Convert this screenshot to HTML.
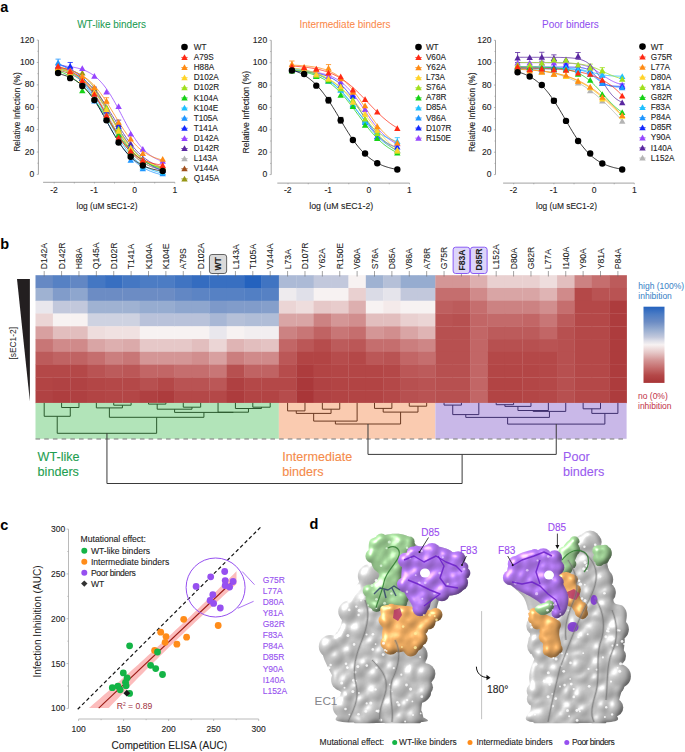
<!DOCTYPE html><html><head><meta charset="utf-8"><style>html,body{margin:0;padding:0;background:#fff;}body{width:685px;height:752px;overflow:hidden;}svg{display:block;}text{font-family:"Liberation Sans",sans-serif;}</style></head><body><svg width="685" height="752" viewBox="0 0 685 752"><text x="0.30" y="12.00" font-size="14.5" fill="#000" text-anchor="start" font-weight="bold" >a</text>
<text x="111.60" y="27.70" font-size="10" fill="#1a9b52" stroke="#1a9b52" stroke-width="0.05" text-anchor="middle" font-weight="normal" >WT-like binders</text>
<line x1="38.4" y1="40.10" x2="38.4" y2="174.40" stroke="#8a8a8a" stroke-width="0.8"/>
<line x1="36.80" y1="174.40" x2="38.4" y2="174.40" stroke="#8a8a8a" stroke-width="0.6"/>
<text x="34.40" y="177.00" font-size="8.6" fill="#222" stroke="#222" stroke-width="0.1" text-anchor="end" font-weight="normal" >0</text>
<line x1="37.40" y1="163.21" x2="38.4" y2="163.21" stroke="#8a8a8a" stroke-width="0.6"/>
<line x1="36.80" y1="152.02" x2="38.4" y2="152.02" stroke="#8a8a8a" stroke-width="0.6"/>
<text x="34.40" y="154.62" font-size="8.6" fill="#222" stroke="#222" stroke-width="0.1" text-anchor="end" font-weight="normal" >20</text>
<line x1="37.40" y1="140.82" x2="38.4" y2="140.82" stroke="#8a8a8a" stroke-width="0.6"/>
<line x1="36.80" y1="129.63" x2="38.4" y2="129.63" stroke="#8a8a8a" stroke-width="0.6"/>
<text x="34.40" y="132.23" font-size="8.6" fill="#222" stroke="#222" stroke-width="0.1" text-anchor="end" font-weight="normal" >40</text>
<line x1="37.40" y1="118.44" x2="38.4" y2="118.44" stroke="#8a8a8a" stroke-width="0.6"/>
<line x1="36.80" y1="107.25" x2="38.4" y2="107.25" stroke="#8a8a8a" stroke-width="0.6"/>
<text x="34.40" y="109.85" font-size="8.6" fill="#222" stroke="#222" stroke-width="0.1" text-anchor="end" font-weight="normal" >60</text>
<line x1="37.40" y1="96.06" x2="38.4" y2="96.06" stroke="#8a8a8a" stroke-width="0.6"/>
<line x1="36.80" y1="84.87" x2="38.4" y2="84.87" stroke="#8a8a8a" stroke-width="0.6"/>
<text x="34.40" y="87.47" font-size="8.6" fill="#222" stroke="#222" stroke-width="0.1" text-anchor="end" font-weight="normal" >80</text>
<line x1="37.40" y1="73.67" x2="38.4" y2="73.67" stroke="#8a8a8a" stroke-width="0.6"/>
<line x1="36.80" y1="62.48" x2="38.4" y2="62.48" stroke="#8a8a8a" stroke-width="0.6"/>
<text x="34.40" y="65.08" font-size="8.6" fill="#222" stroke="#222" stroke-width="0.1" text-anchor="end" font-weight="normal" >100</text>
<line x1="37.40" y1="51.29" x2="38.4" y2="51.29" stroke="#8a8a8a" stroke-width="0.6"/>
<line x1="36.80" y1="40.10" x2="38.4" y2="40.10" stroke="#8a8a8a" stroke-width="0.6"/>
<text x="34.40" y="42.70" font-size="8.6" fill="#222" stroke="#222" stroke-width="0.1" text-anchor="end" font-weight="normal" >120</text>
<line x1="43.1" y1="182.3" x2="174.80" y2="182.3" stroke="#8a8a8a" stroke-width="0.8"/>
<line x1="54.20" y1="182.3" x2="54.20" y2="183.50" stroke="#8a8a8a" stroke-width="0.6"/>
<text x="54.00" y="193.20" font-size="8.6" fill="#222" stroke="#222" stroke-width="0.1" text-anchor="middle" font-weight="normal" >-2</text>
<line x1="74.30" y1="182.3" x2="74.30" y2="183.50" stroke="#8a8a8a" stroke-width="0.6"/>
<line x1="94.40" y1="182.3" x2="94.40" y2="183.50" stroke="#8a8a8a" stroke-width="0.6"/>
<text x="94.20" y="193.20" font-size="8.6" fill="#222" stroke="#222" stroke-width="0.1" text-anchor="middle" font-weight="normal" >-1</text>
<line x1="114.50" y1="182.3" x2="114.50" y2="183.50" stroke="#8a8a8a" stroke-width="0.6"/>
<line x1="134.60" y1="182.3" x2="134.60" y2="183.50" stroke="#8a8a8a" stroke-width="0.6"/>
<text x="134.60" y="193.20" font-size="8.6" fill="#222" stroke="#222" stroke-width="0.1" text-anchor="middle" font-weight="normal" >0</text>
<line x1="154.70" y1="182.3" x2="154.70" y2="183.50" stroke="#8a8a8a" stroke-width="0.6"/>
<line x1="174.80" y1="182.3" x2="174.80" y2="183.50" stroke="#8a8a8a" stroke-width="0.6"/>
<text x="174.80" y="193.20" font-size="8.6" fill="#222" stroke="#222" stroke-width="0.1" text-anchor="middle" font-weight="normal" >1</text>
<text x="107.00" y="208.50" font-size="8.4" fill="#222" stroke="#222" stroke-width="0.1" text-anchor="middle" font-weight="normal" >log (uM sEC1-2)</text>
<text x="0.00" y="0.00" font-size="8.4" fill="#222" stroke="#222" stroke-width="0.1" text-anchor="middle" font-weight="normal" transform="translate(20.00,112.05) rotate(-90)">Relative Infection (%)</text>
<polyline points="58.10,67.49 58.97,67.61 59.84,67.74 60.71,67.87 61.59,68.01 62.46,68.16 63.33,68.32 64.20,68.49 65.07,68.68 65.94,68.87 66.82,69.08 67.69,69.30 68.56,69.53 69.43,69.78 70.30,70.04 71.17,70.32 72.05,70.62 72.92,70.94 73.79,71.27 74.66,71.63 75.53,72.01 76.40,72.41 77.28,72.83 78.15,73.28 79.02,73.76 79.89,74.26 80.76,74.80 81.63,75.36 82.51,75.95 83.38,76.58 84.25,77.24 85.12,77.93 85.99,78.66 86.86,79.43 87.74,80.23 88.61,81.08 89.48,81.96 90.35,82.89 91.22,83.86 92.09,84.87 92.97,85.93 93.84,87.03 94.71,88.17 95.58,89.35 96.45,90.58 97.32,91.86 98.20,93.17 99.07,94.53 99.94,95.93 100.81,97.37 101.68,98.84 102.55,100.35 103.43,101.90 104.30,103.48 105.17,105.08 106.04,106.71 106.91,108.37 107.78,110.04 108.66,111.73 109.53,113.44 110.40,115.15 111.27,116.87 112.14,118.59 113.01,120.31 113.89,122.02 114.76,123.73 115.63,125.42 116.50,127.09 117.37,128.75 118.24,130.38 119.12,131.98 119.99,133.56 120.86,135.11 121.73,136.62 122.60,138.09 123.47,139.53 124.35,140.93 125.22,142.28 126.09,143.60 126.96,144.87 127.83,146.10 128.70,147.29 129.58,148.43 130.45,149.53 131.32,150.58 132.19,151.59 133.06,152.56 133.93,153.49 134.81,154.37 135.68,155.22 136.55,156.02 137.42,156.79 138.29,157.52 139.16,158.22 140.04,158.87 140.91,159.50 141.78,160.09 142.65,160.65 143.52,161.18 144.39,161.69 145.27,162.16 146.14,162.61 147.01,163.04 147.88,163.44 148.75,163.82 149.62,164.17 150.50,164.51 151.37,164.82 152.24,165.12 153.11,165.40 153.98,165.67 154.85,165.92 155.73,166.15 156.60,166.37 157.47,166.58 158.34,166.77 159.21,166.95 160.08,167.12 160.96,167.28 161.83,167.43 162.70,167.58" fill="none" stroke="#969614" stroke-width="0.8"/>
<polyline points="58.10,70.26 58.97,70.45 59.84,70.64 60.71,70.84 61.59,71.06 62.46,71.29 63.33,71.53 64.20,71.78 65.07,72.05 65.94,72.33 66.82,72.63 67.69,72.94 68.56,73.27 69.43,73.62 70.30,73.99 71.17,74.38 72.05,74.79 72.92,75.22 73.79,75.67 74.66,76.14 75.53,76.64 76.40,77.16 77.28,77.71 78.15,78.29 79.02,78.89 79.89,79.52 80.76,80.18 81.63,80.88 82.51,81.60 83.38,82.35 84.25,83.14 85.12,83.96 85.99,84.81 86.86,85.70 87.74,86.62 88.61,87.58 89.48,88.57 90.35,89.60 91.22,90.67 92.09,91.77 92.97,92.90 93.84,94.07 94.71,95.28 95.58,96.52 96.45,97.79 97.32,99.09 98.20,100.43 99.07,101.79 99.94,103.18 100.81,104.60 101.68,106.04 102.55,107.51 103.43,108.99 104.30,110.50 105.17,112.02 106.04,113.55 106.91,115.09 107.78,116.65 108.66,118.20 109.53,119.76 110.40,121.32 111.27,122.88 112.14,124.43 113.01,125.98 113.89,127.51 114.76,129.03 115.63,130.54 116.50,132.02 117.37,133.49 118.24,134.93 119.12,136.35 119.99,137.75 120.86,139.11 121.73,140.45 122.60,141.75 123.47,143.02 124.35,144.26 125.22,145.47 126.09,146.64 126.96,147.78 127.83,148.88 128.70,149.95 129.58,150.98 130.45,151.97 131.32,152.93 132.19,153.86 133.06,154.75 133.93,155.60 134.81,156.42 135.68,157.21 136.55,157.97 137.42,158.69 138.29,159.38 139.16,160.05 140.04,160.68 140.91,161.28 141.78,161.86 142.65,162.41 143.52,162.94 144.39,163.44 145.27,163.91 146.14,164.36 147.01,164.79 147.88,165.20 148.75,165.59 149.62,165.96 150.50,166.31 151.37,166.64 152.24,166.96 153.11,167.26 153.98,167.54 154.85,167.81 155.73,168.06 156.60,168.30 157.47,168.53 158.34,168.75 159.21,168.95 160.08,169.15 160.96,169.33 161.83,169.50 162.70,169.67" fill="none" stroke="#a0501e" stroke-width="0.8"/>
<polyline points="58.10,69.06 58.97,69.24 59.84,69.44 60.71,69.65 61.59,69.86 62.46,70.09 63.33,70.34 64.20,70.59 65.07,70.86 65.94,71.15 66.82,71.45 67.69,71.77 68.56,72.10 69.43,72.45 70.30,72.82 71.17,73.21 72.05,73.62 72.92,74.05 73.79,74.50 74.66,74.97 75.53,75.47 76.40,75.99 77.28,76.54 78.15,77.12 79.02,77.72 79.89,78.35 80.76,79.00 81.63,79.69 82.51,80.41 83.38,81.16 84.25,81.94 85.12,82.75 85.99,83.60 86.86,84.48 87.74,85.39 88.61,86.34 89.48,87.33 90.35,88.35 91.22,89.40 92.09,90.49 92.97,91.61 93.84,92.77 94.71,93.97 95.58,95.19 96.45,96.45 97.32,97.74 98.20,99.07 99.07,100.42 99.94,101.80 100.81,103.20 101.68,104.64 102.55,106.09 103.43,107.57 104.30,109.06 105.17,110.57 106.04,112.10 106.91,113.64 107.78,115.19 108.66,116.74 109.53,118.30 110.40,119.86 111.27,121.43 112.14,122.98 113.01,124.53 113.89,126.08 114.76,127.61 115.63,129.13 116.50,130.63 117.37,132.11 118.24,133.57 119.12,135.01 119.99,136.43 120.86,137.82 121.73,139.18 122.60,140.51 123.47,141.81 124.35,143.08 125.22,144.32 126.09,145.52 126.96,146.70 127.83,147.83 128.70,148.93 129.58,150.00 130.45,151.03 131.32,152.03 132.19,152.99 133.06,153.91 133.93,154.81 134.81,155.66 135.68,156.49 136.55,157.28 137.42,158.04 138.29,158.77 139.16,159.47 140.04,160.14 140.91,160.77 141.78,161.39 142.65,161.97 143.52,162.52 144.39,163.06 145.27,163.56 146.14,164.04 147.01,164.50 147.88,164.94 148.75,165.36 149.62,165.75 150.50,166.13 151.37,166.49 152.24,166.83 153.11,167.15 153.98,167.45 154.85,167.74 155.73,168.02 156.60,168.28 157.47,168.53 158.34,168.76 159.21,168.98 160.08,169.19 160.96,169.39 161.83,169.58 162.70,169.76" fill="none" stroke="#b4b4b4" stroke-width="0.8"/>
<polyline points="58.10,68.55 58.97,68.73 59.84,68.92 60.71,69.12 61.59,69.33 62.46,69.56 63.33,69.79 64.20,70.03 65.07,70.28 65.94,70.55 66.82,70.83 67.69,71.13 68.56,71.43 69.43,71.76 70.30,72.09 71.17,72.45 72.05,72.82 72.92,73.20 73.79,73.61 74.66,74.03 75.53,74.47 76.40,74.93 77.28,75.42 78.15,75.92 79.02,76.44 79.89,76.99 80.76,77.56 81.63,78.15 82.51,78.77 83.38,79.41 84.25,80.08 85.12,80.78 85.99,81.50 86.86,82.24 87.74,83.02 88.61,83.82 89.48,84.65 90.35,85.51 91.22,86.39 92.09,87.31 92.97,88.25 93.84,89.23 94.71,90.23 95.58,91.26 96.45,92.32 97.32,93.41 98.20,94.52 99.07,95.66 99.94,96.83 100.81,98.03 101.68,99.25 102.55,100.49 103.43,101.75 104.30,103.04 105.17,104.35 106.04,105.68 106.91,107.02 107.78,108.38 108.66,109.75 109.53,111.14 110.40,112.54 111.27,113.94 112.14,115.36 113.01,116.78 113.89,118.20 114.76,119.62 115.63,121.05 116.50,122.47 117.37,123.88 118.24,125.29 119.12,126.69 119.99,128.08 120.86,129.46 121.73,130.82 122.60,132.17 123.47,133.50 124.35,134.82 125.22,136.11 126.09,137.38 126.96,138.63 127.83,139.86 128.70,141.06 129.58,142.24 130.45,143.39 131.32,144.51 132.19,145.61 133.06,146.67 133.93,147.71 134.81,148.73 135.68,149.71 136.55,150.66 137.42,151.59 138.29,152.48 139.16,153.35 140.04,154.19 140.91,155.00 141.78,155.78 142.65,156.54 143.52,157.26 144.39,157.97 145.27,158.64 146.14,159.29 147.01,159.92 147.88,160.52 148.75,161.10 149.62,161.65 150.50,162.18 151.37,162.69 152.24,163.18 153.11,163.65 153.98,164.09 154.85,164.52 155.73,164.93 156.60,165.33 157.47,165.70 158.34,166.06 159.21,166.40 160.08,166.73 160.96,167.04 161.83,167.34 162.70,167.62" fill="none" stroke="#5a28a0" stroke-width="0.8"/>
<polyline points="58.10,65.53 58.97,65.58 59.84,65.64 60.71,65.70 61.59,65.76 62.46,65.83 63.33,65.91 64.20,65.98 65.07,66.07 65.94,66.16 66.82,66.25 67.69,66.36 68.56,66.47 69.43,66.58 70.30,66.71 71.17,66.84 72.05,66.98 72.92,67.13 73.79,67.29 74.66,67.46 75.53,67.64 76.40,67.83 77.28,68.04 78.15,68.26 79.02,68.49 79.89,68.74 80.76,69.00 81.63,69.28 82.51,69.58 83.38,69.90 84.25,70.23 85.12,70.59 85.99,70.96 86.86,71.36 87.74,71.79 88.61,72.24 89.48,72.71 90.35,73.21 91.22,73.75 92.09,74.31 92.97,74.90 93.84,75.52 94.71,76.18 95.58,76.87 96.45,77.60 97.32,78.37 98.20,79.17 99.07,80.01 99.94,80.89 100.81,81.82 101.68,82.78 102.55,83.79 103.43,84.84 104.30,85.93 105.17,87.07 106.04,88.24 106.91,89.47 107.78,90.73 108.66,92.03 109.53,93.38 110.40,94.76 111.27,96.18 112.14,97.64 113.01,99.13 113.89,100.65 114.76,102.20 115.63,103.78 116.50,105.39 117.37,107.01 118.24,108.65 119.12,110.31 119.99,111.97 120.86,113.64 121.73,115.32 122.60,116.99 123.47,118.66 124.35,120.33 125.22,121.98 126.09,123.62 126.96,125.23 127.83,126.83 128.70,128.40 129.58,129.95 130.45,131.46 131.32,132.94 132.19,134.39 133.06,135.80 133.93,137.17 134.81,138.51 135.68,139.80 136.55,141.05 137.42,142.26 138.29,143.43 139.16,144.55 140.04,145.63 140.91,146.67 141.78,147.66 142.65,148.62 143.52,149.53 144.39,150.40 145.27,151.23 146.14,152.03 147.01,152.78 147.88,153.50 148.75,154.18 149.62,154.83 150.50,155.45 151.37,156.03 152.24,156.58 153.11,157.11 153.98,157.60 154.85,158.07 155.73,158.51 156.60,158.93 157.47,159.32 158.34,159.69 159.21,160.04 160.08,160.37 160.96,160.68 161.83,160.98 162.70,161.25" fill="none" stroke="#9646ff" stroke-width="0.8"/>
<polyline points="58.10,63.89 58.97,64.17 59.84,64.46 60.71,64.77 61.59,65.09 62.46,65.42 63.33,65.77 64.20,66.14 65.07,66.51 65.94,66.91 66.82,67.32 67.69,67.74 68.56,68.19 69.43,68.65 70.30,69.13 71.17,69.63 72.05,70.15 72.92,70.68 73.79,71.24 74.66,71.82 75.53,72.42 76.40,73.05 77.28,73.69 78.15,74.36 79.02,75.05 79.89,75.77 80.76,76.51 81.63,77.27 82.51,78.06 83.38,78.88 84.25,79.72 85.12,80.58 85.99,81.47 86.86,82.39 87.74,83.33 88.61,84.30 89.48,85.30 90.35,86.32 91.22,87.37 92.09,88.44 92.97,89.54 93.84,90.66 94.71,91.81 95.58,92.98 96.45,94.18 97.32,95.39 98.20,96.63 99.07,97.89 99.94,99.17 100.81,100.47 101.68,101.79 102.55,103.12 103.43,104.47 104.30,105.83 105.17,107.21 106.04,108.59 106.91,109.99 107.78,111.40 108.66,112.81 109.53,114.23 110.40,115.65 111.27,117.08 112.14,118.50 113.01,119.93 113.89,121.35 114.76,122.77 115.63,124.18 116.50,125.59 117.37,126.98 118.24,128.37 119.12,129.75 119.99,131.11 120.86,132.46 121.73,133.79 122.60,135.10 123.47,136.40 124.35,137.68 125.22,138.94 126.09,140.18 126.96,141.39 127.83,142.58 128.70,143.75 129.58,144.90 130.45,146.02 131.32,147.12 132.19,148.19 133.06,149.23 133.93,150.25 134.81,151.25 135.68,152.22 136.55,153.16 137.42,154.08 138.29,154.96 139.16,155.83 140.04,156.67 140.91,157.48 141.78,158.27 142.65,159.03 143.52,159.77 144.39,160.48 145.27,161.17 146.14,161.84 147.01,162.48 147.88,163.11 148.75,163.71 149.62,164.28 150.50,164.84 151.37,165.38 152.24,165.89 153.11,166.39 153.98,166.87 154.85,167.33 155.73,167.77 156.60,168.20 157.47,168.61 158.34,169.00 159.21,169.38 160.08,169.74 160.96,170.09 161.83,170.42 162.70,170.74" fill="none" stroke="#1428ff" stroke-width="0.8"/>
<polyline points="58.10,63.88 58.97,64.23 59.84,64.59 60.71,64.97 61.59,65.37 62.46,65.79 63.33,66.22 64.20,66.68 65.07,67.16 65.94,67.66 66.82,68.18 67.69,68.72 68.56,69.29 69.43,69.88 70.30,70.50 71.17,71.14 72.05,71.81 72.92,72.50 73.79,73.23 74.66,73.98 75.53,74.76 76.40,75.57 77.28,76.41 78.15,77.29 79.02,78.19 79.89,79.13 80.76,80.09 81.63,81.09 82.51,82.12 83.38,83.19 84.25,84.28 85.12,85.41 85.99,86.57 86.86,87.77 87.74,88.99 88.61,90.24 89.48,91.53 90.35,92.84 91.22,94.19 92.09,95.56 92.97,96.96 93.84,98.38 94.71,99.83 95.58,101.30 96.45,102.79 97.32,104.30 98.20,105.83 99.07,107.37 99.94,108.93 100.81,110.50 101.68,112.08 102.55,113.67 103.43,115.27 104.30,116.86 105.17,118.46 106.04,120.06 106.91,121.65 107.78,123.24 108.66,124.82 109.53,126.40 110.40,127.96 111.27,129.50 112.14,131.03 113.01,132.55 113.89,134.04 114.76,135.51 115.63,136.96 116.50,138.39 117.37,139.79 118.24,141.16 119.12,142.51 119.99,143.83 120.86,145.12 121.73,146.38 122.60,147.60 123.47,148.80 124.35,149.96 125.22,151.10 126.09,152.20 126.96,153.26 127.83,154.30 128.70,155.30 129.58,156.27 130.45,157.21 131.32,158.12 132.19,159.00 133.06,159.84 133.93,160.66 134.81,161.44 135.68,162.20 136.55,162.92 137.42,163.62 138.29,164.30 139.16,164.94 140.04,165.56 140.91,166.16 141.78,166.73 142.65,167.27 143.52,167.79 144.39,168.30 145.27,168.78 146.14,169.23 147.01,169.67 147.88,170.09 148.75,170.49 149.62,170.88 150.50,171.24 151.37,171.59 152.24,171.92 153.11,172.24 153.98,172.54 154.85,172.83 155.73,173.11 156.60,173.37 157.47,173.62 158.34,173.86 159.21,174.09 160.08,174.30 160.96,174.51 161.83,174.71 162.70,174.89" fill="none" stroke="#1e96ff" stroke-width="0.8"/>
<polyline points="58.10,67.48 58.97,67.73 59.84,67.99 60.71,68.26 61.59,68.55 62.46,68.85 63.33,69.16 64.20,69.49 65.07,69.84 65.94,70.21 66.82,70.59 67.69,71.00 68.56,71.42 69.43,71.86 70.30,72.33 71.17,72.82 72.05,73.33 72.92,73.86 73.79,74.42 74.66,75.01 75.53,75.62 76.40,76.25 77.28,76.92 78.15,77.61 79.02,78.34 79.89,79.09 80.76,79.88 81.63,80.69 82.51,81.54 83.38,82.42 84.25,83.33 85.12,84.28 85.99,85.26 86.86,86.27 87.74,87.32 88.61,88.40 89.48,89.52 90.35,90.67 91.22,91.85 92.09,93.06 92.97,94.31 93.84,95.59 94.71,96.90 95.58,98.24 96.45,99.61 97.32,101.00 98.20,102.42 99.07,103.87 99.94,105.34 100.81,106.83 101.68,108.33 102.55,109.86 103.43,111.40 104.30,112.95 105.17,114.52 106.04,116.09 106.91,117.66 107.78,119.24 108.66,120.83 109.53,122.40 110.40,123.98 111.27,125.55 112.14,127.11 113.01,128.66 113.89,130.19 114.76,131.71 115.63,133.21 116.50,134.69 117.37,136.15 118.24,137.59 119.12,139.00 119.99,140.39 120.86,141.75 121.73,143.07 122.60,144.37 123.47,145.64 124.35,146.87 125.22,148.08 126.09,149.25 126.96,150.38 127.83,151.49 128.70,152.56 129.58,153.59 130.45,154.59 131.32,155.56 132.19,156.49 133.06,157.39 133.93,158.26 134.81,159.10 135.68,159.90 136.55,160.67 137.42,161.42 138.29,162.13 139.16,162.81 140.04,163.47 140.91,164.10 141.78,164.70 142.65,165.27 143.52,165.82 144.39,166.35 145.27,166.85 146.14,167.33 147.01,167.79 147.88,168.22 148.75,168.64 149.62,169.04 150.50,169.41 151.37,169.77 152.24,170.12 153.11,170.44 153.98,170.75 154.85,171.05 155.73,171.33 156.60,171.59 157.47,171.85 158.34,172.09 159.21,172.32 160.08,172.53 160.96,172.74 161.83,172.93 162.70,173.12" fill="none" stroke="#1ec0ff" stroke-width="0.8"/>
<polyline points="58.10,70.89 58.97,71.20 59.84,71.52 60.71,71.85 61.59,72.20 62.46,72.57 63.33,72.94 64.20,73.34 65.07,73.75 65.94,74.18 66.82,74.62 67.69,75.08 68.56,75.56 69.43,76.06 70.30,76.58 71.17,77.12 72.05,77.68 72.92,78.26 73.79,78.86 74.66,79.48 75.53,80.12 76.40,80.79 77.28,81.48 78.15,82.19 79.02,82.93 79.89,83.69 80.76,84.47 81.63,85.28 82.51,86.11 83.38,86.97 84.25,87.85 85.12,88.76 85.99,89.69 86.86,90.64 87.74,91.62 88.61,92.63 89.48,93.65 90.35,94.70 91.22,95.78 92.09,96.87 92.97,97.99 93.84,99.12 94.71,100.28 95.58,101.46 96.45,102.66 97.32,103.87 98.20,105.10 99.07,106.34 99.94,107.60 100.81,108.87 101.68,110.15 102.55,111.45 103.43,112.75 104.30,114.06 105.17,115.37 106.04,116.69 106.91,118.01 107.78,119.33 108.66,120.65 109.53,121.97 110.40,123.29 111.27,124.60 112.14,125.91 113.01,127.21 113.89,128.49 114.76,129.77 115.63,131.04 116.50,132.29 117.37,133.53 118.24,134.75 119.12,135.95 119.99,137.14 120.86,138.31 121.73,139.46 122.60,140.59 123.47,141.69 124.35,142.78 125.22,143.84 126.09,144.88 126.96,145.90 127.83,146.89 128.70,147.86 129.58,148.80 130.45,149.72 131.32,150.62 132.19,151.49 133.06,152.34 133.93,153.16 134.81,153.95 135.68,154.73 136.55,155.48 137.42,156.20 138.29,156.90 139.16,157.58 140.04,158.24 140.91,158.87 141.78,159.49 142.65,160.08 143.52,160.65 144.39,161.20 145.27,161.73 146.14,162.24 147.01,162.73 147.88,163.20 148.75,163.65 149.62,164.09 150.50,164.51 151.37,164.91 152.24,165.30 153.11,165.67 153.98,166.03 154.85,166.37 155.73,166.70 156.60,167.01 157.47,167.31 158.34,167.60 159.21,167.88 160.08,168.15 160.96,168.40 161.83,168.64 162.70,168.88" fill="none" stroke="#16d216" stroke-width="0.8"/>
<polyline points="58.10,68.79 58.97,68.97 59.84,69.16 60.71,69.36 61.59,69.57 62.46,69.79 63.33,70.02 64.20,70.26 65.07,70.52 65.94,70.79 66.82,71.07 67.69,71.37 68.56,71.68 69.43,72.01 70.30,72.35 71.17,72.71 72.05,73.09 72.92,73.49 73.79,73.91 74.66,74.34 75.53,74.80 76.40,75.28 77.28,75.78 78.15,76.31 79.02,76.85 79.89,77.43 80.76,78.02 81.63,78.65 82.51,79.30 83.38,79.97 84.25,80.68 85.12,81.41 85.99,82.17 86.86,82.97 87.74,83.79 88.61,84.64 89.48,85.53 90.35,86.44 91.22,87.39 92.09,88.37 92.97,89.38 93.84,90.42 94.71,91.49 95.58,92.59 96.45,93.73 97.32,94.89 98.20,96.09 99.07,97.31 99.94,98.56 100.81,99.84 101.68,101.14 102.55,102.47 103.43,103.82 104.30,105.19 105.17,106.58 106.04,107.99 106.91,109.42 107.78,110.86 108.66,112.31 109.53,113.78 110.40,115.25 111.27,116.73 112.14,118.21 113.01,119.69 113.89,121.17 114.76,122.65 115.63,124.13 116.50,125.59 117.37,127.05 118.24,128.50 119.12,129.93 119.99,131.34 120.86,132.74 121.73,134.12 122.60,135.47 123.47,136.81 124.35,138.12 125.22,139.40 126.09,140.66 126.96,141.89 127.83,143.10 128.70,144.27 129.58,145.41 130.45,146.52 131.32,147.61 132.19,148.66 133.06,149.68 133.93,150.66 134.81,151.62 135.68,152.54 136.55,153.44 137.42,154.30 138.29,155.13 139.16,155.93 140.04,156.70 140.91,157.44 141.78,158.16 142.65,158.84 143.52,159.50 144.39,160.13 145.27,160.74 146.14,161.31 147.01,161.87 147.88,162.40 148.75,162.91 149.62,163.39 150.50,163.86 151.37,164.30 152.24,164.72 153.11,165.13 153.98,165.51 154.85,165.88 155.73,166.23 156.60,166.56 157.47,166.88 158.34,167.18 159.21,167.46 160.08,167.74 160.96,168.00 161.83,168.24 162.70,168.48" fill="none" stroke="#a0e01e" stroke-width="0.8"/>
<polyline points="58.10,68.65 58.97,68.82 59.84,69.00 60.71,69.19 61.59,69.40 62.46,69.61 63.33,69.84 64.20,70.07 65.07,70.32 65.94,70.59 66.82,70.87 67.69,71.16 68.56,71.47 69.43,71.80 70.30,72.14 71.17,72.50 72.05,72.88 72.92,73.28 73.79,73.69 74.66,74.13 75.53,74.60 76.40,75.08 77.28,75.59 78.15,76.12 79.02,76.68 79.89,77.26 80.76,77.88 81.63,78.51 82.51,79.18 83.38,79.88 84.25,80.61 85.12,81.36 85.99,82.15 86.86,82.98 87.74,83.83 88.61,84.72 89.48,85.64 90.35,86.59 91.22,87.58 92.09,88.60 92.97,89.65 93.84,90.74 94.71,91.86 95.58,93.02 96.45,94.21 97.32,95.43 98.20,96.68 99.07,97.96 99.94,99.27 100.81,100.60 101.68,101.97 102.55,103.35 103.43,104.76 104.30,106.19 105.17,107.64 106.04,109.11 106.91,110.59 107.78,112.09 108.66,113.59 109.53,115.10 110.40,116.61 111.27,118.13 112.14,119.65 113.01,121.16 113.89,122.67 114.76,124.18 115.63,125.67 116.50,127.15 117.37,128.61 118.24,130.06 119.12,131.48 119.99,132.89 120.86,134.28 121.73,135.63 122.60,136.97 123.47,138.27 124.35,139.55 125.22,140.79 126.09,142.01 126.96,143.19 127.83,144.34 128.70,145.46 129.58,146.54 130.45,147.59 131.32,148.61 132.19,149.59 133.06,150.54 133.93,151.46 134.81,152.34 135.68,153.19 136.55,154.01 137.42,154.79 138.29,155.54 139.16,156.27 140.04,156.96 140.91,157.62 141.78,158.26 142.65,158.86 143.52,159.44 144.39,160.00 145.27,160.53 146.14,161.03 147.01,161.51 147.88,161.97 148.75,162.41 149.62,162.83 150.50,163.22 151.37,163.60 152.24,163.96 153.11,164.30 153.98,164.62 154.85,164.93 155.73,165.22 156.60,165.49 157.47,165.76 158.34,166.00 159.21,166.24 160.08,166.46 160.96,166.68 161.83,166.88 162.70,167.07" fill="none" stroke="#ffd42a" stroke-width="0.8"/>
<polyline points="58.10,67.66 58.97,67.79 59.84,67.92 60.71,68.06 61.59,68.21 62.46,68.37 63.33,68.54 64.20,68.71 65.07,68.90 65.94,69.10 66.82,69.31 67.69,69.53 68.56,69.76 69.43,70.00 70.30,70.26 71.17,70.54 72.05,70.82 72.92,71.13 73.79,71.45 74.66,71.78 75.53,72.14 76.40,72.51 77.28,72.91 78.15,73.32 79.02,73.75 79.89,74.21 80.76,74.69 81.63,75.19 82.51,75.72 83.38,76.27 84.25,76.85 85.12,77.45 85.99,78.08 86.86,78.75 87.74,79.44 88.61,80.16 89.48,80.91 90.35,81.69 91.22,82.50 92.09,83.35 92.97,84.22 93.84,85.13 94.71,86.08 95.58,87.05 96.45,88.06 97.32,89.11 98.20,90.18 99.07,91.29 99.94,92.42 100.81,93.59 101.68,94.79 102.55,96.02 103.43,97.27 104.30,98.55 105.17,99.86 106.04,101.19 106.91,102.54 107.78,103.91 108.66,105.30 109.53,106.70 110.40,108.12 111.27,109.55 112.14,110.99 113.01,112.43 113.89,113.88 114.76,115.33 115.63,116.77 116.50,118.22 117.37,119.65 118.24,121.08 119.12,122.50 119.99,123.90 120.86,125.29 121.73,126.66 122.60,128.01 123.47,129.34 124.35,130.64 125.22,131.92 126.09,133.18 126.96,134.40 127.83,135.60 128.70,136.76 129.58,137.90 130.45,139.00 131.32,140.08 132.19,141.12 133.06,142.12 133.93,143.10 134.81,144.04 135.68,144.95 136.55,145.82 137.42,146.66 138.29,147.48 139.16,148.26 140.04,149.00 140.91,149.72 141.78,150.41 142.65,151.07 143.52,151.70 144.39,152.30 145.27,152.88 146.14,153.43 147.01,153.96 147.88,154.46 148.75,154.93 149.62,155.39 150.50,155.82 151.37,156.23 152.24,156.62 153.11,157.00 153.98,157.35 154.85,157.69 155.73,158.01 156.60,158.31 157.47,158.59 158.34,158.87 159.21,159.13 160.08,159.37 160.96,159.60 161.83,159.82 162.70,160.03" fill="none" stroke="#ff8c14" stroke-width="0.8"/>
<polyline points="58.10,66.68 58.97,66.88 59.84,67.09 60.71,67.32 61.59,67.56 62.46,67.82 63.33,68.09 64.20,68.38 65.07,68.68 65.94,69.00 66.82,69.34 67.69,69.70 68.56,70.07 69.43,70.47 70.30,70.89 71.17,71.33 72.05,71.80 72.92,72.29 73.79,72.81 74.66,73.35 75.53,73.92 76.40,74.52 77.28,75.15 78.15,75.81 79.02,76.50 79.89,77.23 80.76,77.99 81.63,78.78 82.51,79.61 83.38,80.47 84.25,81.37 85.12,82.31 85.99,83.28 86.86,84.29 87.74,85.34 88.61,86.43 89.48,87.55 90.35,88.72 91.22,89.92 92.09,91.16 92.97,92.43 93.84,93.74 94.71,95.08 95.58,96.46 96.45,97.86 97.32,99.30 98.20,100.76 99.07,102.25 99.94,103.76 100.81,105.29 101.68,106.84 102.55,108.40 103.43,109.98 104.30,111.57 105.17,113.17 106.04,114.76 106.91,116.36 107.78,117.96 108.66,119.55 109.53,121.14 110.40,122.71 111.27,124.27 112.14,125.81 113.01,127.34 113.89,128.84 114.76,130.31 115.63,131.76 116.50,133.19 117.37,134.58 118.24,135.94 119.12,137.27 119.99,138.56 120.86,139.82 121.73,141.04 122.60,142.22 123.47,143.37 124.35,144.48 125.22,145.55 126.09,146.58 126.96,147.58 127.83,148.53 128.70,149.46 129.58,150.34 130.45,151.19 131.32,152.00 132.19,152.78 133.06,153.52 133.93,154.23 134.81,154.91 135.68,155.55 136.55,156.17 137.42,156.76 138.29,157.31 139.16,157.85 140.04,158.35 140.91,158.83 141.78,159.29 142.65,159.72 143.52,160.13 144.39,160.52 145.27,160.89 146.14,161.23 147.01,161.56 147.88,161.88 148.75,162.17 149.62,162.45 150.50,162.72 151.37,162.96 152.24,163.20 153.11,163.42 153.98,163.63 154.85,163.83 155.73,164.02 156.60,164.20 157.47,164.36 158.34,164.52 159.21,164.67 160.08,164.81 160.96,164.94 161.83,165.06 162.70,165.18" fill="none" stroke="#ff2a14" stroke-width="0.8"/>
<polyline points="58.10,73.62 58.97,73.81 59.84,74.01 60.71,74.22 61.59,74.45 62.46,74.69 63.33,74.95 64.20,75.22 65.07,75.50 65.94,75.80 66.82,76.12 67.69,76.46 68.56,76.81 69.43,77.19 70.30,77.58 71.17,78.00 72.05,78.44 72.92,78.91 73.79,79.40 74.66,79.91 75.53,80.45 76.40,81.02 77.28,81.62 78.15,82.25 79.02,82.90 79.89,83.59 80.76,84.31 81.63,85.07 82.51,85.86 83.38,86.68 84.25,87.55 85.12,88.44 85.99,89.38 86.86,90.35 87.74,91.35 88.61,92.40 89.48,93.48 90.35,94.61 91.22,95.76 92.09,96.96 92.97,98.19 93.84,99.46 94.71,100.76 95.58,102.10 96.45,103.47 97.32,104.86 98.20,106.29 99.07,107.75 99.94,109.22 100.81,110.73 101.68,112.25 102.55,113.79 103.43,115.34 104.30,116.91 105.17,118.48 106.04,120.06 106.91,121.65 107.78,123.23 108.66,124.81 109.53,126.39 110.40,127.96 111.27,129.51 112.14,131.05 113.01,132.58 113.89,134.08 114.76,135.56 115.63,137.02 116.50,138.45 117.37,139.85 118.24,141.23 119.12,142.57 119.99,143.87 120.86,145.14 121.73,146.38 122.60,147.58 123.47,148.74 124.35,149.87 125.22,150.96 126.09,152.01 126.96,153.02 127.83,154.00 128.70,154.93 129.58,155.84 130.45,156.70 131.32,157.53 132.19,158.32 133.06,159.08 133.93,159.81 134.81,160.50 135.68,161.16 136.55,161.79 137.42,162.40 138.29,162.97 139.16,163.51 140.04,164.03 140.91,164.52 141.78,164.99 142.65,165.43 143.52,165.85 144.39,166.25 145.27,166.63 146.14,166.99 147.01,167.33 147.88,167.65 148.75,167.95 149.62,168.24 150.50,168.51 151.37,168.76 152.24,169.01 153.11,169.23 153.98,169.45 154.85,169.65 155.73,169.85 156.60,170.03 157.47,170.20 158.34,170.36 159.21,170.51 160.08,170.66 160.96,170.79 161.83,170.92 162.70,171.04" fill="none" stroke="#000" stroke-width="0.8"/>
<path d="M55.50,59.13 H60.70 M58.10,59.13 V65.84 M55.50,65.84 H60.70" stroke="#1e96ff" stroke-width="0.8" fill="none"/>
<path d="M67.60,62.48 H72.80 M70.20,62.48 V69.20 M67.60,69.20 H72.80" stroke="#1428ff" stroke-width="0.8" fill="none"/>
<path d="M67.60,67.52 H72.80 M70.20,67.52 V75.35 M67.60,75.35 H72.80" stroke="#969614" stroke-width="0.8" fill="none"/>
<path d="M91.80,87.10 H97.00 M94.40,87.10 V93.82 M91.80,93.82 H97.00" stroke="#5a28a0" stroke-width="0.8" fill="none"/>
<path d="M116.00,120.12 H121.20 M118.60,120.12 V127.95 M116.00,127.95 H121.20" stroke="#5a28a0" stroke-width="0.8" fill="none"/>
<path d="M103.90,97.74 H109.10 M106.50,97.74 V103.33 M103.90,103.33 H109.10" stroke="#ff8c14" stroke-width="0.8" fill="none"/>
<path d="M54.90,70.96 L58.10,65.20 L61.30,70.96 Z" fill="#969614"/>
<path d="M67.00,74.32 L70.20,68.56 L73.40,74.32 Z" fill="#969614"/>
<path d="M79.10,75.44 L82.30,69.68 L85.50,75.44 Z" fill="#969614"/>
<path d="M91.20,91.10 L94.40,85.34 L97.60,91.10 Z" fill="#969614"/>
<path d="M103.30,112.37 L106.50,106.61 L109.70,112.37 Z" fill="#969614"/>
<path d="M115.40,132.51 L118.60,126.75 L121.80,132.51 Z" fill="#969614"/>
<path d="M127.50,152.66 L130.70,146.90 L133.90,152.66 Z" fill="#969614"/>
<path d="M139.60,163.85 L142.80,158.09 L146.00,163.85 Z" fill="#969614"/>
<path d="M159.50,170.56 L162.70,164.81 L165.90,170.56 Z" fill="#969614"/>
<path d="M54.90,72.08 L58.10,66.32 L61.30,72.08 Z" fill="#a0501e"/>
<path d="M67.00,77.67 L70.20,71.91 L73.40,77.67 Z" fill="#a0501e"/>
<path d="M79.10,84.39 L82.30,78.63 L85.50,84.39 Z" fill="#a0501e"/>
<path d="M91.20,98.94 L94.40,93.18 L97.60,98.94 Z" fill="#a0501e"/>
<path d="M103.30,115.73 L106.50,109.97 L109.70,115.73 Z" fill="#a0501e"/>
<path d="M115.40,138.11 L118.60,132.35 L121.80,138.11 Z" fill="#a0501e"/>
<path d="M127.50,156.02 L130.70,150.26 L133.90,156.02 Z" fill="#a0501e"/>
<path d="M139.60,166.09 L142.80,160.33 L146.00,166.09 Z" fill="#a0501e"/>
<path d="M159.50,171.68 L162.70,165.92 L165.90,171.68 Z" fill="#a0501e"/>
<path d="M54.90,70.96 L58.10,65.20 L61.30,70.96 Z" fill="#b4b4b4"/>
<path d="M67.00,76.55 L70.20,70.79 L73.40,76.55 Z" fill="#b4b4b4"/>
<path d="M79.10,83.27 L82.30,77.51 L85.50,83.27 Z" fill="#b4b4b4"/>
<path d="M91.20,96.70 L94.40,90.94 L97.60,96.70 Z" fill="#b4b4b4"/>
<path d="M103.30,115.73 L106.50,109.97 L109.70,115.73 Z" fill="#b4b4b4"/>
<path d="M115.40,135.87 L118.60,130.11 L121.80,135.87 Z" fill="#b4b4b4"/>
<path d="M127.50,154.90 L130.70,149.14 L133.90,154.90 Z" fill="#b4b4b4"/>
<path d="M139.60,166.09 L142.80,160.33 L146.00,166.09 Z" fill="#b4b4b4"/>
<path d="M159.50,171.68 L162.70,165.92 L165.90,171.68 Z" fill="#b4b4b4"/>
<path d="M54.90,70.96 L58.10,65.20 L61.30,70.96 Z" fill="#5a28a0"/>
<path d="M67.00,75.44 L70.20,69.68 L73.40,75.44 Z" fill="#5a28a0"/>
<path d="M79.10,81.03 L82.30,75.27 L85.50,81.03 Z" fill="#5a28a0"/>
<path d="M91.20,93.34 L94.40,87.58 L97.60,93.34 Z" fill="#5a28a0"/>
<path d="M103.30,110.13 L106.50,104.37 L109.70,110.13 Z" fill="#5a28a0"/>
<path d="M115.40,126.92 L118.60,121.16 L121.80,126.92 Z" fill="#5a28a0"/>
<path d="M127.50,146.39 L130.70,140.63 L133.90,146.39 Z" fill="#5a28a0"/>
<path d="M139.60,161.61 L142.80,155.85 L146.00,161.61 Z" fill="#5a28a0"/>
<path d="M159.50,169.45 L162.70,163.69 L165.90,169.45 Z" fill="#5a28a0"/>
<path d="M54.90,68.72 L58.10,62.96 L61.30,68.72 Z" fill="#9646ff"/>
<path d="M67.00,69.84 L70.20,64.08 L73.40,69.84 Z" fill="#9646ff"/>
<path d="M79.10,70.96 L82.30,65.20 L85.50,70.96 Z" fill="#9646ff"/>
<path d="M91.20,78.79 L94.40,73.03 L97.60,78.79 Z" fill="#9646ff"/>
<path d="M103.30,94.46 L106.50,88.70 L109.70,94.46 Z" fill="#9646ff"/>
<path d="M115.40,109.01 L118.60,103.25 L121.80,109.01 Z" fill="#9646ff"/>
<path d="M127.50,136.43 L130.70,130.67 L133.90,136.43 Z" fill="#9646ff"/>
<path d="M139.60,151.65 L142.80,145.89 L146.00,151.65 Z" fill="#9646ff"/>
<path d="M159.50,163.85 L162.70,158.09 L165.90,163.85 Z" fill="#9646ff"/>
<path d="M54.90,68.72 L58.10,62.96 L61.30,68.72 Z" fill="#1428ff"/>
<path d="M67.00,68.72 L70.20,62.96 L73.40,68.72 Z" fill="#1428ff"/>
<path d="M79.10,81.03 L82.30,75.27 L85.50,81.03 Z" fill="#1428ff"/>
<path d="M91.20,95.58 L94.40,89.82 L97.60,95.58 Z" fill="#1428ff"/>
<path d="M103.30,113.49 L106.50,107.73 L109.70,113.49 Z" fill="#1428ff"/>
<path d="M115.40,129.16 L118.60,123.40 L121.80,129.16 Z" fill="#1428ff"/>
<path d="M127.50,149.30 L130.70,143.54 L133.90,149.30 Z" fill="#1428ff"/>
<path d="M139.60,163.85 L142.80,158.09 L146.00,163.85 Z" fill="#1428ff"/>
<path d="M159.50,172.80 L162.70,167.04 L165.90,172.80 Z" fill="#1428ff"/>
<path d="M54.90,65.36 L58.10,59.60 L61.30,65.36 Z" fill="#1e96ff"/>
<path d="M67.00,74.32 L70.20,68.56 L73.40,74.32 Z" fill="#1e96ff"/>
<path d="M79.10,85.51 L82.30,79.75 L85.50,85.51 Z" fill="#1e96ff"/>
<path d="M91.20,103.41 L94.40,97.66 L97.60,103.41 Z" fill="#1e96ff"/>
<path d="M103.30,121.32 L106.50,115.56 L109.70,121.32 Z" fill="#1e96ff"/>
<path d="M115.40,143.70 L118.60,137.94 L121.80,143.70 Z" fill="#1e96ff"/>
<path d="M127.50,162.73 L130.70,156.97 L133.90,162.73 Z" fill="#1e96ff"/>
<path d="M139.60,171.24 L142.80,165.48 L146.00,171.24 Z" fill="#1e96ff"/>
<path d="M159.50,176.16 L162.70,170.40 L165.90,176.16 Z" fill="#1e96ff"/>
<path d="M54.90,69.84 L58.10,64.08 L61.30,69.84 Z" fill="#1ec0ff"/>
<path d="M67.00,75.44 L70.20,69.68 L73.40,75.44 Z" fill="#1ec0ff"/>
<path d="M79.10,84.39 L82.30,78.63 L85.50,84.39 Z" fill="#1ec0ff"/>
<path d="M91.20,100.06 L94.40,94.30 L97.60,100.06 Z" fill="#1ec0ff"/>
<path d="M103.30,119.08 L106.50,113.32 L109.70,119.08 Z" fill="#1ec0ff"/>
<path d="M115.40,140.35 L118.60,134.59 L121.80,140.35 Z" fill="#1ec0ff"/>
<path d="M127.50,158.25 L130.70,152.49 L133.90,158.25 Z" fill="#1ec0ff"/>
<path d="M139.60,169.45 L142.80,163.69 L146.00,169.45 Z" fill="#1ec0ff"/>
<path d="M159.50,175.04 L162.70,169.28 L165.90,175.04 Z" fill="#1ec0ff"/>
<path d="M54.90,73.20 L58.10,67.44 L61.30,73.20 Z" fill="#16d216"/>
<path d="M67.00,77.67 L70.20,71.91 L73.40,77.67 Z" fill="#16d216"/>
<path d="M79.10,93.34 L82.30,87.58 L85.50,93.34 Z" fill="#16d216"/>
<path d="M91.20,101.18 L94.40,95.42 L97.60,101.18 Z" fill="#16d216"/>
<path d="M103.30,119.08 L106.50,113.32 L109.70,119.08 Z" fill="#16d216"/>
<path d="M115.40,136.99 L118.60,131.23 L121.80,136.99 Z" fill="#16d216"/>
<path d="M127.50,154.90 L130.70,149.14 L133.90,154.90 Z" fill="#16d216"/>
<path d="M139.60,163.85 L142.80,158.09 L146.00,163.85 Z" fill="#16d216"/>
<path d="M159.50,170.56 L162.70,164.81 L165.90,170.56 Z" fill="#16d216"/>
<path d="M54.90,70.96 L58.10,65.20 L61.30,70.96 Z" fill="#a0e01e"/>
<path d="M67.00,75.44 L70.20,69.68 L73.40,75.44 Z" fill="#a0e01e"/>
<path d="M79.10,82.15 L82.30,76.39 L85.50,82.15 Z" fill="#a0e01e"/>
<path d="M91.20,95.58 L94.40,89.82 L97.60,95.58 Z" fill="#a0e01e"/>
<path d="M103.30,110.13 L106.50,104.37 L109.70,110.13 Z" fill="#a0e01e"/>
<path d="M115.40,131.39 L118.60,125.63 L121.80,131.39 Z" fill="#a0e01e"/>
<path d="M127.50,150.42 L130.70,144.66 L133.90,150.42 Z" fill="#a0e01e"/>
<path d="M139.60,162.73 L142.80,156.97 L146.00,162.73 Z" fill="#a0e01e"/>
<path d="M159.50,170.56 L162.70,164.81 L165.90,170.56 Z" fill="#a0e01e"/>
<path d="M54.90,70.96 L58.10,65.20 L61.30,70.96 Z" fill="#ffd42a"/>
<path d="M67.00,75.44 L70.20,69.68 L73.40,75.44 Z" fill="#ffd42a"/>
<path d="M79.10,82.15 L82.30,76.39 L85.50,82.15 Z" fill="#ffd42a"/>
<path d="M91.20,94.46 L94.40,88.70 L97.60,94.46 Z" fill="#ffd42a"/>
<path d="M103.30,112.37 L106.50,106.61 L109.70,112.37 Z" fill="#ffd42a"/>
<path d="M115.40,133.63 L118.60,127.87 L121.80,133.63 Z" fill="#ffd42a"/>
<path d="M127.50,150.42 L130.70,144.66 L133.90,150.42 Z" fill="#ffd42a"/>
<path d="M139.60,162.73 L142.80,156.97 L146.00,162.73 Z" fill="#ffd42a"/>
<path d="M159.50,169.45 L162.70,163.69 L165.90,169.45 Z" fill="#ffd42a"/>
<path d="M54.90,69.84 L58.10,64.08 L61.30,69.84 Z" fill="#ff8c14"/>
<path d="M67.00,73.20 L70.20,67.44 L73.40,73.20 Z" fill="#ff8c14"/>
<path d="M79.10,78.79 L82.30,73.03 L85.50,78.79 Z" fill="#ff8c14"/>
<path d="M91.20,89.98 L94.40,84.22 L97.60,89.98 Z" fill="#ff8c14"/>
<path d="M103.30,103.41 L106.50,97.66 L109.70,103.41 Z" fill="#ff8c14"/>
<path d="M115.40,124.68 L118.60,118.92 L121.80,124.68 Z" fill="#ff8c14"/>
<path d="M127.50,141.47 L130.70,135.71 L133.90,141.47 Z" fill="#ff8c14"/>
<path d="M139.60,156.02 L142.80,150.26 L146.00,156.02 Z" fill="#ff8c14"/>
<path d="M159.50,161.84 L162.70,156.08 L165.90,161.84 Z" fill="#ff8c14"/>
<path d="M54.90,68.72 L58.10,62.96 L61.30,68.72 Z" fill="#ff2a14"/>
<path d="M67.00,74.32 L70.20,68.56 L73.40,74.32 Z" fill="#ff2a14"/>
<path d="M79.10,83.27 L82.30,77.51 L85.50,83.27 Z" fill="#ff2a14"/>
<path d="M91.20,96.70 L94.40,90.94 L97.60,96.70 Z" fill="#ff2a14"/>
<path d="M103.30,117.96 L106.50,112.20 L109.70,117.96 Z" fill="#ff2a14"/>
<path d="M115.40,140.35 L118.60,134.59 L121.80,140.35 Z" fill="#ff2a14"/>
<path d="M127.50,153.78 L130.70,148.02 L133.90,153.78 Z" fill="#ff2a14"/>
<path d="M139.60,162.95 L142.80,157.19 L146.00,162.95 Z" fill="#ff2a14"/>
<path d="M159.50,167.88 L162.70,162.12 L165.90,167.88 Z" fill="#ff2a14"/>
<circle cx="58.10" cy="73.00" r="3.2" fill="#000"/>
<circle cx="70.20" cy="78.15" r="3.2" fill="#000"/>
<circle cx="82.30" cy="85.99" r="3.2" fill="#000"/>
<circle cx="94.40" cy="100.09" r="3.2" fill="#000"/>
<circle cx="106.50" cy="120.34" r="3.2" fill="#000"/>
<circle cx="118.60" cy="142.50" r="3.2" fill="#000"/>
<circle cx="130.70" cy="156.72" r="3.2" fill="#000"/>
<circle cx="142.80" cy="165.45" r="3.2" fill="#000"/>
<circle cx="162.70" cy="171.04" r="3.2" fill="#000"/>
<circle cx="184.5" cy="47.00" r="3.3" fill="#000"/>
<text x="193.70" y="49.90" font-size="8.2" fill="#222" stroke="#222" stroke-width="0.1" text-anchor="start" font-weight="normal" >WT</text>
<path d="M181.30,60.00 L184.50,54.24 L187.70,60.00 Z" fill="#ff2a14"/>
<line x1="181.30" y1="57.42" x2="187.70" y2="57.42" stroke="#ff2a14" stroke-width="0.8"/>
<text x="193.70" y="60.02" font-size="8.2" fill="#222" stroke="#222" stroke-width="0.1" text-anchor="start" font-weight="normal" >A79S</text>
<path d="M181.30,70.12 L184.50,64.36 L187.70,70.12 Z" fill="#ff8c14"/>
<line x1="181.30" y1="67.54" x2="187.70" y2="67.54" stroke="#ff8c14" stroke-width="0.8"/>
<text x="193.70" y="70.14" font-size="8.2" fill="#222" stroke="#222" stroke-width="0.1" text-anchor="start" font-weight="normal" >H88A</text>
<path d="M181.30,80.24 L184.50,74.48 L187.70,80.24 Z" fill="#ffd42a"/>
<line x1="181.30" y1="77.66" x2="187.70" y2="77.66" stroke="#ffd42a" stroke-width="0.8"/>
<text x="193.70" y="80.26" font-size="8.2" fill="#222" stroke="#222" stroke-width="0.1" text-anchor="start" font-weight="normal" >D102A</text>
<path d="M181.30,90.36 L184.50,84.60 L187.70,90.36 Z" fill="#a0e01e"/>
<line x1="181.30" y1="87.78" x2="187.70" y2="87.78" stroke="#a0e01e" stroke-width="0.8"/>
<text x="193.70" y="90.38" font-size="8.2" fill="#222" stroke="#222" stroke-width="0.1" text-anchor="start" font-weight="normal" >D102R</text>
<path d="M181.30,100.48 L184.50,94.72 L187.70,100.48 Z" fill="#16d216"/>
<line x1="181.30" y1="97.90" x2="187.70" y2="97.90" stroke="#16d216" stroke-width="0.8"/>
<text x="193.70" y="100.50" font-size="8.2" fill="#222" stroke="#222" stroke-width="0.1" text-anchor="start" font-weight="normal" >K104A</text>
<path d="M181.30,110.60 L184.50,104.84 L187.70,110.60 Z" fill="#1ec0ff"/>
<line x1="181.30" y1="108.02" x2="187.70" y2="108.02" stroke="#1ec0ff" stroke-width="0.8"/>
<text x="193.70" y="110.62" font-size="8.2" fill="#222" stroke="#222" stroke-width="0.1" text-anchor="start" font-weight="normal" >K104E</text>
<path d="M181.30,120.72 L184.50,114.96 L187.70,120.72 Z" fill="#1e96ff"/>
<line x1="181.30" y1="118.14" x2="187.70" y2="118.14" stroke="#1e96ff" stroke-width="0.8"/>
<text x="193.70" y="120.74" font-size="8.2" fill="#222" stroke="#222" stroke-width="0.1" text-anchor="start" font-weight="normal" >T105A</text>
<path d="M181.30,130.84 L184.50,125.08 L187.70,130.84 Z" fill="#1428ff"/>
<line x1="181.30" y1="128.26" x2="187.70" y2="128.26" stroke="#1428ff" stroke-width="0.8"/>
<text x="193.70" y="130.86" font-size="8.2" fill="#222" stroke="#222" stroke-width="0.1" text-anchor="start" font-weight="normal" >T141A</text>
<path d="M181.30,140.96 L184.50,135.20 L187.70,140.96 Z" fill="#9646ff"/>
<line x1="181.30" y1="138.38" x2="187.70" y2="138.38" stroke="#9646ff" stroke-width="0.8"/>
<text x="193.70" y="140.98" font-size="8.2" fill="#222" stroke="#222" stroke-width="0.1" text-anchor="start" font-weight="normal" >D142A</text>
<path d="M181.30,151.08 L184.50,145.32 L187.70,151.08 Z" fill="#5a28a0"/>
<line x1="181.30" y1="148.50" x2="187.70" y2="148.50" stroke="#5a28a0" stroke-width="0.8"/>
<text x="193.70" y="151.10" font-size="8.2" fill="#222" stroke="#222" stroke-width="0.1" text-anchor="start" font-weight="normal" >D142R</text>
<path d="M181.30,161.20 L184.50,155.44 L187.70,161.20 Z" fill="#b4b4b4"/>
<line x1="181.30" y1="158.62" x2="187.70" y2="158.62" stroke="#b4b4b4" stroke-width="0.8"/>
<text x="193.70" y="161.22" font-size="8.2" fill="#222" stroke="#222" stroke-width="0.1" text-anchor="start" font-weight="normal" >L143A</text>
<path d="M181.30,171.32 L184.50,165.56 L187.70,171.32 Z" fill="#a0501e"/>
<line x1="181.30" y1="168.74" x2="187.70" y2="168.74" stroke="#a0501e" stroke-width="0.8"/>
<text x="193.70" y="171.34" font-size="8.2" fill="#222" stroke="#222" stroke-width="0.1" text-anchor="start" font-weight="normal" >V144A</text>
<path d="M181.30,181.44 L184.50,175.68 L187.70,181.44 Z" fill="#969614"/>
<line x1="181.30" y1="178.86" x2="187.70" y2="178.86" stroke="#969614" stroke-width="0.8"/>
<text x="193.70" y="181.46" font-size="8.2" fill="#222" stroke="#222" stroke-width="0.1" text-anchor="start" font-weight="normal" >Q145A</text>
<text x="345.00" y="27.70" font-size="10" fill="#fb8a4c" stroke="#fb8a4c" stroke-width="0.05" text-anchor="middle" font-weight="normal" >Intermediate binders</text>
<line x1="271.2" y1="40.30" x2="271.2" y2="174.60" stroke="#8a8a8a" stroke-width="0.8"/>
<line x1="269.60" y1="174.60" x2="271.2" y2="174.60" stroke="#8a8a8a" stroke-width="0.6"/>
<text x="267.20" y="177.20" font-size="8.6" fill="#222" stroke="#222" stroke-width="0.1" text-anchor="end" font-weight="normal" >0</text>
<line x1="270.20" y1="163.41" x2="271.2" y2="163.41" stroke="#8a8a8a" stroke-width="0.6"/>
<line x1="269.60" y1="152.22" x2="271.2" y2="152.22" stroke="#8a8a8a" stroke-width="0.6"/>
<text x="267.20" y="154.82" font-size="8.6" fill="#222" stroke="#222" stroke-width="0.1" text-anchor="end" font-weight="normal" >20</text>
<line x1="270.20" y1="141.02" x2="271.2" y2="141.02" stroke="#8a8a8a" stroke-width="0.6"/>
<line x1="269.60" y1="129.83" x2="271.2" y2="129.83" stroke="#8a8a8a" stroke-width="0.6"/>
<text x="267.20" y="132.43" font-size="8.6" fill="#222" stroke="#222" stroke-width="0.1" text-anchor="end" font-weight="normal" >40</text>
<line x1="270.20" y1="118.64" x2="271.2" y2="118.64" stroke="#8a8a8a" stroke-width="0.6"/>
<line x1="269.60" y1="107.45" x2="271.2" y2="107.45" stroke="#8a8a8a" stroke-width="0.6"/>
<text x="267.20" y="110.05" font-size="8.6" fill="#222" stroke="#222" stroke-width="0.1" text-anchor="end" font-weight="normal" >60</text>
<line x1="270.20" y1="96.26" x2="271.2" y2="96.26" stroke="#8a8a8a" stroke-width="0.6"/>
<line x1="269.60" y1="85.07" x2="271.2" y2="85.07" stroke="#8a8a8a" stroke-width="0.6"/>
<text x="267.20" y="87.67" font-size="8.6" fill="#222" stroke="#222" stroke-width="0.1" text-anchor="end" font-weight="normal" >80</text>
<line x1="270.20" y1="73.87" x2="271.2" y2="73.87" stroke="#8a8a8a" stroke-width="0.6"/>
<line x1="269.60" y1="62.68" x2="271.2" y2="62.68" stroke="#8a8a8a" stroke-width="0.6"/>
<text x="267.20" y="65.28" font-size="8.6" fill="#222" stroke="#222" stroke-width="0.1" text-anchor="end" font-weight="normal" >100</text>
<line x1="270.20" y1="51.49" x2="271.2" y2="51.49" stroke="#8a8a8a" stroke-width="0.6"/>
<line x1="269.60" y1="40.30" x2="271.2" y2="40.30" stroke="#8a8a8a" stroke-width="0.6"/>
<text x="267.20" y="42.90" font-size="8.6" fill="#222" stroke="#222" stroke-width="0.1" text-anchor="end" font-weight="normal" >120</text>
<line x1="277.3" y1="183.1" x2="409.50" y2="183.1" stroke="#8a8a8a" stroke-width="0.8"/>
<line x1="288.00" y1="183.1" x2="288.00" y2="184.30" stroke="#8a8a8a" stroke-width="0.6"/>
<text x="287.80" y="193.20" font-size="8.6" fill="#222" stroke="#222" stroke-width="0.1" text-anchor="middle" font-weight="normal" >-2</text>
<line x1="308.25" y1="183.1" x2="308.25" y2="184.30" stroke="#8a8a8a" stroke-width="0.6"/>
<line x1="328.50" y1="183.1" x2="328.50" y2="184.30" stroke="#8a8a8a" stroke-width="0.6"/>
<text x="328.30" y="193.20" font-size="8.6" fill="#222" stroke="#222" stroke-width="0.1" text-anchor="middle" font-weight="normal" >-1</text>
<line x1="348.75" y1="183.1" x2="348.75" y2="184.30" stroke="#8a8a8a" stroke-width="0.6"/>
<line x1="369.00" y1="183.1" x2="369.00" y2="184.30" stroke="#8a8a8a" stroke-width="0.6"/>
<text x="369.00" y="193.20" font-size="8.6" fill="#222" stroke="#222" stroke-width="0.1" text-anchor="middle" font-weight="normal" >0</text>
<line x1="389.25" y1="183.1" x2="389.25" y2="184.30" stroke="#8a8a8a" stroke-width="0.6"/>
<line x1="409.50" y1="183.1" x2="409.50" y2="184.30" stroke="#8a8a8a" stroke-width="0.6"/>
<text x="409.50" y="193.20" font-size="8.6" fill="#222" stroke="#222" stroke-width="0.1" text-anchor="middle" font-weight="normal" >1</text>
<text x="341.25" y="208.50" font-size="8.8" fill="#222" stroke="#222" stroke-width="0.1" text-anchor="middle" font-weight="normal" >log (uM sEC1-2)</text>
<text x="0.00" y="0.00" font-size="8.7" fill="#222" stroke="#222" stroke-width="0.1" text-anchor="middle" font-weight="normal" transform="translate(248.80,112.25) rotate(-90)">Relative Infection (%)</text>
<polyline points="291.93,70.62 292.81,70.65 293.68,70.67 294.56,70.70 295.44,70.73 296.32,70.76 297.20,70.79 298.08,70.83 298.95,70.87 299.83,70.91 300.71,70.95 301.59,71.00 302.47,71.04 303.34,71.10 304.22,71.15 305.10,71.21 305.98,71.27 306.86,71.34 307.74,71.41 308.61,71.49 309.49,71.57 310.37,71.66 311.25,71.75 312.13,71.85 313.00,71.95 313.88,72.06 314.76,72.18 315.64,72.31 316.52,72.44 317.40,72.58 318.27,72.73 319.15,72.89 320.03,73.06 320.91,73.25 321.79,73.44 322.66,73.64 323.54,73.86 324.42,74.09 325.30,74.34 326.18,74.60 327.06,74.87 327.93,75.16 328.81,75.47 329.69,75.80 330.57,76.15 331.45,76.51 332.32,76.90 333.20,77.30 334.08,77.73 334.96,78.19 335.84,78.67 336.72,79.17 337.59,79.70 338.47,80.26 339.35,80.84 340.23,81.45 341.11,82.10 341.98,82.77 342.86,83.47 343.74,84.21 344.62,84.98 345.50,85.78 346.38,86.61 347.25,87.47 348.13,88.37 349.01,89.30 349.89,90.26 350.77,91.26 351.64,92.29 352.52,93.34 353.40,94.43 354.28,95.54 355.16,96.69 356.04,97.85 356.91,99.05 357.79,100.26 358.67,101.49 359.55,102.75 360.43,104.01 361.30,105.29 362.18,106.58 363.06,107.88 363.94,109.19 364.82,110.49 365.70,111.80 366.57,113.10 367.45,114.40 368.33,115.69 369.21,116.97 370.09,118.23 370.96,119.48 371.84,120.71 372.72,121.92 373.60,123.11 374.48,124.27 375.36,125.40 376.23,126.51 377.11,127.59 377.99,128.64 378.87,129.66 379.75,130.65 380.62,131.60 381.50,132.53 382.38,133.42 383.26,134.27 384.14,135.10 385.02,135.89 385.89,136.65 386.77,137.38 387.65,138.07 388.53,138.74 389.41,139.38 390.28,139.98 391.16,140.56 392.04,141.11 392.92,141.63 393.80,142.13 394.67,142.60 395.55,143.05 396.43,143.48 397.31,143.88" fill="none" stroke="#9646ff" stroke-width="0.8"/>
<polyline points="291.93,71.46 292.81,71.48 293.68,71.50 294.56,71.53 295.44,71.55 296.32,71.58 297.20,71.61 298.08,71.65 298.95,71.68 299.83,71.72 300.71,71.76 301.59,71.81 302.47,71.86 303.34,71.91 304.22,71.96 305.10,72.02 305.98,72.08 306.86,72.15 307.74,72.22 308.61,72.30 309.49,72.38 310.37,72.47 311.25,72.57 312.13,72.67 313.00,72.78 313.88,72.90 314.76,73.03 315.64,73.16 316.52,73.30 317.40,73.46 318.27,73.62 319.15,73.80 320.03,73.99 320.91,74.19 321.79,74.41 322.66,74.64 323.54,74.89 324.42,75.15 325.30,75.43 326.18,75.73 327.06,76.04 327.93,76.38 328.81,76.74 329.69,77.13 330.57,77.54 331.45,77.97 332.32,78.43 333.20,78.92 334.08,79.43 334.96,79.98 335.84,80.56 336.72,81.17 337.59,81.81 338.47,82.49 339.35,83.20 340.23,83.95 341.11,84.74 341.98,85.57 342.86,86.44 343.74,87.34 344.62,88.29 345.50,89.27 346.38,90.29 347.25,91.36 348.13,92.46 349.01,93.59 349.89,94.77 350.77,95.98 351.64,97.22 352.52,98.50 353.40,99.80 354.28,101.13 355.16,102.49 356.04,103.87 356.91,105.26 357.79,106.67 358.67,108.09 359.55,109.52 360.43,110.96 361.30,112.39 362.18,113.83 363.06,115.25 363.94,116.67 364.82,118.07 365.70,119.45 366.57,120.82 367.45,122.16 368.33,123.48 369.21,124.76 370.09,126.02 370.96,127.25 371.84,128.44 372.72,129.59 373.60,130.71 374.48,131.78 375.36,132.82 376.23,133.82 377.11,134.79 377.99,135.71 378.87,136.59 379.75,137.43 380.62,138.24 381.50,139.00 382.38,139.73 383.26,140.43 384.14,141.08 385.02,141.71 385.89,142.30 386.77,142.86 387.65,143.39 388.53,143.89 389.41,144.36 390.28,144.80 391.16,145.22 392.04,145.61 392.92,145.98 393.80,146.33 394.67,146.66 395.55,146.96 396.43,147.25 397.31,147.52" fill="none" stroke="#1428ff" stroke-width="0.8"/>
<polyline points="291.93,69.36 292.81,69.44 293.68,69.53 294.56,69.62 295.44,69.71 296.32,69.81 297.20,69.92 298.08,70.03 298.95,70.14 299.83,70.27 300.71,70.39 301.59,70.53 302.47,70.67 303.34,70.82 304.22,70.98 305.10,71.14 305.98,71.32 306.86,71.50 307.74,71.69 308.61,71.89 309.49,72.10 310.37,72.33 311.25,72.56 312.13,72.80 313.00,73.06 313.88,73.33 314.76,73.61 315.64,73.91 316.52,74.22 317.40,74.54 318.27,74.88 319.15,75.23 320.03,75.60 320.91,75.99 321.79,76.40 322.66,76.82 323.54,77.26 324.42,77.72 325.30,78.20 326.18,78.70 327.06,79.22 327.93,79.77 328.81,80.33 329.69,80.92 330.57,81.53 331.45,82.16 332.32,82.82 333.20,83.50 334.08,84.20 334.96,84.93 335.84,85.68 336.72,86.46 337.59,87.26 338.47,88.09 339.35,88.95 340.23,89.82 341.11,90.73 341.98,91.65 342.86,92.60 343.74,93.58 344.62,94.57 345.50,95.59 346.38,96.63 347.25,97.69 348.13,98.77 349.01,99.87 349.89,100.98 350.77,102.12 351.64,103.26 352.52,104.42 353.40,105.59 354.28,106.77 355.16,107.96 356.04,109.16 356.91,110.37 357.79,111.57 358.67,112.78 359.55,113.99 360.43,115.20 361.30,116.41 362.18,117.61 363.06,118.80 363.94,119.99 364.82,121.16 365.70,122.33 366.57,123.48 367.45,124.62 368.33,125.74 369.21,126.85 370.09,127.94 370.96,129.00 371.84,130.05 372.72,131.08 373.60,132.09 374.48,133.07 375.36,134.03 376.23,134.97 377.11,135.88 377.99,136.77 378.87,137.64 379.75,138.48 380.62,139.29 381.50,140.08 382.38,140.85 383.26,141.59 384.14,142.30 385.02,142.99 385.89,143.66 386.77,144.31 387.65,144.93 388.53,145.52 389.41,146.10 390.28,146.65 391.16,147.18 392.04,147.69 392.92,148.18 393.80,148.65 394.67,149.10 395.55,149.53 396.43,149.94 397.31,150.34" fill="none" stroke="#1e96ff" stroke-width="0.8"/>
<polyline points="291.93,68.29 292.81,68.38 293.68,68.47 294.56,68.57 295.44,68.67 296.32,68.78 297.20,68.90 298.08,69.02 298.95,69.15 299.83,69.28 300.71,69.42 301.59,69.57 302.47,69.73 303.34,69.89 304.22,70.07 305.10,70.25 305.98,70.44 306.86,70.64 307.74,70.85 308.61,71.08 309.49,71.31 310.37,71.56 311.25,71.82 312.13,72.09 313.00,72.37 313.88,72.67 314.76,72.99 315.64,73.31 316.52,73.66 317.40,74.02 318.27,74.39 319.15,74.79 320.03,75.20 320.91,75.63 321.79,76.08 322.66,76.55 323.54,77.03 324.42,77.54 325.30,78.07 326.18,78.62 327.06,79.20 327.93,79.79 328.81,80.41 329.69,81.05 330.57,81.71 331.45,82.40 332.32,83.11 333.20,83.85 334.08,84.60 334.96,85.39 335.84,86.19 336.72,87.02 337.59,87.87 338.47,88.74 339.35,89.64 340.23,90.55 341.11,91.49 341.98,92.45 342.86,93.42 343.74,94.41 344.62,95.42 345.50,96.45 346.38,97.49 347.25,98.54 348.13,99.61 349.01,100.68 349.89,101.77 350.77,102.86 351.64,103.96 352.52,105.06 353.40,106.16 354.28,107.26 355.16,108.37 356.04,109.46 356.91,110.56 357.79,111.65 358.67,112.73 359.55,113.80 360.43,114.86 361.30,115.91 362.18,116.94 363.06,117.96 363.94,118.96 364.82,119.95 365.70,120.91 366.57,121.86 367.45,122.79 368.33,123.70 369.21,124.58 370.09,125.44 370.96,126.29 371.84,127.10 372.72,127.90 373.60,128.67 374.48,129.42 375.36,130.14 376.23,130.84 377.11,131.52 377.99,132.17 378.87,132.80 379.75,133.41 380.62,133.99 381.50,134.56 382.38,135.10 383.26,135.62 384.14,136.12 385.02,136.60 385.89,137.06 386.77,137.50 387.65,137.92 388.53,138.32 389.41,138.71 390.28,139.08 391.16,139.43 392.04,139.77 392.92,140.09 393.80,140.40 394.67,140.69 395.55,140.97 396.43,141.23 397.31,141.49" fill="none" stroke="#1ec0ff" stroke-width="0.8"/>
<polyline points="291.93,70.16 292.81,70.26 293.68,70.36 294.56,70.46 295.44,70.58 296.32,70.69 297.20,70.82 298.08,70.95 298.95,71.08 299.83,71.22 300.71,71.37 301.59,71.53 302.47,71.69 303.34,71.87 304.22,72.05 305.10,72.24 305.98,72.44 306.86,72.65 307.74,72.87 308.61,73.10 309.49,73.34 310.37,73.59 311.25,73.85 312.13,74.13 313.00,74.41 313.88,74.72 314.76,75.03 315.64,75.36 316.52,75.71 317.40,76.07 318.27,76.44 319.15,76.83 320.03,77.24 320.91,77.67 321.79,78.11 322.66,78.58 323.54,79.06 324.42,79.56 325.30,80.08 326.18,80.62 327.06,81.18 327.93,81.77 328.81,82.37 329.69,83.00 330.57,83.65 331.45,84.33 332.32,85.02 333.20,85.74 334.08,86.49 334.96,87.25 335.84,88.05 336.72,88.86 337.59,89.70 338.47,90.56 339.35,91.45 340.23,92.36 341.11,93.29 341.98,94.25 342.86,95.22 343.74,96.22 344.62,97.24 345.50,98.28 346.38,99.34 347.25,100.41 348.13,101.50 349.01,102.61 349.89,103.74 350.77,104.88 351.64,106.03 352.52,107.19 353.40,108.36 354.28,109.54 355.16,110.73 356.04,111.92 356.91,113.11 357.79,114.31 358.67,115.51 359.55,116.70 360.43,117.90 361.30,119.09 362.18,120.27 363.06,121.45 363.94,122.61 364.82,123.77 365.70,124.92 366.57,126.05 367.45,127.17 368.33,128.27 369.21,129.35 370.09,130.42 370.96,131.47 371.84,132.50 372.72,133.51 373.60,134.50 374.48,135.46 375.36,136.41 376.23,137.33 377.11,138.23 377.99,139.10 378.87,139.95 379.75,140.78 380.62,141.58 381.50,142.36 382.38,143.12 383.26,143.85 384.14,144.56 385.02,145.25 385.89,145.91 386.77,146.55 387.65,147.17 388.53,147.76 389.41,148.34 390.28,148.89 391.16,149.42 392.04,149.93 392.92,150.43 393.80,150.90 394.67,151.35 395.55,151.79 396.43,152.21 397.31,152.61" fill="none" stroke="#16d216" stroke-width="0.8"/>
<polyline points="291.93,69.70 292.81,69.78 293.68,69.86 294.56,69.94 295.44,70.03 296.32,70.12 297.20,70.22 298.08,70.32 298.95,70.43 299.83,70.54 300.71,70.65 301.59,70.78 302.47,70.91 303.34,71.04 304.22,71.18 305.10,71.33 305.98,71.49 306.86,71.65 307.74,71.82 308.61,72.00 309.49,72.19 310.37,72.39 311.25,72.59 312.13,72.81 313.00,73.03 313.88,73.27 314.76,73.52 315.64,73.78 316.52,74.05 317.40,74.33 318.27,74.63 319.15,74.94 320.03,75.26 320.91,75.60 321.79,75.95 322.66,76.32 323.54,76.70 324.42,77.10 325.30,77.52 326.18,77.95 327.06,78.40 327.93,78.87 328.81,79.36 329.69,79.87 330.57,80.40 331.45,80.95 332.32,81.51 333.20,82.11 334.08,82.72 334.96,83.35 335.84,84.01 336.72,84.69 337.59,85.39 338.47,86.11 339.35,86.86 340.23,87.63 341.11,88.43 341.98,89.24 342.86,90.09 343.74,90.95 344.62,91.84 345.50,92.75 346.38,93.69 347.25,94.64 348.13,95.62 349.01,96.62 349.89,97.64 350.77,98.68 351.64,99.74 352.52,100.81 353.40,101.91 354.28,103.02 355.16,104.14 356.04,105.28 356.91,106.44 357.79,107.60 358.67,108.77 359.55,109.95 360.43,111.14 361.30,112.34 362.18,113.54 363.06,114.74 363.94,115.95 364.82,117.15 365.70,118.35 366.57,119.55 367.45,120.74 368.33,121.93 369.21,123.11 370.09,124.28 370.96,125.43 371.84,126.58 372.72,127.71 373.60,128.83 374.48,129.94 375.36,131.02 376.23,132.09 377.11,133.14 377.99,134.17 378.87,135.18 379.75,136.17 380.62,137.14 381.50,138.09 382.38,139.01 383.26,139.91 384.14,140.79 385.02,141.64 385.89,142.48 386.77,143.28 387.65,144.07 388.53,144.83 389.41,145.57 390.28,146.28 391.16,146.97 392.04,147.64 392.92,148.29 393.80,148.91 394.67,149.51 395.55,150.09 396.43,150.65 397.31,151.19" fill="none" stroke="#a0e01e" stroke-width="0.8"/>
<polyline points="291.93,67.95 292.81,68.05 293.68,68.16 294.56,68.28 295.44,68.39 296.32,68.52 297.20,68.65 298.08,68.78 298.95,68.92 299.83,69.06 300.71,69.22 301.59,69.37 302.47,69.54 303.34,69.71 304.22,69.89 305.10,70.07 305.98,70.27 306.86,70.47 307.74,70.68 308.61,70.89 309.49,71.12 310.37,71.36 311.25,71.60 312.13,71.85 313.00,72.12 313.88,72.39 314.76,72.68 315.64,72.97 316.52,73.28 317.40,73.60 318.27,73.93 319.15,74.27 320.03,74.63 320.91,75.00 321.79,75.38 322.66,75.78 323.54,76.19 324.42,76.61 325.30,77.05 326.18,77.51 327.06,77.98 327.93,78.47 328.81,78.97 329.69,79.49 330.57,80.02 331.45,80.58 332.32,81.15 333.20,81.74 334.08,82.34 334.96,82.97 335.84,83.61 336.72,84.27 337.59,84.95 338.47,85.65 339.35,86.37 340.23,87.10 341.11,87.86 341.98,88.63 342.86,89.43 343.74,90.24 344.62,91.07 345.50,91.92 346.38,92.79 347.25,93.67 348.13,94.58 349.01,95.50 349.89,96.43 350.77,97.39 351.64,98.36 352.52,99.35 353.40,100.35 354.28,101.36 355.16,102.39 356.04,103.43 356.91,104.48 357.79,105.55 358.67,106.62 359.55,107.71 360.43,108.80 361.30,109.90 362.18,111.01 363.06,112.12 363.94,113.24 364.82,114.36 365.70,115.48 366.57,116.61 367.45,117.73 368.33,118.86 369.21,119.98 370.09,121.10 370.96,122.21 371.84,123.32 372.72,124.43 373.60,125.52 374.48,126.61 375.36,127.69 376.23,128.76 377.11,129.82 377.99,130.87 378.87,131.90 379.75,132.92 380.62,133.93 381.50,134.93 382.38,135.90 383.26,136.87 384.14,137.81 385.02,138.74 385.89,139.65 386.77,140.55 387.65,141.43 388.53,142.29 389.41,143.13 390.28,143.95 391.16,144.75 392.04,145.53 392.92,146.30 393.80,147.05 394.67,147.77 395.55,148.48 396.43,149.17 397.31,149.84" fill="none" stroke="#ffd42a" stroke-width="0.8"/>
<polyline points="291.93,65.11 292.81,65.14 293.68,65.17 294.56,65.21 295.44,65.25 296.32,65.29 297.20,65.33 298.08,65.38 298.95,65.43 299.83,65.48 300.71,65.54 301.59,65.60 302.47,65.66 303.34,65.73 304.22,65.80 305.10,65.87 305.98,65.95 306.86,66.04 307.74,66.13 308.61,66.22 309.49,66.32 310.37,66.43 311.25,66.54 312.13,66.66 313.00,66.79 313.88,66.93 314.76,67.07 315.64,67.22 316.52,67.38 317.40,67.55 318.27,67.73 319.15,67.92 320.03,68.13 320.91,68.34 321.79,68.56 322.66,68.80 323.54,69.05 324.42,69.32 325.30,69.60 326.18,69.90 327.06,70.21 327.93,70.54 328.81,70.89 329.69,71.26 330.57,71.64 331.45,72.05 332.32,72.48 333.20,72.93 334.08,73.40 334.96,73.89 335.84,74.41 336.72,74.96 337.59,75.53 338.47,76.13 339.35,76.75 340.23,77.41 341.11,78.09 341.98,78.80 342.86,79.54 343.74,80.31 344.62,81.11 345.50,81.95 346.38,82.81 347.25,83.71 348.13,84.63 349.01,85.59 349.89,86.58 350.77,87.60 351.64,88.65 352.52,89.72 353.40,90.83 354.28,91.96 355.16,93.12 356.04,94.30 356.91,95.51 357.79,96.74 358.67,97.99 359.55,99.25 360.43,100.53 361.30,101.83 362.18,103.13 363.06,104.45 363.94,105.77 364.82,107.10 365.70,108.42 366.57,109.75 367.45,111.07 368.33,112.39 369.21,113.70 370.09,115.00 370.96,116.29 371.84,117.56 372.72,118.82 373.60,120.06 374.48,121.27 375.36,122.47 376.23,123.64 377.11,124.78 377.99,125.90 378.87,126.99 379.75,128.05 380.62,129.08 381.50,130.09 382.38,131.06 383.26,132.00 384.14,132.91 385.02,133.79 385.89,134.64 386.77,135.45 387.65,136.24 388.53,136.99 389.41,137.72 390.28,138.41 391.16,139.08 392.04,139.72 392.92,140.33 393.80,140.91 394.67,141.47 395.55,142.00 396.43,142.51 397.31,142.99" fill="none" stroke="#ff8c14" stroke-width="0.8"/>
<polyline points="291.93,66.10 292.81,66.15 293.68,66.20 294.56,66.26 295.44,66.32 296.32,66.38 297.20,66.44 298.08,66.51 298.95,66.58 299.83,66.66 300.71,66.73 301.59,66.82 302.47,66.90 303.34,66.99 304.22,67.09 305.10,67.18 305.98,67.29 306.86,67.40 307.74,67.51 308.61,67.63 309.49,67.75 310.37,67.88 311.25,68.02 312.13,68.16 313.00,68.31 313.88,68.47 314.76,68.63 315.64,68.80 316.52,68.98 317.40,69.17 318.27,69.37 319.15,69.57 320.03,69.78 320.91,70.01 321.79,70.24 322.66,70.48 323.54,70.73 324.42,71.00 325.30,71.27 326.18,71.56 327.06,71.86 327.93,72.17 328.81,72.50 329.69,72.83 330.57,73.18 331.45,73.55 332.32,73.93 333.20,74.32 334.08,74.73 334.96,75.15 335.84,75.59 336.72,76.05 337.59,76.52 338.47,77.01 339.35,77.51 340.23,78.04 341.11,78.57 341.98,79.13 342.86,79.71 343.74,80.30 344.62,80.91 345.50,81.53 346.38,82.18 347.25,82.84 348.13,83.52 349.01,84.22 349.89,84.93 350.77,85.66 351.64,86.41 352.52,87.17 353.40,87.95 354.28,88.75 355.16,89.55 356.04,90.38 356.91,91.21 357.79,92.06 358.67,92.92 359.55,93.79 360.43,94.68 361.30,95.57 362.18,96.47 363.06,97.37 363.94,98.28 364.82,99.20 365.70,100.12 366.57,101.05 367.45,101.97 368.33,102.90 369.21,103.83 370.09,104.75 370.96,105.68 371.84,106.59 372.72,107.51 373.60,108.41 374.48,109.31 375.36,110.21 376.23,111.09 377.11,111.96 377.99,112.83 378.87,113.68 379.75,114.51 380.62,115.34 381.50,116.15 382.38,116.95 383.26,117.73 384.14,118.49 385.02,119.24 385.89,119.98 386.77,120.69 387.65,121.39 388.53,122.08 389.41,122.74 390.28,123.39 391.16,124.02 392.04,124.63 392.92,125.22 393.80,125.80 394.67,126.36 395.55,126.90 396.43,127.43 397.31,127.93" fill="none" stroke="#ff2a14" stroke-width="0.8"/>
<polyline points="291.93,69.88 292.81,70.15 293.68,70.44 294.56,70.75 295.44,71.06 296.32,71.40 297.20,71.75 298.08,72.12 298.95,72.51 299.83,72.91 300.71,73.34 301.59,73.78 302.47,74.25 303.34,74.73 304.22,75.24 305.10,75.78 305.98,76.33 306.86,76.91 307.74,77.52 308.61,78.15 309.49,78.81 310.37,79.50 311.25,80.21 312.13,80.96 313.00,81.73 313.88,82.53 314.76,83.37 315.64,84.23 316.52,85.12 317.40,86.05 318.27,87.01 319.15,87.99 320.03,89.01 320.91,90.06 321.79,91.15 322.66,92.26 323.54,93.40 324.42,94.58 325.30,95.78 326.18,97.01 327.06,98.27 327.93,99.55 328.81,100.86 329.69,102.20 330.57,103.55 331.45,104.93 332.32,106.33 333.20,107.74 334.08,109.17 334.96,110.61 335.84,112.07 336.72,113.53 337.59,115.01 338.47,116.49 339.35,117.97 340.23,119.45 341.11,120.93 341.98,122.41 342.86,123.88 343.74,125.34 344.62,126.79 345.50,128.23 346.38,129.66 347.25,131.07 348.13,132.46 349.01,133.84 349.89,135.19 350.77,136.52 351.64,137.82 352.52,139.10 353.40,140.35 354.28,141.57 355.16,142.77 356.04,143.94 356.91,145.07 357.79,146.18 358.67,147.25 359.55,148.30 360.43,149.31 361.30,150.29 362.18,151.24 363.06,152.16 363.94,153.04 364.82,153.90 365.70,154.72 366.57,155.52 367.45,156.29 368.33,157.02 369.21,157.73 370.09,158.41 370.96,159.06 371.84,159.69 372.72,160.29 373.60,160.87 374.48,161.42 375.36,161.95 376.23,162.45 377.11,162.93 377.99,163.39 378.87,163.83 379.75,164.25 380.62,164.65 381.50,165.04 382.38,165.40 383.26,165.75 384.14,166.08 385.02,166.39 385.89,166.69 386.77,166.98 387.65,167.25 388.53,167.51 389.41,167.75 390.28,167.99 391.16,168.21 392.04,168.42 392.92,168.62 393.80,168.81 394.67,168.99 395.55,169.17 396.43,169.33 397.31,169.48" fill="none" stroke="#000" stroke-width="0.8"/>
<path d="M325.90,97.38 H331.10 M328.50,97.38 V102.97 M325.90,102.97 H331.10" stroke="#000" stroke-width="0.8" fill="none"/>
<path d="M338.09,117.41 H343.29 M340.69,117.41 V123.01 M338.09,123.01 H343.29" stroke="#000" stroke-width="0.8" fill="none"/>
<path d="M325.90,64.59 H331.10 M328.50,64.59 V71.30 M325.90,71.30 H331.10" stroke="#ff8c14" stroke-width="0.8" fill="none"/>
<path d="M289.33,61.00 H294.53 M291.93,61.00 V66.60 M289.33,66.60 H294.53" stroke="#ff8c14" stroke-width="0.8" fill="none"/>
<path d="M394.71,137.67 H399.91 M397.31,137.67 V144.38 M394.71,144.38 H399.91" stroke="#1ec0ff" stroke-width="0.8" fill="none"/>
<path d="M374.66,133.75 H379.86 M377.26,133.75 V139.35 M374.66,139.35 H379.86" stroke="#1e96ff" stroke-width="0.8" fill="none"/>
<path d="M288.73,72.28 L291.93,66.52 L295.13,72.28 Z" fill="#9646ff"/>
<path d="M300.92,73.40 L304.12,67.64 L307.32,73.40 Z" fill="#9646ff"/>
<path d="M313.11,76.75 L316.31,70.99 L319.51,76.75 Z" fill="#9646ff"/>
<path d="M325.30,78.99 L328.50,73.23 L331.70,78.99 Z" fill="#9646ff"/>
<path d="M337.49,84.59 L340.69,78.83 L343.89,84.59 Z" fill="#9646ff"/>
<path d="M349.68,96.90 L352.88,91.14 L356.08,96.90 Z" fill="#9646ff"/>
<path d="M361.87,112.01 L365.07,106.25 L368.27,112.01 Z" fill="#9646ff"/>
<path d="M374.06,132.49 L377.26,126.73 L380.46,132.49 Z" fill="#9646ff"/>
<path d="M394.11,146.14 L397.31,140.38 L400.51,146.14 Z" fill="#9646ff"/>
<path d="M288.73,71.16 L291.93,65.40 L295.13,71.16 Z" fill="#1428ff"/>
<path d="M300.92,74.52 L304.12,68.76 L307.32,74.52 Z" fill="#1428ff"/>
<path d="M313.11,77.87 L316.31,72.11 L319.51,77.87 Z" fill="#1428ff"/>
<path d="M325.30,82.35 L328.50,76.59 L331.70,82.35 Z" fill="#1428ff"/>
<path d="M337.49,87.95 L340.69,82.19 L343.89,87.95 Z" fill="#1428ff"/>
<path d="M349.68,98.69 L352.88,92.93 L356.08,98.69 Z" fill="#1428ff"/>
<path d="M361.87,122.42 L365.07,116.66 L368.27,122.42 Z" fill="#1428ff"/>
<path d="M374.06,139.09 L377.26,133.33 L380.46,139.09 Z" fill="#1428ff"/>
<path d="M394.11,149.50 L397.31,143.74 L400.51,149.50 Z" fill="#1428ff"/>
<path d="M288.73,71.16 L291.93,65.40 L295.13,71.16 Z" fill="#1e96ff"/>
<path d="M300.92,73.40 L304.12,67.64 L307.32,73.40 Z" fill="#1e96ff"/>
<path d="M313.11,78.99 L316.31,73.23 L319.51,78.99 Z" fill="#1e96ff"/>
<path d="M325.30,83.47 L328.50,77.71 L331.70,83.47 Z" fill="#1e96ff"/>
<path d="M337.49,92.42 L340.69,86.66 L343.89,92.42 Z" fill="#1e96ff"/>
<path d="M349.68,106.97 L352.88,101.21 L356.08,106.97 Z" fill="#1e96ff"/>
<path d="M361.87,124.88 L365.07,119.12 L368.27,124.88 Z" fill="#1e96ff"/>
<path d="M374.06,139.43 L377.26,133.67 L380.46,139.43 Z" fill="#1e96ff"/>
<path d="M394.11,152.86 L397.31,147.10 L400.51,152.86 Z" fill="#1e96ff"/>
<path d="M288.73,70.04 L291.93,64.28 L295.13,70.04 Z" fill="#1ec0ff"/>
<path d="M300.92,72.28 L304.12,66.52 L307.32,72.28 Z" fill="#1ec0ff"/>
<path d="M313.11,78.99 L316.31,73.23 L319.51,78.99 Z" fill="#1ec0ff"/>
<path d="M325.30,83.47 L328.50,77.71 L331.70,83.47 Z" fill="#1ec0ff"/>
<path d="M337.49,92.42 L340.69,86.66 L343.89,92.42 Z" fill="#1ec0ff"/>
<path d="M349.68,108.09 L352.88,102.33 L356.08,108.09 Z" fill="#1ec0ff"/>
<path d="M361.87,123.76 L365.07,118.00 L368.27,123.76 Z" fill="#1ec0ff"/>
<path d="M374.06,134.95 L377.26,129.19 L380.46,134.95 Z" fill="#1ec0ff"/>
<path d="M394.11,143.90 L397.31,138.14 L400.51,143.90 Z" fill="#1ec0ff"/>
<path d="M288.73,73.40 L291.93,67.64 L295.13,73.40 Z" fill="#16d216"/>
<path d="M300.92,74.52 L304.12,68.76 L307.32,74.52 Z" fill="#16d216"/>
<path d="M313.11,78.99 L316.31,73.23 L319.51,78.99 Z" fill="#16d216"/>
<path d="M325.30,83.47 L328.50,77.71 L331.70,83.47 Z" fill="#16d216"/>
<path d="M337.49,97.80 L340.69,92.04 L343.89,97.80 Z" fill="#16d216"/>
<path d="M349.68,109.10 L352.88,103.34 L356.08,109.10 Z" fill="#16d216"/>
<path d="M361.87,127.68 L365.07,121.92 L368.27,127.68 Z" fill="#16d216"/>
<path d="M374.06,141.00 L377.26,135.24 L380.46,141.00 Z" fill="#16d216"/>
<path d="M394.11,155.54 L397.31,149.78 L400.51,155.54 Z" fill="#16d216"/>
<path d="M288.73,72.28 L291.93,66.52 L295.13,72.28 Z" fill="#a0e01e"/>
<path d="M300.92,73.40 L304.12,67.64 L307.32,73.40 Z" fill="#a0e01e"/>
<path d="M313.11,77.87 L316.31,72.11 L319.51,77.87 Z" fill="#a0e01e"/>
<path d="M325.30,82.35 L328.50,76.59 L331.70,82.35 Z" fill="#a0e01e"/>
<path d="M337.49,91.30 L340.69,85.54 L343.89,91.30 Z" fill="#a0e01e"/>
<path d="M349.68,102.50 L352.88,96.74 L356.08,102.50 Z" fill="#a0e01e"/>
<path d="M361.87,121.52 L365.07,115.76 L368.27,121.52 Z" fill="#a0e01e"/>
<path d="M374.06,136.07 L377.26,130.31 L380.46,136.07 Z" fill="#a0e01e"/>
<path d="M394.11,153.98 L397.31,148.22 L400.51,153.98 Z" fill="#a0e01e"/>
<path d="M288.73,71.16 L291.93,65.40 L295.13,71.16 Z" fill="#ffd42a"/>
<path d="M300.92,72.28 L304.12,66.52 L307.32,72.28 Z" fill="#ffd42a"/>
<path d="M313.11,76.75 L316.31,70.99 L319.51,76.75 Z" fill="#ffd42a"/>
<path d="M325.30,81.23 L328.50,75.47 L331.70,81.23 Z" fill="#ffd42a"/>
<path d="M337.49,89.07 L340.69,83.31 L343.89,89.07 Z" fill="#ffd42a"/>
<path d="M349.68,104.73 L352.88,98.97 L356.08,104.73 Z" fill="#ffd42a"/>
<path d="M361.87,116.71 L365.07,110.95 L368.27,116.71 Z" fill="#ffd42a"/>
<path d="M374.06,132.71 L377.26,126.95 L380.46,132.71 Z" fill="#ffd42a"/>
<path d="M394.11,152.86 L397.31,147.10 L400.51,152.86 Z" fill="#ffd42a"/>
<path d="M288.73,66.68 L291.93,60.92 L295.13,66.68 Z" fill="#ff8c14"/>
<path d="M300.92,69.70 L304.12,63.94 L307.32,69.70 Z" fill="#ff8c14"/>
<path d="M313.11,72.28 L316.31,66.52 L319.51,72.28 Z" fill="#ff8c14"/>
<path d="M325.30,70.82 L328.50,65.06 L331.70,70.82 Z" fill="#ff8c14"/>
<path d="M337.49,81.23 L340.69,75.47 L343.89,81.23 Z" fill="#ff8c14"/>
<path d="M349.68,94.66 L352.88,88.90 L356.08,94.66 Z" fill="#ff8c14"/>
<path d="M361.87,108.20 L365.07,102.44 L368.27,108.20 Z" fill="#ff8c14"/>
<path d="M374.06,129.13 L377.26,123.37 L380.46,129.13 Z" fill="#ff8c14"/>
<path d="M394.11,145.58 L397.31,139.82 L400.51,145.58 Z" fill="#ff8c14"/>
<path d="M288.73,69.26 L291.93,63.50 L295.13,69.26 Z" fill="#ff2a14"/>
<path d="M300.92,70.15 L304.12,64.39 L307.32,70.15 Z" fill="#ff2a14"/>
<path d="M313.11,71.61 L316.31,65.85 L319.51,71.61 Z" fill="#ff2a14"/>
<path d="M325.30,75.41 L328.50,69.65 L331.70,75.41 Z" fill="#ff2a14"/>
<path d="M337.49,79.33 L340.69,73.57 L343.89,79.33 Z" fill="#ff2a14"/>
<path d="M349.68,92.54 L352.88,86.78 L356.08,92.54 Z" fill="#ff2a14"/>
<path d="M361.87,101.94 L365.07,96.18 L368.27,101.94 Z" fill="#ff2a14"/>
<path d="M374.06,114.47 L377.26,108.71 L380.46,114.47 Z" fill="#ff2a14"/>
<path d="M394.11,131.03 L397.31,125.27 L400.51,131.03 Z" fill="#ff2a14"/>
<circle cx="291.93" cy="70.52" r="3.2" fill="#000"/>
<circle cx="304.12" cy="73.99" r="3.2" fill="#000"/>
<circle cx="316.31" cy="85.63" r="3.2" fill="#000"/>
<circle cx="328.50" cy="100.18" r="3.2" fill="#000"/>
<circle cx="340.69" cy="120.21" r="3.2" fill="#000"/>
<circle cx="352.88" cy="140.02" r="3.2" fill="#000"/>
<circle cx="365.07" cy="153.56" r="3.2" fill="#000"/>
<circle cx="377.26" cy="163.18" r="3.2" fill="#000"/>
<circle cx="397.31" cy="169.56" r="3.2" fill="#000"/>
<circle cx="418.5" cy="47.10" r="3.3" fill="#000"/>
<text x="425.90" y="50.00" font-size="8.2" fill="#222" stroke="#222" stroke-width="0.1" text-anchor="start" font-weight="normal" >WT</text>
<path d="M415.30,60.06 L418.50,54.30 L421.70,60.06 Z" fill="#ff2a14"/>
<line x1="415.30" y1="57.48" x2="421.70" y2="57.48" stroke="#ff2a14" stroke-width="0.8"/>
<text x="425.90" y="60.08" font-size="8.2" fill="#222" stroke="#222" stroke-width="0.1" text-anchor="start" font-weight="normal" >V60A</text>
<path d="M415.30,70.14 L418.50,64.38 L421.70,70.14 Z" fill="#ff8c14"/>
<line x1="415.30" y1="67.56" x2="421.70" y2="67.56" stroke="#ff8c14" stroke-width="0.8"/>
<text x="425.90" y="70.16" font-size="8.2" fill="#222" stroke="#222" stroke-width="0.1" text-anchor="start" font-weight="normal" >Y62A</text>
<path d="M415.30,80.22 L418.50,74.46 L421.70,80.22 Z" fill="#ffd42a"/>
<line x1="415.30" y1="77.64" x2="421.70" y2="77.64" stroke="#ffd42a" stroke-width="0.8"/>
<text x="425.90" y="80.24" font-size="8.2" fill="#222" stroke="#222" stroke-width="0.1" text-anchor="start" font-weight="normal" >L73A</text>
<path d="M415.30,90.30 L418.50,84.54 L421.70,90.30 Z" fill="#a0e01e"/>
<line x1="415.30" y1="87.72" x2="421.70" y2="87.72" stroke="#a0e01e" stroke-width="0.8"/>
<text x="425.90" y="90.32" font-size="8.2" fill="#222" stroke="#222" stroke-width="0.1" text-anchor="start" font-weight="normal" >S76A</text>
<path d="M415.30,100.38 L418.50,94.62 L421.70,100.38 Z" fill="#16d216"/>
<line x1="415.30" y1="97.80" x2="421.70" y2="97.80" stroke="#16d216" stroke-width="0.8"/>
<text x="425.90" y="100.40" font-size="8.2" fill="#222" stroke="#222" stroke-width="0.1" text-anchor="start" font-weight="normal" >A78R</text>
<path d="M415.30,110.46 L418.50,104.70 L421.70,110.46 Z" fill="#1ec0ff"/>
<line x1="415.30" y1="107.88" x2="421.70" y2="107.88" stroke="#1ec0ff" stroke-width="0.8"/>
<text x="425.90" y="110.48" font-size="8.2" fill="#222" stroke="#222" stroke-width="0.1" text-anchor="start" font-weight="normal" >D85A</text>
<path d="M415.30,120.54 L418.50,114.78 L421.70,120.54 Z" fill="#1e96ff"/>
<line x1="415.30" y1="117.96" x2="421.70" y2="117.96" stroke="#1e96ff" stroke-width="0.8"/>
<text x="425.90" y="120.56" font-size="8.2" fill="#222" stroke="#222" stroke-width="0.1" text-anchor="start" font-weight="normal" >V86A</text>
<path d="M415.30,130.62 L418.50,124.86 L421.70,130.62 Z" fill="#1428ff"/>
<line x1="415.30" y1="128.04" x2="421.70" y2="128.04" stroke="#1428ff" stroke-width="0.8"/>
<text x="425.90" y="130.64" font-size="8.2" fill="#222" stroke="#222" stroke-width="0.1" text-anchor="start" font-weight="normal" >D107R</text>
<path d="M415.30,140.70 L418.50,134.94 L421.70,140.70 Z" fill="#9646ff"/>
<line x1="415.30" y1="138.12" x2="421.70" y2="138.12" stroke="#9646ff" stroke-width="0.8"/>
<text x="425.90" y="140.72" font-size="8.2" fill="#222" stroke="#222" stroke-width="0.1" text-anchor="start" font-weight="normal" >R150E</text>
<text x="570.40" y="27.70" font-size="10" fill="#9050f0" stroke="#9050f0" stroke-width="0.05" text-anchor="middle" font-weight="normal" >Poor binders</text>
<line x1="495.5" y1="40.30" x2="495.5" y2="174.60" stroke="#8a8a8a" stroke-width="0.8"/>
<line x1="493.90" y1="174.60" x2="495.5" y2="174.60" stroke="#8a8a8a" stroke-width="0.6"/>
<text x="491.50" y="177.20" font-size="8.6" fill="#222" stroke="#222" stroke-width="0.1" text-anchor="end" font-weight="normal" >0</text>
<line x1="494.50" y1="163.41" x2="495.5" y2="163.41" stroke="#8a8a8a" stroke-width="0.6"/>
<line x1="493.90" y1="152.22" x2="495.5" y2="152.22" stroke="#8a8a8a" stroke-width="0.6"/>
<text x="491.50" y="154.82" font-size="8.6" fill="#222" stroke="#222" stroke-width="0.1" text-anchor="end" font-weight="normal" >20</text>
<line x1="494.50" y1="141.02" x2="495.5" y2="141.02" stroke="#8a8a8a" stroke-width="0.6"/>
<line x1="493.90" y1="129.83" x2="495.5" y2="129.83" stroke="#8a8a8a" stroke-width="0.6"/>
<text x="491.50" y="132.43" font-size="8.6" fill="#222" stroke="#222" stroke-width="0.1" text-anchor="end" font-weight="normal" >40</text>
<line x1="494.50" y1="118.64" x2="495.5" y2="118.64" stroke="#8a8a8a" stroke-width="0.6"/>
<line x1="493.90" y1="107.45" x2="495.5" y2="107.45" stroke="#8a8a8a" stroke-width="0.6"/>
<text x="491.50" y="110.05" font-size="8.6" fill="#222" stroke="#222" stroke-width="0.1" text-anchor="end" font-weight="normal" >60</text>
<line x1="494.50" y1="96.26" x2="495.5" y2="96.26" stroke="#8a8a8a" stroke-width="0.6"/>
<line x1="493.90" y1="85.07" x2="495.5" y2="85.07" stroke="#8a8a8a" stroke-width="0.6"/>
<text x="491.50" y="87.67" font-size="8.6" fill="#222" stroke="#222" stroke-width="0.1" text-anchor="end" font-weight="normal" >80</text>
<line x1="494.50" y1="73.87" x2="495.5" y2="73.87" stroke="#8a8a8a" stroke-width="0.6"/>
<line x1="493.90" y1="62.68" x2="495.5" y2="62.68" stroke="#8a8a8a" stroke-width="0.6"/>
<text x="491.50" y="65.28" font-size="8.6" fill="#222" stroke="#222" stroke-width="0.1" text-anchor="end" font-weight="normal" >100</text>
<line x1="494.50" y1="51.49" x2="495.5" y2="51.49" stroke="#8a8a8a" stroke-width="0.6"/>
<line x1="493.90" y1="40.30" x2="495.5" y2="40.30" stroke="#8a8a8a" stroke-width="0.6"/>
<text x="491.50" y="42.90" font-size="8.6" fill="#222" stroke="#222" stroke-width="0.1" text-anchor="end" font-weight="normal" >120</text>
<line x1="503.1" y1="183.1" x2="634.30" y2="183.1" stroke="#8a8a8a" stroke-width="0.8"/>
<line x1="513.70" y1="183.1" x2="513.70" y2="184.30" stroke="#8a8a8a" stroke-width="0.6"/>
<text x="513.50" y="193.20" font-size="8.6" fill="#222" stroke="#222" stroke-width="0.1" text-anchor="middle" font-weight="normal" >-2</text>
<line x1="533.80" y1="183.1" x2="533.80" y2="184.30" stroke="#8a8a8a" stroke-width="0.6"/>
<line x1="553.90" y1="183.1" x2="553.90" y2="184.30" stroke="#8a8a8a" stroke-width="0.6"/>
<text x="553.70" y="193.20" font-size="8.6" fill="#222" stroke="#222" stroke-width="0.1" text-anchor="middle" font-weight="normal" >-1</text>
<line x1="574.00" y1="183.1" x2="574.00" y2="184.30" stroke="#8a8a8a" stroke-width="0.6"/>
<line x1="594.10" y1="183.1" x2="594.10" y2="184.30" stroke="#8a8a8a" stroke-width="0.6"/>
<text x="594.10" y="193.20" font-size="8.6" fill="#222" stroke="#222" stroke-width="0.1" text-anchor="middle" font-weight="normal" >0</text>
<line x1="614.20" y1="183.1" x2="614.20" y2="184.30" stroke="#8a8a8a" stroke-width="0.6"/>
<line x1="634.30" y1="183.1" x2="634.30" y2="184.30" stroke="#8a8a8a" stroke-width="0.6"/>
<text x="634.30" y="193.20" font-size="8.6" fill="#222" stroke="#222" stroke-width="0.1" text-anchor="middle" font-weight="normal" >1</text>
<text x="566.50" y="208.50" font-size="8.4" fill="#222" stroke="#222" stroke-width="0.1" text-anchor="middle" font-weight="normal" >log (uM sEC1-2)</text>
<text x="0.00" y="0.00" font-size="8.4" fill="#222" stroke="#222" stroke-width="0.1" text-anchor="middle" font-weight="normal" transform="translate(475.30,112.25) rotate(-90)">Relative Infection (%)</text>
<polyline points="517.60,68.02 518.47,68.08 519.34,68.15 520.21,68.21 521.09,68.28 521.96,68.35 522.83,68.42 523.70,68.50 524.57,68.58 525.44,68.66 526.32,68.74 527.19,68.83 528.06,68.92 528.93,69.01 529.80,69.10 530.67,69.20 531.55,69.30 532.42,69.40 533.29,69.51 534.16,69.62 535.03,69.74 535.90,69.85 536.78,69.98 537.65,70.10 538.52,70.23 539.39,70.36 540.26,70.50 541.13,70.64 542.01,70.79 542.88,70.94 543.75,71.10 544.62,71.26 545.49,71.43 546.36,71.60 547.24,71.77 548.11,71.95 548.98,72.14 549.85,72.33 550.72,72.53 551.59,72.74 552.47,72.95 553.34,73.17 554.21,73.39 555.08,73.62 555.95,73.86 556.82,74.10 557.70,74.35 558.57,74.61 559.44,74.88 560.31,75.15 561.18,75.43 562.05,75.72 562.93,76.02 563.80,76.33 564.67,76.64 565.54,76.97 566.41,77.30 567.28,77.64 568.16,77.99 569.03,78.35 569.90,78.72 570.77,79.10 571.64,79.49 572.51,79.89 573.39,80.30 574.26,80.72 575.13,81.15 576.00,81.60 576.87,82.05 577.74,82.51 578.62,82.99 579.49,83.47 580.36,83.97 581.23,84.48 582.10,85.00 582.97,85.54 583.85,86.08 584.72,86.64 585.59,87.21 586.46,87.79 587.33,88.38 588.20,88.99 589.08,89.61 589.95,90.24 590.82,90.88 591.69,91.53 592.56,92.20 593.43,92.88 594.31,93.57 595.18,94.27 596.05,94.99 596.92,95.71 597.79,96.45 598.66,97.20 599.54,97.96 600.41,98.74 601.28,99.52 602.15,100.32 603.02,101.12 603.89,101.94 604.77,102.76 605.64,103.60 606.51,104.44 607.38,105.30 608.25,106.16 609.12,107.03 610.00,107.91 610.87,108.80 611.74,109.69 612.61,110.60 613.48,111.50 614.35,112.42 615.23,113.34 616.10,114.26 616.97,115.19 617.84,116.13 618.71,117.06 619.58,118.00 620.46,118.95 621.33,119.89 622.20,120.84" fill="none" stroke="#b4b4b4" stroke-width="0.8"/>
<polyline points="517.60,57.29 518.47,57.29 519.34,57.29 520.21,57.29 521.09,57.29 521.96,57.29 522.83,57.29 523.70,57.29 524.57,57.29 525.44,57.29 526.32,57.29 527.19,57.29 528.06,57.29 528.93,57.29 529.80,57.29 530.67,57.30 531.55,57.30 532.42,57.30 533.29,57.30 534.16,57.30 535.03,57.30 535.90,57.30 536.78,57.30 537.65,57.30 538.52,57.30 539.39,57.30 540.26,57.30 541.13,57.30 542.01,57.30 542.88,57.31 543.75,57.31 544.62,57.31 545.49,57.31 546.36,57.31 547.24,57.32 548.11,57.32 548.98,57.32 549.85,57.33 550.72,57.33 551.59,57.34 552.47,57.34 553.34,57.35 554.21,57.36 555.08,57.36 555.95,57.37 556.82,57.38 557.70,57.39 558.57,57.41 559.44,57.42 560.31,57.44 561.18,57.46 562.05,57.48 562.93,57.50 563.80,57.53 564.67,57.56 565.54,57.59 566.41,57.63 567.28,57.67 568.16,57.72 569.03,57.77 569.90,57.83 570.77,57.90 571.64,57.97 572.51,58.06 573.39,58.16 574.26,58.26 575.13,58.38 576.00,58.52 576.87,58.67 577.74,58.84 578.62,59.03 579.49,59.24 580.36,59.48 581.23,59.74 582.10,60.03 582.97,60.36 583.85,60.72 584.72,61.12 585.59,61.57 586.46,62.06 587.33,62.60 588.20,63.19 589.08,63.84 589.95,64.54 590.82,65.31 591.69,66.14 592.56,67.04 593.43,68.00 594.31,69.03 595.18,70.12 596.05,71.28 596.92,72.50 597.79,73.77 598.66,75.08 599.54,76.44 600.41,77.83 601.28,79.25 602.15,80.68 603.02,82.12 603.89,83.55 604.77,84.96 605.64,86.34 606.51,87.70 607.38,89.01 608.25,90.27 609.12,91.47 610.00,92.62 610.87,93.70 611.74,94.72 612.61,95.67 613.48,96.55 614.35,97.37 615.23,98.13 616.10,98.82 616.97,99.46 617.84,100.04 618.71,100.57 619.58,101.05 620.46,101.49 621.33,101.88 622.20,102.24" fill="none" stroke="#5a28a0" stroke-width="0.8"/>
<polyline points="517.60,62.67 518.47,62.67 519.34,62.67 520.21,62.67 521.09,62.67 521.96,62.67 522.83,62.67 523.70,62.67 524.57,62.67 525.44,62.67 526.32,62.67 527.19,62.67 528.06,62.67 528.93,62.67 529.80,62.67 530.67,62.67 531.55,62.68 532.42,62.68 533.29,62.68 534.16,62.68 535.03,62.68 535.90,62.68 536.78,62.68 537.65,62.68 538.52,62.68 539.39,62.69 540.26,62.69 541.13,62.69 542.01,62.69 542.88,62.70 543.75,62.70 544.62,62.70 545.49,62.71 546.36,62.71 547.24,62.71 548.11,62.72 548.98,62.73 549.85,62.73 550.72,62.74 551.59,62.75 552.47,62.75 553.34,62.76 554.21,62.77 555.08,62.78 555.95,62.79 556.82,62.81 557.70,62.82 558.57,62.84 559.44,62.86 560.31,62.88 561.18,62.90 562.05,62.92 562.93,62.95 563.80,62.97 564.67,63.01 565.54,63.04 566.41,63.08 567.28,63.12 568.16,63.17 569.03,63.22 569.90,63.27 570.77,63.34 571.64,63.40 572.51,63.48 573.39,63.56 574.26,63.65 575.13,63.74 576.00,63.85 576.87,63.97 577.74,64.09 578.62,64.23 579.49,64.38 580.36,64.55 581.23,64.72 582.10,64.92 582.97,65.13 583.85,65.35 584.72,65.60 585.59,65.86 586.46,66.15 587.33,66.45 588.20,66.78 589.08,67.13 589.95,67.50 590.82,67.89 591.69,68.31 592.56,68.75 593.43,69.21 594.31,69.69 595.18,70.19 596.05,70.71 596.92,71.25 597.79,71.81 598.66,72.38 599.54,72.96 600.41,73.55 601.28,74.14 602.15,74.74 603.02,75.34 603.89,75.94 604.77,76.53 605.64,77.11 606.51,77.68 607.38,78.24 608.25,78.78 609.12,79.31 610.00,79.82 610.87,80.30 611.74,80.77 612.61,81.21 613.48,81.63 614.35,82.03 615.23,82.40 616.10,82.76 616.97,83.09 617.84,83.40 618.71,83.68 619.58,83.95 620.46,84.20 621.33,84.43 622.20,84.65" fill="none" stroke="#9646ff" stroke-width="0.8"/>
<polyline points="517.60,67.06 518.47,67.06 519.34,67.06 520.21,67.06 521.09,67.06 521.96,67.06 522.83,67.06 523.70,67.06 524.57,67.06 525.44,67.06 526.32,67.06 527.19,67.06 528.06,67.06 528.93,67.06 529.80,67.06 530.67,67.06 531.55,67.06 532.42,67.06 533.29,67.06 534.16,67.06 535.03,67.06 535.90,67.06 536.78,67.06 537.65,67.06 538.52,67.06 539.39,67.06 540.26,67.06 541.13,67.06 542.01,67.06 542.88,67.06 543.75,67.06 544.62,67.06 545.49,67.06 546.36,67.06 547.24,67.06 548.11,67.06 548.98,67.06 549.85,67.06 550.72,67.06 551.59,67.07 552.47,67.07 553.34,67.07 554.21,67.07 555.08,67.07 555.95,67.07 556.82,67.07 557.70,67.07 558.57,67.07 559.44,67.07 560.31,67.07 561.18,67.07 562.05,67.07 562.93,67.07 563.80,67.08 564.67,67.08 565.54,67.08 566.41,67.08 567.28,67.09 568.16,67.09 569.03,67.10 569.90,67.11 570.77,67.12 571.64,67.13 572.51,67.15 573.39,67.17 574.26,67.19 575.13,67.21 576.00,67.25 576.87,67.29 577.74,67.34 578.62,67.40 579.49,67.47 580.36,67.55 581.23,67.66 582.10,67.79 582.97,67.94 583.85,68.12 584.72,68.34 585.59,68.60 586.46,68.90 587.33,69.26 588.20,69.69 589.08,70.17 589.95,70.73 590.82,71.36 591.69,72.06 592.56,72.84 593.43,73.68 594.31,74.57 595.18,75.51 596.05,76.47 596.92,77.43 597.79,78.39 598.66,79.31 599.54,80.18 600.41,80.99 601.28,81.74 602.15,82.41 603.02,83.01 603.89,83.53 604.77,83.99 605.64,84.38 606.51,84.72 607.38,85.01 608.25,85.25 609.12,85.45 610.00,85.62 610.87,85.76 611.74,85.87 612.61,85.97 613.48,86.05 614.35,86.12 615.23,86.17 616.10,86.22 616.97,86.25 617.84,86.28 618.71,86.31 619.58,86.33 620.46,86.35 621.33,86.36 622.20,86.37" fill="none" stroke="#1428ff" stroke-width="0.8"/>
<polyline points="517.60,68.82 518.47,68.82 519.34,68.82 520.21,68.82 521.09,68.82 521.96,68.82 522.83,68.82 523.70,68.82 524.57,68.82 525.44,68.82 526.32,68.82 527.19,68.82 528.06,68.82 528.93,68.82 529.80,68.82 530.67,68.82 531.55,68.82 532.42,68.82 533.29,68.82 534.16,68.82 535.03,68.82 535.90,68.82 536.78,68.82 537.65,68.82 538.52,68.82 539.39,68.82 540.26,68.82 541.13,68.82 542.01,68.82 542.88,68.82 543.75,68.82 544.62,68.82 545.49,68.83 546.36,68.83 547.24,68.83 548.11,68.83 548.98,68.83 549.85,68.83 550.72,68.83 551.59,68.83 552.47,68.83 553.34,68.84 554.21,68.84 555.08,68.84 555.95,68.85 556.82,68.85 557.70,68.85 558.57,68.86 559.44,68.86 560.31,68.87 561.18,68.88 562.05,68.89 562.93,68.90 563.80,68.91 564.67,68.93 565.54,68.94 566.41,68.96 567.28,68.98 568.16,69.01 569.03,69.04 569.90,69.07 570.77,69.11 571.64,69.15 572.51,69.20 573.39,69.26 574.26,69.32 575.13,69.40 576.00,69.49 576.87,69.59 577.74,69.70 578.62,69.83 579.49,69.98 580.36,70.14 581.23,70.33 582.10,70.55 582.97,70.79 583.85,71.06 584.72,71.36 585.59,71.69 586.46,72.06 587.33,72.47 588.20,72.91 589.08,73.39 589.95,73.91 590.82,74.46 591.69,75.05 592.56,75.67 593.43,76.30 594.31,76.96 595.18,77.63 596.05,78.31 596.92,78.99 597.79,79.65 598.66,80.31 599.54,80.94 600.41,81.55 601.28,82.12 602.15,82.66 603.02,83.17 603.89,83.64 604.77,84.07 605.64,84.46 606.51,84.82 607.38,85.14 608.25,85.43 609.12,85.69 610.00,85.92 610.87,86.13 611.74,86.31 612.61,86.47 613.48,86.61 614.35,86.73 615.23,86.84 616.10,86.94 616.97,87.02 617.84,87.09 618.71,87.15 619.58,87.21 620.46,87.26 621.33,87.30 622.20,87.33" fill="none" stroke="#1e96ff" stroke-width="0.8"/>
<polyline points="517.60,68.24 518.47,68.24 519.34,68.24 520.21,68.24 521.09,68.24 521.96,68.24 522.83,68.24 523.70,68.24 524.57,68.24 525.44,68.24 526.32,68.24 527.19,68.24 528.06,68.24 528.93,68.24 529.80,68.24 530.67,68.24 531.55,68.24 532.42,68.24 533.29,68.24 534.16,68.24 535.03,68.25 535.90,68.25 536.78,68.25 537.65,68.25 538.52,68.25 539.39,68.25 540.26,68.25 541.13,68.25 542.01,68.25 542.88,68.25 543.75,68.25 544.62,68.25 545.49,68.25 546.36,68.26 547.24,68.26 548.11,68.26 548.98,68.26 549.85,68.26 550.72,68.27 551.59,68.27 552.47,68.27 553.34,68.28 554.21,68.28 555.08,68.29 555.95,68.29 556.82,68.30 557.70,68.31 558.57,68.31 559.44,68.32 560.31,68.33 561.18,68.35 562.05,68.36 562.93,68.37 563.80,68.39 564.67,68.41 565.54,68.43 566.41,68.46 567.28,68.48 568.16,68.51 569.03,68.55 569.90,68.59 570.77,68.63 571.64,68.68 572.51,68.73 573.39,68.79 574.26,68.86 575.13,68.93 576.00,69.01 576.87,69.11 577.74,69.21 578.62,69.32 579.49,69.44 580.36,69.57 581.23,69.71 582.10,69.86 582.97,70.03 583.85,70.21 584.72,70.40 585.59,70.60 586.46,70.81 587.33,71.03 588.20,71.26 589.08,71.50 589.95,71.74 590.82,71.99 591.69,72.23 592.56,72.48 593.43,72.73 594.31,72.97 595.18,73.21 596.05,73.45 596.92,73.67 597.79,73.88 598.66,74.09 599.54,74.28 600.41,74.46 601.28,74.63 602.15,74.79 603.02,74.94 603.89,75.07 604.77,75.20 605.64,75.31 606.51,75.41 607.38,75.51 608.25,75.59 609.12,75.67 610.00,75.74 610.87,75.80 611.74,75.86 612.61,75.91 613.48,75.95 614.35,75.99 615.23,76.03 616.10,76.06 616.97,76.09 617.84,76.11 618.71,76.13 619.58,76.15 620.46,76.17 621.33,76.19 622.20,76.20" fill="none" stroke="#1ec0ff" stroke-width="0.8"/>
<polyline points="517.60,66.87 518.47,66.88 519.34,66.88 520.21,66.88 521.09,66.89 521.96,66.89 522.83,66.90 523.70,66.91 524.57,66.91 525.44,66.92 526.32,66.92 527.19,66.93 528.06,66.94 528.93,66.95 529.80,66.96 530.67,66.97 531.55,66.98 532.42,66.99 533.29,67.00 534.16,67.02 535.03,67.03 535.90,67.05 536.78,67.06 537.65,67.08 538.52,67.10 539.39,67.12 540.26,67.14 541.13,67.16 542.01,67.19 542.88,67.22 543.75,67.25 544.62,67.28 545.49,67.31 546.36,67.35 547.24,67.38 548.11,67.43 548.98,67.47 549.85,67.52 550.72,67.57 551.59,67.62 552.47,67.68 553.34,67.74 554.21,67.81 555.08,67.88 555.95,67.96 556.82,68.04 557.70,68.13 558.57,68.22 559.44,68.32 560.31,68.43 561.18,68.55 562.05,68.67 562.93,68.80 563.80,68.94 564.67,69.09 565.54,69.25 566.41,69.42 567.28,69.61 568.16,69.80 569.03,70.01 569.90,70.23 570.77,70.47 571.64,70.72 572.51,70.98 573.39,71.27 574.26,71.57 575.13,71.89 576.00,72.22 576.87,72.58 577.74,72.96 578.62,73.36 579.49,73.78 580.36,74.23 581.23,74.70 582.10,75.20 582.97,75.71 583.85,76.26 584.72,76.83 585.59,77.43 586.46,78.05 587.33,78.71 588.20,79.38 589.08,80.09 589.95,80.82 590.82,81.58 591.69,82.36 592.56,83.17 593.43,84.00 594.31,84.86 595.18,85.73 596.05,86.63 596.92,87.54 597.79,88.47 598.66,89.41 599.54,90.37 600.41,91.33 601.28,92.30 602.15,93.28 603.02,94.26 603.89,95.24 604.77,96.22 605.64,97.19 606.51,98.15 607.38,99.11 608.25,100.05 609.12,100.98 610.00,101.89 610.87,102.79 611.74,103.66 612.61,104.52 613.48,105.35 614.35,106.15 615.23,106.94 616.10,107.69 616.97,108.43 617.84,109.13 618.71,109.81 619.58,110.46 620.46,111.08 621.33,111.68 622.20,112.25" fill="none" stroke="#16d216" stroke-width="0.8"/>
<polyline points="517.60,62.47 518.47,62.47 519.34,62.47 520.21,62.47 521.09,62.47 521.96,62.47 522.83,62.47 523.70,62.47 524.57,62.48 525.44,62.48 526.32,62.48 527.19,62.48 528.06,62.48 528.93,62.48 529.80,62.48 530.67,62.48 531.55,62.48 532.42,62.48 533.29,62.49 534.16,62.49 535.03,62.49 535.90,62.49 536.78,62.49 537.65,62.50 538.52,62.50 539.39,62.50 540.26,62.50 541.13,62.51 542.01,62.51 542.88,62.51 543.75,62.52 544.62,62.52 545.49,62.53 546.36,62.53 547.24,62.54 548.11,62.55 548.98,62.55 549.85,62.56 550.72,62.57 551.59,62.58 552.47,62.59 553.34,62.60 554.21,62.61 555.08,62.62 555.95,62.63 556.82,62.65 557.70,62.67 558.57,62.68 559.44,62.70 560.31,62.72 561.18,62.74 562.05,62.77 562.93,62.80 563.80,62.82 564.67,62.86 565.54,62.89 566.41,62.93 567.28,62.97 568.16,63.01 569.03,63.06 569.90,63.11 570.77,63.16 571.64,63.22 572.51,63.28 573.39,63.35 574.26,63.43 575.13,63.51 576.00,63.60 576.87,63.69 577.74,63.79 578.62,63.90 579.49,64.02 580.36,64.15 581.23,64.28 582.10,64.43 582.97,64.58 583.85,64.75 584.72,64.92 585.59,65.11 586.46,65.31 587.33,65.53 588.20,65.75 589.08,65.99 589.95,66.24 590.82,66.51 591.69,66.79 592.56,67.08 593.43,67.39 594.31,67.70 595.18,68.03 596.05,68.38 596.92,68.73 597.79,69.10 598.66,69.47 599.54,69.85 600.41,70.24 601.28,70.64 602.15,71.04 603.02,71.45 603.89,71.86 604.77,72.26 605.64,72.67 606.51,73.08 607.38,73.48 608.25,73.87 609.12,74.26 610.00,74.65 610.87,75.02 611.74,75.38 612.61,75.74 613.48,76.08 614.35,76.41 615.23,76.72 616.10,77.03 616.97,77.32 617.84,77.59 618.71,77.86 619.58,78.11 620.46,78.35 621.33,78.57 622.20,78.78" fill="none" stroke="#a0e01e" stroke-width="0.8"/>
<polyline points="517.60,68.95 518.47,68.99 519.34,69.04 520.21,69.08 521.09,69.13 521.96,69.18 522.83,69.23 523.70,69.28 524.57,69.33 525.44,69.39 526.32,69.45 527.19,69.51 528.06,69.57 528.93,69.63 529.80,69.70 530.67,69.77 531.55,69.84 532.42,69.92 533.29,70.00 534.16,70.08 535.03,70.16 535.90,70.25 536.78,70.34 537.65,70.43 538.52,70.53 539.39,70.63 540.26,70.73 541.13,70.84 542.01,70.95 542.88,71.07 543.75,71.19 544.62,71.31 545.49,71.44 546.36,71.57 547.24,71.71 548.11,71.86 548.98,72.00 549.85,72.16 550.72,72.32 551.59,72.48 552.47,72.65 553.34,72.83 554.21,73.01 555.08,73.20 555.95,73.39 556.82,73.59 557.70,73.80 558.57,74.01 559.44,74.24 560.31,74.46 561.18,74.70 562.05,74.95 562.93,75.20 563.80,75.46 564.67,75.73 565.54,76.01 566.41,76.29 567.28,76.59 568.16,76.89 569.03,77.21 569.90,77.53 570.77,77.87 571.64,78.21 572.51,78.56 573.39,78.93 574.26,79.30 575.13,79.69 576.00,80.08 576.87,80.49 577.74,80.91 578.62,81.34 579.49,81.78 580.36,82.24 581.23,82.70 582.10,83.18 582.97,83.67 583.85,84.17 584.72,84.68 585.59,85.21 586.46,85.74 587.33,86.29 588.20,86.86 589.08,87.43 589.95,88.02 590.82,88.62 591.69,89.23 592.56,89.85 593.43,90.49 594.31,91.13 595.18,91.79 596.05,92.46 596.92,93.14 597.79,93.84 598.66,94.54 599.54,95.25 600.41,95.98 601.28,96.71 602.15,97.45 603.02,98.21 603.89,98.97 604.77,99.74 605.64,100.52 606.51,101.30 607.38,102.10 608.25,102.89 609.12,103.70 610.00,104.51 610.87,105.33 611.74,106.15 612.61,106.97 613.48,107.80 614.35,108.63 615.23,109.46 616.10,110.29 616.97,111.13 617.84,111.96 618.71,112.80 619.58,113.63 620.46,114.46 621.33,115.29 622.20,116.12" fill="none" stroke="#ffd42a" stroke-width="0.8"/>
<polyline points="517.60,69.32 518.47,69.36 519.34,69.40 520.21,69.44 521.09,69.48 521.96,69.53 522.83,69.57 523.70,69.62 524.57,69.67 525.44,69.72 526.32,69.77 527.19,69.83 528.06,69.89 528.93,69.95 529.80,70.01 530.67,70.07 531.55,70.14 532.42,70.21 533.29,70.28 534.16,70.35 535.03,70.43 535.90,70.51 536.78,70.59 537.65,70.68 538.52,70.76 539.39,70.86 540.26,70.95 541.13,71.05 542.01,71.15 542.88,71.26 543.75,71.37 544.62,71.48 545.49,71.60 546.36,71.72 547.24,71.85 548.11,71.98 548.98,72.11 549.85,72.25 550.72,72.40 551.59,72.55 552.47,72.71 553.34,72.87 554.21,73.03 555.08,73.21 555.95,73.39 556.82,73.57 557.70,73.76 558.57,73.96 559.44,74.16 560.31,74.38 561.18,74.59 562.05,74.82 562.93,75.05 563.80,75.29 564.67,75.54 565.54,75.80 566.41,76.06 567.28,76.34 568.16,76.62 569.03,76.91 569.90,77.21 570.77,77.52 571.64,77.84 572.51,78.17 573.39,78.51 574.26,78.86 575.13,79.22 576.00,79.59 576.87,79.97 577.74,80.36 578.62,80.76 579.49,81.18 580.36,81.60 581.23,82.04 582.10,82.49 582.97,82.95 583.85,83.42 584.72,83.91 585.59,84.40 586.46,84.91 587.33,85.43 588.20,85.97 589.08,86.52 589.95,87.08 590.82,87.65 591.69,88.23 592.56,88.83 593.43,89.44 594.31,90.07 595.18,90.70 596.05,91.35 596.92,92.01 597.79,92.68 598.66,93.37 599.54,94.06 600.41,94.77 601.28,95.49 602.15,96.22 603.02,96.96 603.89,97.71 604.77,98.48 605.64,99.25 606.51,100.03 607.38,100.82 608.25,101.62 609.12,102.42 610.00,103.24 610.87,104.06 611.74,104.89 612.61,105.73 613.48,106.57 614.35,107.41 615.23,108.26 616.10,109.12 616.97,109.97 617.84,110.84 618.71,111.70 619.58,112.56 620.46,113.43 621.33,114.29 622.20,115.16" fill="none" stroke="#ff8c14" stroke-width="0.8"/>
<polyline points="517.60,67.95 518.47,67.96 519.34,67.97 520.21,67.98 521.09,67.99 521.96,68.00 522.83,68.01 523.70,68.03 524.57,68.04 525.44,68.05 526.32,68.07 527.19,68.08 528.06,68.09 528.93,68.11 529.80,68.13 530.67,68.14 531.55,68.16 532.42,68.18 533.29,68.20 534.16,68.22 535.03,68.24 535.90,68.26 536.78,68.29 537.65,68.31 538.52,68.33 539.39,68.36 540.26,68.39 541.13,68.41 542.01,68.44 542.88,68.47 543.75,68.51 544.62,68.54 545.49,68.57 546.36,68.61 547.24,68.65 548.11,68.69 548.98,68.73 549.85,68.77 550.72,68.82 551.59,68.86 552.47,68.91 553.34,68.96 554.21,69.02 555.08,69.07 555.95,69.13 556.82,69.19 557.70,69.25 558.57,69.31 559.44,69.38 560.31,69.45 561.18,69.53 562.05,69.60 562.93,69.68 563.80,69.76 564.67,69.85 565.54,69.94 566.41,70.04 567.28,70.13 568.16,70.24 569.03,70.34 569.90,70.45 570.77,70.57 571.64,70.69 572.51,70.81 573.39,70.94 574.26,71.08 575.13,71.22 576.00,71.37 576.87,71.52 577.74,71.68 578.62,71.84 579.49,72.01 580.36,72.19 581.23,72.38 582.10,72.57 582.97,72.78 583.85,72.99 584.72,73.20 585.59,73.43 586.46,73.66 587.33,73.91 588.20,74.16 589.08,74.43 589.95,74.70 590.82,74.99 591.69,75.28 592.56,75.59 593.43,75.91 594.31,76.24 595.18,76.58 596.05,76.94 596.92,77.31 597.79,77.69 598.66,78.09 599.54,78.50 600.41,78.92 601.28,79.37 602.15,79.82 603.02,80.30 603.89,80.78 604.77,81.29 605.64,81.81 606.51,82.35 607.38,82.91 608.25,83.49 609.12,84.09 610.00,84.70 610.87,85.34 611.74,85.99 612.61,86.67 613.48,87.36 614.35,88.08 615.23,88.82 616.10,89.58 616.97,90.36 617.84,91.16 618.71,91.98 619.58,92.83 620.46,93.70 621.33,94.59 622.20,95.50" fill="none" stroke="#ff2a14" stroke-width="0.8"/>
<polyline points="517.60,71.86 518.47,72.09 519.34,72.34 520.21,72.61 521.09,72.89 521.96,73.18 522.83,73.49 523.70,73.81 524.57,74.16 525.44,74.52 526.32,74.89 527.19,75.29 528.06,75.71 528.93,76.15 529.80,76.61 530.67,77.09 531.55,77.60 532.42,78.13 533.29,78.69 534.16,79.27 535.03,79.88 535.90,80.52 536.78,81.18 537.65,81.88 538.52,82.60 539.39,83.35 540.26,84.14 541.13,84.96 542.01,85.81 542.88,86.69 543.75,87.60 544.62,88.55 545.49,89.53 546.36,90.55 547.24,91.60 548.11,92.68 548.98,93.79 549.85,94.94 550.72,96.12 551.59,97.33 552.47,98.57 553.34,99.84 554.21,101.14 555.08,102.47 555.95,103.82 556.82,105.19 557.70,106.59 558.57,108.01 559.44,109.44 560.31,110.90 561.18,112.36 562.05,113.84 562.93,115.33 563.80,116.83 564.67,118.33 565.54,119.83 566.41,121.33 567.28,122.83 568.16,124.33 569.03,125.81 569.90,127.29 570.77,128.75 571.64,130.20 572.51,131.63 573.39,133.05 574.26,134.44 575.13,135.81 576.00,137.15 576.87,138.47 577.74,139.76 578.62,141.03 579.49,142.26 580.36,143.46 581.23,144.63 582.10,145.77 582.97,146.88 583.85,147.95 584.72,148.99 585.59,149.99 586.46,150.97 587.33,151.90 588.20,152.81 589.08,153.68 589.95,154.52 590.82,155.33 591.69,156.11 592.56,156.86 593.43,157.57 594.31,158.26 595.18,158.92 596.05,159.54 596.92,160.15 597.79,160.72 598.66,161.27 599.54,161.80 600.41,162.30 601.28,162.77 602.15,163.23 603.02,163.66 603.89,164.07 604.77,164.47 605.64,164.84 606.51,165.19 607.38,165.53 608.25,165.85 609.12,166.16 610.00,166.45 610.87,166.72 611.74,166.98 612.61,167.23 613.48,167.46 614.35,167.69 615.23,167.90 616.10,168.10 616.97,168.28 617.84,168.46 618.71,168.63 619.58,168.79 620.46,168.95 621.33,169.09 622.20,169.23" fill="none" stroke="#000" stroke-width="0.8"/>
<path d="M515.00,52.50 H520.20 M517.60,52.50 V62.57 M515.00,62.57 H520.20" stroke="#5a28a0" stroke-width="0.8" fill="none"/>
<path d="M539.20,52.28 H544.40 M541.80,52.28 V61.23 M539.20,61.23 H544.40" stroke="#5a28a0" stroke-width="0.8" fill="none"/>
<path d="M551.30,54.85 H556.50 M553.90,54.85 V61.56 M551.30,61.56 H556.50" stroke="#5a28a0" stroke-width="0.8" fill="none"/>
<path d="M575.50,52.50 H580.70 M578.10,52.50 V59.21 M575.50,59.21 H580.70" stroke="#5a28a0" stroke-width="0.8" fill="none"/>
<path d="M551.30,98.50 H556.50 M553.90,98.50 V102.97 M551.30,102.97 H556.50" stroke="#000" stroke-width="0.8" fill="none"/>
<path d="M587.60,64.14 H592.80 M590.20,64.14 V70.85 M587.60,70.85 H592.80" stroke="#a0e01e" stroke-width="0.8" fill="none"/>
<path d="M599.70,67.61 H604.90 M602.30,67.61 V73.20 M599.70,73.20 H604.90" stroke="#a0e01e" stroke-width="0.8" fill="none"/>
<path d="M619.60,83.95 H624.80 M622.20,83.95 V88.42 M619.60,88.42 H624.80" stroke="#1428ff" stroke-width="0.8" fill="none"/>
<path d="M514.40,70.04 L517.60,64.28 L520.80,70.04 Z" fill="#b4b4b4"/>
<path d="M526.50,72.28 L529.70,66.52 L532.90,72.28 Z" fill="#b4b4b4"/>
<path d="M538.60,74.52 L541.80,68.76 L545.00,74.52 Z" fill="#b4b4b4"/>
<path d="M550.70,76.75 L553.90,70.99 L557.10,76.75 Z" fill="#b4b4b4"/>
<path d="M562.80,78.99 L566.00,73.23 L569.20,78.99 Z" fill="#b4b4b4"/>
<path d="M574.90,85.60 L578.10,79.84 L581.30,85.60 Z" fill="#b4b4b4"/>
<path d="M587.00,93.21 L590.20,87.45 L593.40,93.21 Z" fill="#b4b4b4"/>
<path d="M599.10,103.61 L602.30,97.85 L605.50,103.61 Z" fill="#b4b4b4"/>
<path d="M619.00,123.65 L622.20,117.89 L625.40,123.65 Z" fill="#b4b4b4"/>
<path d="M514.40,60.42 L517.60,54.66 L520.80,60.42 Z" fill="#5a28a0"/>
<path d="M526.50,59.97 L529.70,54.21 L532.90,59.97 Z" fill="#5a28a0"/>
<path d="M538.60,59.63 L541.80,53.87 L545.00,59.63 Z" fill="#5a28a0"/>
<path d="M550.70,61.09 L553.90,55.33 L557.10,61.09 Z" fill="#5a28a0"/>
<path d="M562.80,62.21 L566.00,56.45 L569.20,62.21 Z" fill="#5a28a0"/>
<path d="M574.90,58.74 L578.10,52.98 L581.30,58.74 Z" fill="#5a28a0"/>
<path d="M587.00,68.92 L590.20,63.16 L593.40,68.92 Z" fill="#5a28a0"/>
<path d="M599.10,83.47 L602.30,77.71 L605.50,83.47 Z" fill="#5a28a0"/>
<path d="M619.00,105.18 L622.20,99.42 L625.40,105.18 Z" fill="#5a28a0"/>
<path d="M514.40,65.56 L517.60,59.80 L520.80,65.56 Z" fill="#9646ff"/>
<path d="M526.50,65.56 L529.70,59.80 L532.90,65.56 Z" fill="#9646ff"/>
<path d="M538.60,65.56 L541.80,59.80 L545.00,65.56 Z" fill="#9646ff"/>
<path d="M550.70,65.56 L553.90,59.80 L557.10,65.56 Z" fill="#9646ff"/>
<path d="M562.80,65.56 L566.00,59.80 L569.20,65.56 Z" fill="#9646ff"/>
<path d="M574.90,67.80 L578.10,62.04 L581.30,67.80 Z" fill="#9646ff"/>
<path d="M587.00,70.04 L590.20,64.28 L593.40,70.04 Z" fill="#9646ff"/>
<path d="M599.10,77.87 L602.30,72.11 L605.50,77.87 Z" fill="#9646ff"/>
<path d="M619.00,87.50 L622.20,81.74 L625.40,87.50 Z" fill="#9646ff"/>
<path d="M514.40,70.04 L517.60,64.28 L520.80,70.04 Z" fill="#1428ff"/>
<path d="M526.50,70.04 L529.70,64.28 L532.90,70.04 Z" fill="#1428ff"/>
<path d="M538.60,71.16 L541.80,65.40 L545.00,71.16 Z" fill="#1428ff"/>
<path d="M550.70,70.04 L553.90,64.28 L557.10,70.04 Z" fill="#1428ff"/>
<path d="M562.80,67.80 L566.00,62.04 L569.20,67.80 Z" fill="#1428ff"/>
<path d="M574.90,71.16 L578.10,65.40 L581.30,71.16 Z" fill="#1428ff"/>
<path d="M587.00,73.40 L590.20,67.64 L593.40,73.40 Z" fill="#1428ff"/>
<path d="M599.10,85.71 L602.30,79.95 L605.50,85.71 Z" fill="#1428ff"/>
<path d="M619.00,89.07 L622.20,83.31 L625.40,89.07 Z" fill="#1428ff"/>
<path d="M514.40,71.16 L517.60,65.40 L520.80,71.16 Z" fill="#1e96ff"/>
<path d="M526.50,71.16 L529.70,65.40 L532.90,71.16 Z" fill="#1e96ff"/>
<path d="M538.60,73.40 L541.80,67.64 L545.00,73.40 Z" fill="#1e96ff"/>
<path d="M550.70,72.28 L553.90,66.52 L557.10,72.28 Z" fill="#1e96ff"/>
<path d="M562.80,70.04 L566.00,64.28 L569.20,70.04 Z" fill="#1e96ff"/>
<path d="M574.90,73.40 L578.10,67.64 L581.30,73.40 Z" fill="#1e96ff"/>
<path d="M587.00,76.75 L590.20,70.99 L593.40,76.75 Z" fill="#1e96ff"/>
<path d="M599.10,85.71 L602.30,79.95 L605.50,85.71 Z" fill="#1e96ff"/>
<path d="M619.00,90.18 L622.20,84.42 L625.40,90.18 Z" fill="#1e96ff"/>
<path d="M514.40,70.04 L517.60,64.28 L520.80,70.04 Z" fill="#1ec0ff"/>
<path d="M526.50,71.16 L529.70,65.40 L532.90,71.16 Z" fill="#1ec0ff"/>
<path d="M538.60,71.16 L541.80,65.40 L545.00,71.16 Z" fill="#1ec0ff"/>
<path d="M550.70,72.28 L553.90,66.52 L557.10,72.28 Z" fill="#1ec0ff"/>
<path d="M562.80,71.16 L566.00,65.40 L569.20,71.16 Z" fill="#1ec0ff"/>
<path d="M574.90,72.28 L578.10,66.52 L581.30,72.28 Z" fill="#1ec0ff"/>
<path d="M587.00,74.52 L590.20,68.76 L593.40,74.52 Z" fill="#1ec0ff"/>
<path d="M599.10,77.87 L602.30,72.11 L605.50,77.87 Z" fill="#1ec0ff"/>
<path d="M619.00,78.99 L622.20,73.23 L625.40,78.99 Z" fill="#1ec0ff"/>
<path d="M514.40,68.92 L517.60,63.16 L520.80,68.92 Z" fill="#16d216"/>
<path d="M526.50,70.04 L529.70,64.28 L532.90,70.04 Z" fill="#16d216"/>
<path d="M538.60,70.04 L541.80,64.28 L545.00,70.04 Z" fill="#16d216"/>
<path d="M550.70,71.16 L553.90,65.40 L557.10,71.16 Z" fill="#16d216"/>
<path d="M562.80,72.28 L566.00,66.52 L569.20,72.28 Z" fill="#16d216"/>
<path d="M574.90,76.75 L578.10,70.99 L581.30,76.75 Z" fill="#16d216"/>
<path d="M587.00,82.80 L590.20,77.04 L593.40,82.80 Z" fill="#16d216"/>
<path d="M599.10,96.90 L602.30,91.14 L605.50,96.90 Z" fill="#16d216"/>
<path d="M619.00,115.03 L622.20,109.27 L625.40,115.03 Z" fill="#16d216"/>
<path d="M514.40,67.58 L517.60,61.82 L520.80,67.58 Z" fill="#a0e01e"/>
<path d="M526.50,67.58 L529.70,61.82 L532.90,67.58 Z" fill="#a0e01e"/>
<path d="M538.60,65.56 L541.80,59.80 L545.00,65.56 Z" fill="#a0e01e"/>
<path d="M550.70,62.43 L553.90,56.67 L557.10,62.43 Z" fill="#a0e01e"/>
<path d="M562.80,62.77 L566.00,57.01 L569.20,62.77 Z" fill="#a0e01e"/>
<path d="M574.90,67.58 L578.10,61.82 L581.30,67.58 Z" fill="#a0e01e"/>
<path d="M587.00,70.38 L590.20,64.62 L593.40,70.38 Z" fill="#a0e01e"/>
<path d="M599.10,73.29 L602.30,67.53 L605.50,73.29 Z" fill="#a0e01e"/>
<path d="M619.00,81.79 L622.20,76.03 L625.40,81.79 Z" fill="#a0e01e"/>
<path d="M514.40,71.16 L517.60,65.40 L520.80,71.16 Z" fill="#ffd42a"/>
<path d="M526.50,72.28 L529.70,66.52 L532.90,72.28 Z" fill="#ffd42a"/>
<path d="M538.60,74.52 L541.80,68.76 L545.00,74.52 Z" fill="#ffd42a"/>
<path d="M550.70,76.75 L553.90,70.99 L557.10,76.75 Z" fill="#ffd42a"/>
<path d="M562.80,78.99 L566.00,73.23 L569.20,78.99 Z" fill="#ffd42a"/>
<path d="M574.90,83.47 L578.10,77.71 L581.30,83.47 Z" fill="#ffd42a"/>
<path d="M587.00,90.18 L590.20,84.42 L593.40,90.18 Z" fill="#ffd42a"/>
<path d="M599.10,101.38 L602.30,95.62 L605.50,101.38 Z" fill="#ffd42a"/>
<path d="M619.00,118.84 L622.20,113.08 L625.40,118.84 Z" fill="#ffd42a"/>
<path d="M514.40,71.16 L517.60,65.40 L520.80,71.16 Z" fill="#ff8c14"/>
<path d="M526.50,73.40 L529.70,67.64 L532.90,73.40 Z" fill="#ff8c14"/>
<path d="M538.60,74.52 L541.80,68.76 L545.00,74.52 Z" fill="#ff8c14"/>
<path d="M550.70,76.75 L553.90,70.99 L557.10,76.75 Z" fill="#ff8c14"/>
<path d="M562.80,77.87 L566.00,72.11 L569.20,77.87 Z" fill="#ff8c14"/>
<path d="M574.90,83.69 L578.10,77.93 L581.30,83.69 Z" fill="#ff8c14"/>
<path d="M587.00,89.40 L590.20,83.64 L593.40,89.40 Z" fill="#ff8c14"/>
<path d="M599.10,99.81 L602.30,94.05 L605.50,99.81 Z" fill="#ff8c14"/>
<path d="M619.00,117.94 L622.20,112.18 L625.40,117.94 Z" fill="#ff8c14"/>
<path d="M514.40,69.26 L517.60,63.50 L520.80,69.26 Z" fill="#ff2a14"/>
<path d="M526.50,72.05 L529.70,66.29 L532.90,72.05 Z" fill="#ff2a14"/>
<path d="M538.60,71.38 L541.80,65.62 L545.00,71.38 Z" fill="#ff2a14"/>
<path d="M550.70,72.28 L553.90,66.52 L557.10,72.28 Z" fill="#ff2a14"/>
<path d="M562.80,72.84 L566.00,67.08 L569.20,72.84 Z" fill="#ff2a14"/>
<path d="M574.90,75.52 L578.10,69.76 L581.30,75.52 Z" fill="#ff2a14"/>
<path d="M587.00,76.75 L590.20,70.99 L593.40,76.75 Z" fill="#ff2a14"/>
<path d="M599.10,82.80 L602.30,77.04 L605.50,82.80 Z" fill="#ff2a14"/>
<path d="M619.00,98.47 L622.20,92.71 L625.40,98.47 Z" fill="#ff2a14"/>
<circle cx="517.60" cy="72.20" r="3.2" fill="#000"/>
<circle cx="529.70" cy="76.56" r="3.2" fill="#000"/>
<circle cx="541.80" cy="84.95" r="3.2" fill="#000"/>
<circle cx="553.90" cy="100.73" r="3.2" fill="#000"/>
<circle cx="566.00" cy="120.88" r="3.2" fill="#000"/>
<circle cx="578.10" cy="141.02" r="3.2" fill="#000"/>
<circle cx="590.20" cy="153.45" r="3.2" fill="#000"/>
<circle cx="602.30" cy="163.52" r="3.2" fill="#000"/>
<circle cx="622.20" cy="169.56" r="3.2" fill="#000"/>
<circle cx="642.5" cy="46.60" r="3.3" fill="#000"/>
<text x="650.80" y="49.50" font-size="8.2" fill="#222" stroke="#222" stroke-width="0.1" text-anchor="start" font-weight="normal" >WT</text>
<path d="M639.30,59.58 L642.50,53.82 L645.70,59.58 Z" fill="#ff2a14"/>
<line x1="639.30" y1="57.00" x2="645.70" y2="57.00" stroke="#ff2a14" stroke-width="0.8"/>
<text x="650.80" y="59.60" font-size="8.2" fill="#222" stroke="#222" stroke-width="0.1" text-anchor="start" font-weight="normal" >G75R</text>
<path d="M639.30,69.68 L642.50,63.92 L645.70,69.68 Z" fill="#ff8c14"/>
<line x1="639.30" y1="67.10" x2="645.70" y2="67.10" stroke="#ff8c14" stroke-width="0.8"/>
<text x="650.80" y="69.70" font-size="8.2" fill="#222" stroke="#222" stroke-width="0.1" text-anchor="start" font-weight="normal" >L77A</text>
<path d="M639.30,79.78 L642.50,74.02 L645.70,79.78 Z" fill="#ffd42a"/>
<line x1="639.30" y1="77.20" x2="645.70" y2="77.20" stroke="#ffd42a" stroke-width="0.8"/>
<text x="650.80" y="79.80" font-size="8.2" fill="#222" stroke="#222" stroke-width="0.1" text-anchor="start" font-weight="normal" >D80A</text>
<path d="M639.30,89.88 L642.50,84.12 L645.70,89.88 Z" fill="#a0e01e"/>
<line x1="639.30" y1="87.30" x2="645.70" y2="87.30" stroke="#a0e01e" stroke-width="0.8"/>
<text x="650.80" y="89.90" font-size="8.2" fill="#222" stroke="#222" stroke-width="0.1" text-anchor="start" font-weight="normal" >Y81A</text>
<path d="M639.30,99.98 L642.50,94.22 L645.70,99.98 Z" fill="#16d216"/>
<line x1="639.30" y1="97.40" x2="645.70" y2="97.40" stroke="#16d216" stroke-width="0.8"/>
<text x="650.80" y="100.00" font-size="8.2" fill="#222" stroke="#222" stroke-width="0.1" text-anchor="start" font-weight="normal" >G82R</text>
<path d="M639.30,110.08 L642.50,104.32 L645.70,110.08 Z" fill="#1ec0ff"/>
<line x1="639.30" y1="107.50" x2="645.70" y2="107.50" stroke="#1ec0ff" stroke-width="0.8"/>
<text x="650.80" y="110.10" font-size="8.2" fill="#222" stroke="#222" stroke-width="0.1" text-anchor="start" font-weight="normal" >F83A</text>
<path d="M639.30,120.18 L642.50,114.42 L645.70,120.18 Z" fill="#1e96ff"/>
<line x1="639.30" y1="117.60" x2="645.70" y2="117.60" stroke="#1e96ff" stroke-width="0.8"/>
<text x="650.80" y="120.20" font-size="8.2" fill="#222" stroke="#222" stroke-width="0.1" text-anchor="start" font-weight="normal" >P84A</text>
<path d="M639.30,130.28 L642.50,124.52 L645.70,130.28 Z" fill="#1428ff"/>
<line x1="639.30" y1="127.70" x2="645.70" y2="127.70" stroke="#1428ff" stroke-width="0.8"/>
<text x="650.80" y="130.30" font-size="8.2" fill="#222" stroke="#222" stroke-width="0.1" text-anchor="start" font-weight="normal" >D85R</text>
<path d="M639.30,140.38 L642.50,134.62 L645.70,140.38 Z" fill="#9646ff"/>
<line x1="639.30" y1="137.80" x2="645.70" y2="137.80" stroke="#9646ff" stroke-width="0.8"/>
<text x="650.80" y="140.40" font-size="8.2" fill="#222" stroke="#222" stroke-width="0.1" text-anchor="start" font-weight="normal" >Y90A</text>
<path d="M639.30,150.48 L642.50,144.72 L645.70,150.48 Z" fill="#5a28a0"/>
<line x1="639.30" y1="147.90" x2="645.70" y2="147.90" stroke="#5a28a0" stroke-width="0.8"/>
<text x="650.80" y="150.50" font-size="8.2" fill="#222" stroke="#222" stroke-width="0.1" text-anchor="start" font-weight="normal" >I140A</text>
<path d="M639.30,160.58 L642.50,154.82 L645.70,160.58 Z" fill="#b4b4b4"/>
<line x1="639.30" y1="158.00" x2="645.70" y2="158.00" stroke="#b4b4b4" stroke-width="0.8"/>
<text x="650.80" y="160.60" font-size="8.2" fill="#222" stroke="#222" stroke-width="0.1" text-anchor="start" font-weight="normal" >L152A</text>
<text x="0.30" y="248.90" font-size="14.5" fill="#000" text-anchor="start" font-weight="bold" >b</text>
<rect x="35.50" y="275.20" width="17.69" height="13.07" fill="#6689c4"/>
<rect x="35.50" y="287.97" width="17.69" height="13.07" fill="#9fb2d2"/>
<rect x="35.50" y="300.74" width="17.69" height="13.07" fill="#e9e7ed"/>
<rect x="35.50" y="313.51" width="17.69" height="13.07" fill="#ebd5d5"/>
<rect x="35.50" y="326.28" width="17.69" height="13.07" fill="#d8a0a0"/>
<rect x="35.50" y="339.05" width="17.69" height="13.07" fill="#c87676"/>
<rect x="35.50" y="351.82" width="17.69" height="13.07" fill="#bc5b5b"/>
<rect x="35.50" y="364.59" width="17.69" height="13.07" fill="#b44848"/>
<rect x="35.50" y="377.36" width="17.69" height="13.07" fill="#b24444"/>
<rect x="35.50" y="390.13" width="17.69" height="13.07" fill="#b04243"/>
<rect x="52.89" y="275.20" width="17.69" height="13.07" fill="#5681c4"/>
<rect x="52.89" y="287.97" width="17.69" height="13.07" fill="#819cca"/>
<rect x="52.89" y="300.74" width="17.69" height="13.07" fill="#c2c8dc"/>
<rect x="52.89" y="313.51" width="17.69" height="13.07" fill="#f7f2f2"/>
<rect x="52.89" y="326.28" width="17.69" height="13.07" fill="#e2bebe"/>
<rect x="52.89" y="339.05" width="17.69" height="13.07" fill="#d08a8a"/>
<rect x="52.89" y="351.82" width="17.69" height="13.07" fill="#c06363"/>
<rect x="52.89" y="364.59" width="17.69" height="13.07" fill="#b44848"/>
<rect x="52.89" y="377.36" width="17.69" height="13.07" fill="#b04243"/>
<rect x="52.89" y="390.13" width="17.69" height="13.07" fill="#ae3e3f"/>
<rect x="70.27" y="275.20" width="17.69" height="13.07" fill="#6287c4"/>
<rect x="70.27" y="287.97" width="17.69" height="13.07" fill="#8ea6ce"/>
<rect x="70.27" y="300.74" width="17.69" height="13.07" fill="#c2c8dc"/>
<rect x="70.27" y="313.51" width="17.69" height="13.07" fill="#f7f2f2"/>
<rect x="70.27" y="326.28" width="17.69" height="13.07" fill="#e2bebe"/>
<rect x="70.27" y="339.05" width="17.69" height="13.07" fill="#d08a8a"/>
<rect x="70.27" y="351.82" width="17.69" height="13.07" fill="#c06363"/>
<rect x="70.27" y="364.59" width="17.69" height="13.07" fill="#b44848"/>
<rect x="70.27" y="377.36" width="17.69" height="13.07" fill="#b04243"/>
<rect x="70.27" y="390.13" width="17.69" height="13.07" fill="#af4041"/>
<rect x="87.66" y="275.20" width="17.69" height="13.07" fill="#4477c3"/>
<rect x="87.66" y="287.97" width="17.69" height="13.07" fill="#6c8cc4"/>
<rect x="87.66" y="300.74" width="17.69" height="13.07" fill="#9fb2d2"/>
<rect x="87.66" y="313.51" width="17.69" height="13.07" fill="#ced2e1"/>
<rect x="87.66" y="326.28" width="17.69" height="13.07" fill="#eedddd"/>
<rect x="87.66" y="339.05" width="17.69" height="13.07" fill="#d9a5a5"/>
<rect x="87.66" y="351.82" width="17.69" height="13.07" fill="#c56e6e"/>
<rect x="87.66" y="364.59" width="17.69" height="13.07" fill="#b95353"/>
<rect x="87.66" y="377.36" width="17.69" height="13.07" fill="#b34646"/>
<rect x="87.66" y="390.13" width="17.69" height="13.07" fill="#b24444"/>
<rect x="105.04" y="275.20" width="17.69" height="13.07" fill="#386fc1"/>
<rect x="105.04" y="287.97" width="17.69" height="13.07" fill="#6c8cc4"/>
<rect x="105.04" y="300.74" width="17.69" height="13.07" fill="#9fb2d2"/>
<rect x="105.04" y="313.51" width="17.69" height="13.07" fill="#ced2e1"/>
<rect x="105.04" y="326.28" width="17.69" height="13.07" fill="#f0e1e1"/>
<rect x="105.04" y="339.05" width="17.69" height="13.07" fill="#ddafaf"/>
<rect x="105.04" y="351.82" width="17.69" height="13.07" fill="#cb7e7e"/>
<rect x="105.04" y="364.59" width="17.69" height="13.07" fill="#bc5b5b"/>
<rect x="105.04" y="377.36" width="17.69" height="13.07" fill="#b44848"/>
<rect x="105.04" y="390.13" width="17.69" height="13.07" fill="#b34646"/>
<rect x="122.43" y="275.20" width="17.69" height="13.07" fill="#4477c3"/>
<rect x="122.43" y="287.97" width="17.69" height="13.07" fill="#6c8cc4"/>
<rect x="122.43" y="300.74" width="17.69" height="13.07" fill="#9fb2d2"/>
<rect x="122.43" y="313.51" width="17.69" height="13.07" fill="#ced2e1"/>
<rect x="122.43" y="326.28" width="17.69" height="13.07" fill="#f0e1e1"/>
<rect x="122.43" y="339.05" width="17.69" height="13.07" fill="#dbaaaa"/>
<rect x="122.43" y="351.82" width="17.69" height="13.07" fill="#c87676"/>
<rect x="122.43" y="364.59" width="17.69" height="13.07" fill="#bb5757"/>
<rect x="122.43" y="377.36" width="17.69" height="13.07" fill="#b44848"/>
<rect x="122.43" y="390.13" width="17.69" height="13.07" fill="#b34646"/>
<rect x="139.81" y="275.20" width="17.69" height="13.07" fill="#4c7cc4"/>
<rect x="139.81" y="287.97" width="17.69" height="13.07" fill="#6c8cc4"/>
<rect x="139.81" y="300.74" width="17.69" height="13.07" fill="#96acd0"/>
<rect x="139.81" y="313.51" width="17.69" height="13.07" fill="#b9c2da"/>
<rect x="139.81" y="326.28" width="17.69" height="13.07" fill="#f7f2f2"/>
<rect x="139.81" y="339.05" width="17.69" height="13.07" fill="#e6c8c8"/>
<rect x="139.81" y="351.82" width="17.69" height="13.07" fill="#d49696"/>
<rect x="139.81" y="364.59" width="17.69" height="13.07" fill="#c26666"/>
<rect x="139.81" y="377.36" width="17.69" height="13.07" fill="#b75050"/>
<rect x="139.81" y="390.13" width="17.69" height="13.07" fill="#af4041"/>
<rect x="157.19" y="275.20" width="17.69" height="13.07" fill="#4c7cc4"/>
<rect x="157.19" y="287.97" width="17.69" height="13.07" fill="#6c8cc4"/>
<rect x="157.19" y="300.74" width="17.69" height="13.07" fill="#96acd0"/>
<rect x="157.19" y="313.51" width="17.69" height="13.07" fill="#b9c2da"/>
<rect x="157.19" y="326.28" width="17.69" height="13.07" fill="#f7f2f2"/>
<rect x="157.19" y="339.05" width="17.69" height="13.07" fill="#e6c8c8"/>
<rect x="157.19" y="351.82" width="17.69" height="13.07" fill="#d49696"/>
<rect x="157.19" y="364.59" width="17.69" height="13.07" fill="#c26666"/>
<rect x="157.19" y="377.36" width="17.69" height="13.07" fill="#b44848"/>
<rect x="157.19" y="390.13" width="17.69" height="13.07" fill="#ad3c3d"/>
<rect x="174.58" y="275.20" width="17.69" height="13.07" fill="#4074c2"/>
<rect x="174.58" y="287.97" width="17.69" height="13.07" fill="#6287c4"/>
<rect x="174.58" y="300.74" width="17.69" height="13.07" fill="#8ea6ce"/>
<rect x="174.58" y="313.51" width="17.69" height="13.07" fill="#b9c2da"/>
<rect x="174.58" y="326.28" width="17.69" height="13.07" fill="#f7f2f2"/>
<rect x="174.58" y="339.05" width="17.69" height="13.07" fill="#e6c8c8"/>
<rect x="174.58" y="351.82" width="17.69" height="13.07" fill="#d49696"/>
<rect x="174.58" y="364.59" width="17.69" height="13.07" fill="#c56e6e"/>
<rect x="174.58" y="377.36" width="17.69" height="13.07" fill="#b95353"/>
<rect x="174.58" y="390.13" width="17.69" height="13.07" fill="#b44848"/>
<rect x="191.97" y="275.20" width="17.69" height="13.07" fill="#346cc0"/>
<rect x="191.97" y="287.97" width="17.69" height="13.07" fill="#5c84c4"/>
<rect x="191.97" y="300.74" width="17.69" height="13.07" fill="#8ea6ce"/>
<rect x="191.97" y="313.51" width="17.69" height="13.07" fill="#b9c2da"/>
<rect x="191.97" y="326.28" width="17.69" height="13.07" fill="#f7f2f2"/>
<rect x="191.97" y="339.05" width="17.69" height="13.07" fill="#e2bebe"/>
<rect x="191.97" y="351.82" width="17.69" height="13.07" fill="#d18e8e"/>
<rect x="191.97" y="364.59" width="17.69" height="13.07" fill="#c56e6e"/>
<rect x="191.97" y="377.36" width="17.69" height="13.07" fill="#b95353"/>
<rect x="191.97" y="390.13" width="17.69" height="13.07" fill="#b44848"/>
<rect x="209.35" y="275.20" width="17.69" height="13.07" fill="#386fc1"/>
<rect x="209.35" y="287.97" width="17.69" height="13.07" fill="#5681c4"/>
<rect x="209.35" y="300.74" width="17.69" height="13.07" fill="#7d99c9"/>
<rect x="209.35" y="313.51" width="17.69" height="13.07" fill="#a8b7d5"/>
<rect x="209.35" y="326.28" width="17.69" height="13.07" fill="#e9e7ed"/>
<rect x="209.35" y="339.05" width="17.69" height="13.07" fill="#ebd5d5"/>
<rect x="209.35" y="351.82" width="17.69" height="13.07" fill="#d8a0a0"/>
<rect x="209.35" y="364.59" width="17.69" height="13.07" fill="#c87676"/>
<rect x="209.35" y="377.36" width="17.69" height="13.07" fill="#bb5757"/>
<rect x="209.35" y="390.13" width="17.69" height="13.07" fill="#b44848"/>
<rect x="226.74" y="275.20" width="17.69" height="13.07" fill="#386fc1"/>
<rect x="226.74" y="287.97" width="17.69" height="13.07" fill="#5681c4"/>
<rect x="226.74" y="300.74" width="17.69" height="13.07" fill="#819cca"/>
<rect x="226.74" y="313.51" width="17.69" height="13.07" fill="#b5c0d8"/>
<rect x="226.74" y="326.28" width="17.69" height="13.07" fill="#f7f2f2"/>
<rect x="226.74" y="339.05" width="17.69" height="13.07" fill="#dfb4b4"/>
<rect x="226.74" y="351.82" width="17.69" height="13.07" fill="#cb7e7e"/>
<rect x="226.74" y="364.59" width="17.69" height="13.07" fill="#b75050"/>
<rect x="226.74" y="377.36" width="17.69" height="13.07" fill="#af4041"/>
<rect x="226.74" y="390.13" width="17.69" height="13.07" fill="#ad3c3d"/>
<rect x="244.12" y="275.20" width="17.69" height="13.07" fill="#2462be"/>
<rect x="244.12" y="287.97" width="17.69" height="13.07" fill="#527fc4"/>
<rect x="244.12" y="300.74" width="17.69" height="13.07" fill="#819cca"/>
<rect x="244.12" y="313.51" width="17.69" height="13.07" fill="#b0bdd7"/>
<rect x="244.12" y="326.28" width="17.69" height="13.07" fill="#f2eef0"/>
<rect x="244.12" y="339.05" width="17.69" height="13.07" fill="#e2bebe"/>
<rect x="244.12" y="351.82" width="17.69" height="13.07" fill="#d08a8a"/>
<rect x="244.12" y="364.59" width="17.69" height="13.07" fill="#c06363"/>
<rect x="244.12" y="377.36" width="17.69" height="13.07" fill="#b44848"/>
<rect x="244.12" y="390.13" width="17.69" height="13.07" fill="#b24444"/>
<rect x="261.50" y="275.20" width="17.69" height="13.07" fill="#4074c2"/>
<rect x="261.50" y="287.97" width="17.69" height="13.07" fill="#5681c4"/>
<rect x="261.50" y="300.74" width="17.69" height="13.07" fill="#859fcb"/>
<rect x="261.50" y="313.51" width="17.69" height="13.07" fill="#b0bdd7"/>
<rect x="261.50" y="326.28" width="17.69" height="13.07" fill="#f2eef0"/>
<rect x="261.50" y="339.05" width="17.69" height="13.07" fill="#e4c3c3"/>
<rect x="261.50" y="351.82" width="17.69" height="13.07" fill="#d08a8a"/>
<rect x="261.50" y="364.59" width="17.69" height="13.07" fill="#c06363"/>
<rect x="261.50" y="377.36" width="17.69" height="13.07" fill="#b44848"/>
<rect x="261.50" y="390.13" width="17.69" height="13.07" fill="#b24444"/>
<rect x="278.89" y="275.20" width="17.69" height="13.07" fill="#acbad6"/>
<rect x="278.89" y="287.97" width="17.69" height="13.07" fill="#eeebee"/>
<rect x="278.89" y="300.74" width="17.69" height="13.07" fill="#ebd5d5"/>
<rect x="278.89" y="313.51" width="17.69" height="13.07" fill="#d9a5a5"/>
<rect x="278.89" y="326.28" width="17.69" height="13.07" fill="#cc8282"/>
<rect x="278.89" y="339.05" width="17.69" height="13.07" fill="#c26666"/>
<rect x="278.89" y="351.82" width="17.69" height="13.07" fill="#bb5757"/>
<rect x="278.89" y="364.59" width="17.69" height="13.07" fill="#b64c4c"/>
<rect x="278.89" y="377.36" width="17.69" height="13.07" fill="#b44848"/>
<rect x="278.89" y="390.13" width="17.69" height="13.07" fill="#b64c4c"/>
<rect x="296.28" y="275.20" width="17.69" height="13.07" fill="#acbad6"/>
<rect x="296.28" y="287.97" width="17.69" height="13.07" fill="#e0e0e9"/>
<rect x="296.28" y="300.74" width="17.69" height="13.07" fill="#eedddd"/>
<rect x="296.28" y="313.51" width="17.69" height="13.07" fill="#d9a5a5"/>
<rect x="296.28" y="326.28" width="17.69" height="13.07" fill="#c87676"/>
<rect x="296.28" y="339.05" width="17.69" height="13.07" fill="#bb5757"/>
<rect x="296.28" y="351.82" width="17.69" height="13.07" fill="#b24444"/>
<rect x="296.28" y="364.59" width="17.69" height="13.07" fill="#ad3c3d"/>
<rect x="296.28" y="377.36" width="17.69" height="13.07" fill="#aa383a"/>
<rect x="296.28" y="390.13" width="17.69" height="13.07" fill="#a93638"/>
<rect x="313.66" y="275.20" width="17.69" height="13.07" fill="#c2c8dc"/>
<rect x="313.66" y="287.97" width="17.69" height="13.07" fill="#f7f2f2"/>
<rect x="313.66" y="300.74" width="17.69" height="13.07" fill="#e6c8c8"/>
<rect x="313.66" y="313.51" width="17.69" height="13.07" fill="#cc8282"/>
<rect x="313.66" y="326.28" width="17.69" height="13.07" fill="#c06363"/>
<rect x="313.66" y="339.05" width="17.69" height="13.07" fill="#b64c4c"/>
<rect x="313.66" y="351.82" width="17.69" height="13.07" fill="#b24444"/>
<rect x="313.66" y="364.59" width="17.69" height="13.07" fill="#b24444"/>
<rect x="313.66" y="377.36" width="17.69" height="13.07" fill="#b04243"/>
<rect x="313.66" y="390.13" width="17.69" height="13.07" fill="#b04243"/>
<rect x="331.05" y="275.20" width="17.69" height="13.07" fill="#c2c8dc"/>
<rect x="331.05" y="287.97" width="17.69" height="13.07" fill="#f7f2f2"/>
<rect x="331.05" y="300.74" width="17.69" height="13.07" fill="#e8cccc"/>
<rect x="331.05" y="313.51" width="17.69" height="13.07" fill="#d49696"/>
<rect x="331.05" y="326.28" width="17.69" height="13.07" fill="#c87676"/>
<rect x="331.05" y="339.05" width="17.69" height="13.07" fill="#bc5b5b"/>
<rect x="331.05" y="351.82" width="17.69" height="13.07" fill="#b64c4c"/>
<rect x="331.05" y="364.59" width="17.69" height="13.07" fill="#b34646"/>
<rect x="331.05" y="377.36" width="17.69" height="13.07" fill="#b24444"/>
<rect x="331.05" y="390.13" width="17.69" height="13.07" fill="#b24444"/>
<rect x="348.43" y="275.20" width="17.69" height="13.07" fill="#f7f2f2"/>
<rect x="348.43" y="287.97" width="17.69" height="13.07" fill="#e9d0d0"/>
<rect x="348.43" y="300.74" width="17.69" height="13.07" fill="#ddafaf"/>
<rect x="348.43" y="313.51" width="17.69" height="13.07" fill="#d18e8e"/>
<rect x="348.43" y="326.28" width="17.69" height="13.07" fill="#c56e6e"/>
<rect x="348.43" y="339.05" width="17.69" height="13.07" fill="#bb5757"/>
<rect x="348.43" y="351.82" width="17.69" height="13.07" fill="#b44848"/>
<rect x="348.43" y="364.59" width="17.69" height="13.07" fill="#b34646"/>
<rect x="348.43" y="377.36" width="17.69" height="13.07" fill="#b24444"/>
<rect x="348.43" y="390.13" width="17.69" height="13.07" fill="#b24444"/>
<rect x="365.82" y="275.20" width="17.69" height="13.07" fill="#9fb2d2"/>
<rect x="365.82" y="287.97" width="17.69" height="13.07" fill="#dadbe6"/>
<rect x="365.82" y="300.74" width="17.69" height="13.07" fill="#f7f2f2"/>
<rect x="365.82" y="313.51" width="17.69" height="13.07" fill="#e2bebe"/>
<rect x="365.82" y="326.28" width="17.69" height="13.07" fill="#d49696"/>
<rect x="365.82" y="339.05" width="17.69" height="13.07" fill="#c56e6e"/>
<rect x="365.82" y="351.82" width="17.69" height="13.07" fill="#bb5757"/>
<rect x="365.82" y="364.59" width="17.69" height="13.07" fill="#b34646"/>
<rect x="365.82" y="377.36" width="17.69" height="13.07" fill="#b24444"/>
<rect x="365.82" y="390.13" width="17.69" height="13.07" fill="#b24444"/>
<rect x="383.20" y="275.20" width="17.69" height="13.07" fill="#b5c0d8"/>
<rect x="383.20" y="287.97" width="17.69" height="13.07" fill="#e5e4eb"/>
<rect x="383.20" y="300.74" width="17.69" height="13.07" fill="#f4eaea"/>
<rect x="383.20" y="313.51" width="17.69" height="13.07" fill="#e2bebe"/>
<rect x="383.20" y="326.28" width="17.69" height="13.07" fill="#d18e8e"/>
<rect x="383.20" y="339.05" width="17.69" height="13.07" fill="#c56e6e"/>
<rect x="383.20" y="351.82" width="17.69" height="13.07" fill="#b95353"/>
<rect x="383.20" y="364.59" width="17.69" height="13.07" fill="#b44848"/>
<rect x="383.20" y="377.36" width="17.69" height="13.07" fill="#b44848"/>
<rect x="383.20" y="390.13" width="17.69" height="13.07" fill="#b44848"/>
<rect x="400.59" y="275.20" width="17.69" height="13.07" fill="#96acd0"/>
<rect x="400.59" y="287.97" width="17.69" height="13.07" fill="#c2c8dc"/>
<rect x="400.59" y="300.74" width="17.69" height="13.07" fill="#f7f2f2"/>
<rect x="400.59" y="313.51" width="17.69" height="13.07" fill="#e9d0d0"/>
<rect x="400.59" y="326.28" width="17.69" height="13.07" fill="#d9a5a5"/>
<rect x="400.59" y="339.05" width="17.69" height="13.07" fill="#cb7e7e"/>
<rect x="400.59" y="351.82" width="17.69" height="13.07" fill="#c26666"/>
<rect x="400.59" y="364.59" width="17.69" height="13.07" fill="#bb5757"/>
<rect x="400.59" y="377.36" width="17.69" height="13.07" fill="#b75050"/>
<rect x="400.59" y="390.13" width="17.69" height="13.07" fill="#b75050"/>
<rect x="417.97" y="275.20" width="17.69" height="13.07" fill="#96acd0"/>
<rect x="417.97" y="287.97" width="17.69" height="13.07" fill="#c2c8dc"/>
<rect x="417.97" y="300.74" width="17.69" height="13.07" fill="#f7f2f2"/>
<rect x="417.97" y="313.51" width="17.69" height="13.07" fill="#ebd5d5"/>
<rect x="417.97" y="326.28" width="17.69" height="13.07" fill="#dfb4b4"/>
<rect x="417.97" y="339.05" width="17.69" height="13.07" fill="#ce8686"/>
<rect x="417.97" y="351.82" width="17.69" height="13.07" fill="#c56e6e"/>
<rect x="417.97" y="364.59" width="17.69" height="13.07" fill="#bc5b5b"/>
<rect x="417.97" y="377.36" width="17.69" height="13.07" fill="#b95353"/>
<rect x="417.97" y="390.13" width="17.69" height="13.07" fill="#b95353"/>
<rect x="435.36" y="275.20" width="17.69" height="13.07" fill="#d49696"/>
<rect x="435.36" y="287.97" width="17.69" height="13.07" fill="#c56e6e"/>
<rect x="435.36" y="300.74" width="17.69" height="13.07" fill="#be5f5f"/>
<rect x="435.36" y="313.51" width="17.69" height="13.07" fill="#b95353"/>
<rect x="435.36" y="326.28" width="17.69" height="13.07" fill="#b75050"/>
<rect x="435.36" y="339.05" width="17.69" height="13.07" fill="#b75050"/>
<rect x="435.36" y="351.82" width="17.69" height="13.07" fill="#b75050"/>
<rect x="435.36" y="364.59" width="17.69" height="13.07" fill="#b75050"/>
<rect x="435.36" y="377.36" width="17.69" height="13.07" fill="#b75050"/>
<rect x="435.36" y="390.13" width="17.69" height="13.07" fill="#b75050"/>
<rect x="452.74" y="275.20" width="17.69" height="13.07" fill="#d49696"/>
<rect x="452.74" y="287.97" width="17.69" height="13.07" fill="#c56e6e"/>
<rect x="452.74" y="300.74" width="17.69" height="13.07" fill="#bc5b5b"/>
<rect x="452.74" y="313.51" width="17.69" height="13.07" fill="#b75050"/>
<rect x="452.74" y="326.28" width="17.69" height="13.07" fill="#b75050"/>
<rect x="452.74" y="339.05" width="17.69" height="13.07" fill="#b75050"/>
<rect x="452.74" y="351.82" width="17.69" height="13.07" fill="#b75050"/>
<rect x="452.74" y="364.59" width="17.69" height="13.07" fill="#b75050"/>
<rect x="452.74" y="377.36" width="17.69" height="13.07" fill="#b75050"/>
<rect x="452.74" y="390.13" width="17.69" height="13.07" fill="#b75050"/>
<rect x="470.13" y="275.20" width="17.69" height="13.07" fill="#ddafaf"/>
<rect x="470.13" y="287.97" width="17.69" height="13.07" fill="#d08a8a"/>
<rect x="470.13" y="300.74" width="17.69" height="13.07" fill="#c56e6e"/>
<rect x="470.13" y="313.51" width="17.69" height="13.07" fill="#c26666"/>
<rect x="470.13" y="326.28" width="17.69" height="13.07" fill="#c26666"/>
<rect x="470.13" y="339.05" width="17.69" height="13.07" fill="#c26666"/>
<rect x="470.13" y="351.82" width="17.69" height="13.07" fill="#c26666"/>
<rect x="470.13" y="364.59" width="17.69" height="13.07" fill="#c26666"/>
<rect x="470.13" y="377.36" width="17.69" height="13.07" fill="#c26666"/>
<rect x="470.13" y="390.13" width="17.69" height="13.07" fill="#c26666"/>
<rect x="487.51" y="275.20" width="17.69" height="13.07" fill="#e9d0d0"/>
<rect x="487.51" y="287.97" width="17.69" height="13.07" fill="#d9a5a5"/>
<rect x="487.51" y="300.74" width="17.69" height="13.07" fill="#cc8282"/>
<rect x="487.51" y="313.51" width="17.69" height="13.07" fill="#c36a6a"/>
<rect x="487.51" y="326.28" width="17.69" height="13.07" fill="#bc5b5b"/>
<rect x="487.51" y="339.05" width="17.69" height="13.07" fill="#b75050"/>
<rect x="487.51" y="351.82" width="17.69" height="13.07" fill="#b44848"/>
<rect x="487.51" y="364.59" width="17.69" height="13.07" fill="#b34646"/>
<rect x="487.51" y="377.36" width="17.69" height="13.07" fill="#b24444"/>
<rect x="487.51" y="390.13" width="17.69" height="13.07" fill="#b24444"/>
<rect x="504.90" y="275.20" width="17.69" height="13.07" fill="#e9d0d0"/>
<rect x="504.90" y="287.97" width="17.69" height="13.07" fill="#d9a5a5"/>
<rect x="504.90" y="300.74" width="17.69" height="13.07" fill="#cc8282"/>
<rect x="504.90" y="313.51" width="17.69" height="13.07" fill="#c36a6a"/>
<rect x="504.90" y="326.28" width="17.69" height="13.07" fill="#bc5b5b"/>
<rect x="504.90" y="339.05" width="17.69" height="13.07" fill="#b75050"/>
<rect x="504.90" y="351.82" width="17.69" height="13.07" fill="#b44848"/>
<rect x="504.90" y="364.59" width="17.69" height="13.07" fill="#b34646"/>
<rect x="504.90" y="377.36" width="17.69" height="13.07" fill="#b24444"/>
<rect x="504.90" y="390.13" width="17.69" height="13.07" fill="#b24444"/>
<rect x="522.28" y="275.20" width="17.69" height="13.07" fill="#e9d0d0"/>
<rect x="522.28" y="287.97" width="17.69" height="13.07" fill="#d9a5a5"/>
<rect x="522.28" y="300.74" width="17.69" height="13.07" fill="#cc8282"/>
<rect x="522.28" y="313.51" width="17.69" height="13.07" fill="#c26666"/>
<rect x="522.28" y="326.28" width="17.69" height="13.07" fill="#bc5b5b"/>
<rect x="522.28" y="339.05" width="17.69" height="13.07" fill="#b75050"/>
<rect x="522.28" y="351.82" width="17.69" height="13.07" fill="#b44848"/>
<rect x="522.28" y="364.59" width="17.69" height="13.07" fill="#b34646"/>
<rect x="522.28" y="377.36" width="17.69" height="13.07" fill="#b34646"/>
<rect x="522.28" y="390.13" width="17.69" height="13.07" fill="#b34646"/>
<rect x="539.66" y="275.20" width="17.69" height="13.07" fill="#eedddd"/>
<rect x="539.66" y="287.97" width="17.69" height="13.07" fill="#dfb4b4"/>
<rect x="539.66" y="300.74" width="17.69" height="13.07" fill="#d18e8e"/>
<rect x="539.66" y="313.51" width="17.69" height="13.07" fill="#c87676"/>
<rect x="539.66" y="326.28" width="17.69" height="13.07" fill="#c26666"/>
<rect x="539.66" y="339.05" width="17.69" height="13.07" fill="#b95353"/>
<rect x="539.66" y="351.82" width="17.69" height="13.07" fill="#b44848"/>
<rect x="539.66" y="364.59" width="17.69" height="13.07" fill="#b44848"/>
<rect x="539.66" y="377.36" width="17.69" height="13.07" fill="#b44848"/>
<rect x="539.66" y="390.13" width="17.69" height="13.07" fill="#b44848"/>
<rect x="557.05" y="275.20" width="17.69" height="13.07" fill="#e2bebe"/>
<rect x="557.05" y="287.97" width="17.69" height="13.07" fill="#d08a8a"/>
<rect x="557.05" y="300.74" width="17.69" height="13.07" fill="#c56e6e"/>
<rect x="557.05" y="313.51" width="17.69" height="13.07" fill="#bc5b5b"/>
<rect x="557.05" y="326.28" width="17.69" height="13.07" fill="#b75050"/>
<rect x="557.05" y="339.05" width="17.69" height="13.07" fill="#b75050"/>
<rect x="557.05" y="351.82" width="17.69" height="13.07" fill="#b75050"/>
<rect x="557.05" y="364.59" width="17.69" height="13.07" fill="#b75050"/>
<rect x="557.05" y="377.36" width="17.69" height="13.07" fill="#b75050"/>
<rect x="557.05" y="390.13" width="17.69" height="13.07" fill="#b75050"/>
<rect x="574.44" y="275.20" width="17.69" height="13.07" fill="#cc8282"/>
<rect x="574.44" y="287.97" width="17.69" height="13.07" fill="#b44848"/>
<rect x="574.44" y="300.74" width="17.69" height="13.07" fill="#b44848"/>
<rect x="574.44" y="313.51" width="17.69" height="13.07" fill="#b44848"/>
<rect x="574.44" y="326.28" width="17.69" height="13.07" fill="#b44848"/>
<rect x="574.44" y="339.05" width="17.69" height="13.07" fill="#b44848"/>
<rect x="574.44" y="351.82" width="17.69" height="13.07" fill="#b44848"/>
<rect x="574.44" y="364.59" width="17.69" height="13.07" fill="#b44848"/>
<rect x="574.44" y="377.36" width="17.69" height="13.07" fill="#b44848"/>
<rect x="574.44" y="390.13" width="17.69" height="13.07" fill="#b44848"/>
<rect x="591.82" y="275.20" width="17.69" height="13.07" fill="#c56e6e"/>
<rect x="591.82" y="287.97" width="17.69" height="13.07" fill="#b95353"/>
<rect x="591.82" y="300.74" width="17.69" height="13.07" fill="#b44848"/>
<rect x="591.82" y="313.51" width="17.69" height="13.07" fill="#b44848"/>
<rect x="591.82" y="326.28" width="17.69" height="13.07" fill="#b44848"/>
<rect x="591.82" y="339.05" width="17.69" height="13.07" fill="#b44848"/>
<rect x="591.82" y="351.82" width="17.69" height="13.07" fill="#b44848"/>
<rect x="591.82" y="364.59" width="17.69" height="13.07" fill="#b44848"/>
<rect x="591.82" y="377.36" width="17.69" height="13.07" fill="#b44848"/>
<rect x="591.82" y="390.13" width="17.69" height="13.07" fill="#b44848"/>
<rect x="609.21" y="275.20" width="17.69" height="13.07" fill="#bc5b5b"/>
<rect x="609.21" y="287.97" width="17.69" height="13.07" fill="#b95353"/>
<rect x="609.21" y="300.74" width="17.69" height="13.07" fill="#ad3c3d"/>
<rect x="609.21" y="313.51" width="17.69" height="13.07" fill="#ad3c3d"/>
<rect x="609.21" y="326.28" width="17.69" height="13.07" fill="#ad3c3d"/>
<rect x="609.21" y="339.05" width="17.69" height="13.07" fill="#ad3c3d"/>
<rect x="609.21" y="351.82" width="17.69" height="13.07" fill="#ad3c3d"/>
<rect x="609.21" y="364.59" width="17.69" height="13.07" fill="#ad3c3d"/>
<rect x="609.21" y="377.36" width="17.69" height="13.07" fill="#ad3c3d"/>
<rect x="609.21" y="390.13" width="17.69" height="13.07" fill="#ad3c3d"/>
<line x1="44.19" y1="271" x2="44.19" y2="276.5" stroke="#666" stroke-width="0.6"/>
<text font-size="8.6" fill="#222" stroke="#222" stroke-width="0.08" font-weight="normal" transform="translate(47.29,269.2) rotate(-90)">D142A</text>
<line x1="61.58" y1="271" x2="61.58" y2="276.5" stroke="#666" stroke-width="0.6"/>
<text font-size="8.6" fill="#222" stroke="#222" stroke-width="0.08" font-weight="normal" transform="translate(64.68,269.2) rotate(-90)">D142R</text>
<line x1="78.96" y1="271" x2="78.96" y2="276.5" stroke="#666" stroke-width="0.6"/>
<text font-size="8.6" fill="#222" stroke="#222" stroke-width="0.08" font-weight="normal" transform="translate(82.06,269.2) rotate(-90)">H88A</text>
<line x1="96.35" y1="271" x2="96.35" y2="276.5" stroke="#666" stroke-width="0.6"/>
<text font-size="8.6" fill="#222" stroke="#222" stroke-width="0.08" font-weight="normal" transform="translate(99.45,269.2) rotate(-90)">Q145A</text>
<line x1="113.73" y1="271" x2="113.73" y2="276.5" stroke="#666" stroke-width="0.6"/>
<text font-size="8.6" fill="#222" stroke="#222" stroke-width="0.08" font-weight="normal" transform="translate(116.83,269.2) rotate(-90)">D102R</text>
<line x1="131.12" y1="271" x2="131.12" y2="276.5" stroke="#666" stroke-width="0.6"/>
<text font-size="8.6" fill="#222" stroke="#222" stroke-width="0.08" font-weight="normal" transform="translate(134.22,269.2) rotate(-90)">T141A</text>
<line x1="148.50" y1="271" x2="148.50" y2="276.5" stroke="#666" stroke-width="0.6"/>
<text font-size="8.6" fill="#222" stroke="#222" stroke-width="0.08" font-weight="normal" transform="translate(151.60,269.2) rotate(-90)">K104A</text>
<line x1="165.89" y1="271" x2="165.89" y2="276.5" stroke="#666" stroke-width="0.6"/>
<text font-size="8.6" fill="#222" stroke="#222" stroke-width="0.08" font-weight="normal" transform="translate(168.99,269.2) rotate(-90)">K104E</text>
<line x1="183.27" y1="271" x2="183.27" y2="276.5" stroke="#666" stroke-width="0.6"/>
<text font-size="8.6" fill="#222" stroke="#222" stroke-width="0.08" font-weight="normal" transform="translate(186.37,269.2) rotate(-90)">A79S</text>
<line x1="200.66" y1="271" x2="200.66" y2="276.5" stroke="#666" stroke-width="0.6"/>
<text font-size="8.6" fill="#222" stroke="#222" stroke-width="0.08" font-weight="normal" transform="translate(203.76,269.2) rotate(-90)">D102A</text>
<line x1="218.04" y1="271" x2="218.04" y2="276.5" stroke="#666" stroke-width="0.6"/>
<rect x="209.44" y="254.5" width="17.2" height="19" rx="2.5" fill="#dadada" stroke="#555" stroke-width="0.9"/>
<text font-size="8.6" fill="#222" stroke="#222" stroke-width="0.08" font-weight="bold" transform="translate(221.14,270.5) rotate(-90)">WT</text>
<line x1="235.43" y1="271" x2="235.43" y2="276.5" stroke="#666" stroke-width="0.6"/>
<text font-size="8.6" fill="#222" stroke="#222" stroke-width="0.08" font-weight="normal" transform="translate(238.53,269.2) rotate(-90)">L143A</text>
<line x1="252.81" y1="271" x2="252.81" y2="276.5" stroke="#666" stroke-width="0.6"/>
<text font-size="8.6" fill="#222" stroke="#222" stroke-width="0.08" font-weight="normal" transform="translate(255.91,269.2) rotate(-90)">T105A</text>
<line x1="270.20" y1="271" x2="270.20" y2="276.5" stroke="#666" stroke-width="0.6"/>
<text font-size="8.6" fill="#222" stroke="#222" stroke-width="0.08" font-weight="normal" transform="translate(273.30,269.2) rotate(-90)">V144A</text>
<line x1="287.58" y1="271" x2="287.58" y2="276.5" stroke="#666" stroke-width="0.6"/>
<text font-size="8.6" fill="#222" stroke="#222" stroke-width="0.08" font-weight="normal" transform="translate(290.68,269.2) rotate(-90)">L73A</text>
<line x1="304.97" y1="271" x2="304.97" y2="276.5" stroke="#666" stroke-width="0.6"/>
<text font-size="8.6" fill="#222" stroke="#222" stroke-width="0.08" font-weight="normal" transform="translate(308.07,269.2) rotate(-90)">D107R</text>
<line x1="322.35" y1="271" x2="322.35" y2="276.5" stroke="#666" stroke-width="0.6"/>
<text font-size="8.6" fill="#222" stroke="#222" stroke-width="0.08" font-weight="normal" transform="translate(325.45,269.2) rotate(-90)">Y62A</text>
<line x1="339.74" y1="271" x2="339.74" y2="276.5" stroke="#666" stroke-width="0.6"/>
<text font-size="8.6" fill="#222" stroke="#222" stroke-width="0.08" font-weight="normal" transform="translate(342.84,269.2) rotate(-90)">R150E</text>
<line x1="357.12" y1="271" x2="357.12" y2="276.5" stroke="#666" stroke-width="0.6"/>
<text font-size="8.6" fill="#222" stroke="#222" stroke-width="0.08" font-weight="normal" transform="translate(360.22,269.2) rotate(-90)">V60A</text>
<line x1="374.51" y1="271" x2="374.51" y2="276.5" stroke="#666" stroke-width="0.6"/>
<text font-size="8.6" fill="#222" stroke="#222" stroke-width="0.08" font-weight="normal" transform="translate(377.61,269.2) rotate(-90)">S76A</text>
<line x1="391.89" y1="271" x2="391.89" y2="276.5" stroke="#666" stroke-width="0.6"/>
<text font-size="8.6" fill="#222" stroke="#222" stroke-width="0.08" font-weight="normal" transform="translate(394.99,269.2) rotate(-90)">D85A</text>
<line x1="409.28" y1="271" x2="409.28" y2="276.5" stroke="#666" stroke-width="0.6"/>
<text font-size="8.6" fill="#222" stroke="#222" stroke-width="0.08" font-weight="normal" transform="translate(412.38,269.2) rotate(-90)">V86A</text>
<line x1="426.66" y1="271" x2="426.66" y2="276.5" stroke="#666" stroke-width="0.6"/>
<text font-size="8.6" fill="#222" stroke="#222" stroke-width="0.08" font-weight="normal" transform="translate(429.76,269.2) rotate(-90)">A78R</text>
<line x1="444.05" y1="271" x2="444.05" y2="276.5" stroke="#666" stroke-width="0.6"/>
<text font-size="8.6" fill="#222" stroke="#222" stroke-width="0.08" font-weight="normal" transform="translate(447.15,269.2) rotate(-90)">G75R</text>
<line x1="461.43" y1="271" x2="461.43" y2="276.5" stroke="#666" stroke-width="0.6"/>
<rect x="453.13" y="247.2" width="16.6" height="26.3" rx="2.5" fill="#ddd5fa" stroke="#8a5cf5" stroke-width="1"/>
<text font-size="8.6" fill="#222" stroke="#222" stroke-width="0.08" font-weight="bold" transform="translate(464.53,270.5) rotate(-90)">F83A</text>
<line x1="478.82" y1="271" x2="478.82" y2="276.5" stroke="#666" stroke-width="0.6"/>
<rect x="470.52" y="247.2" width="16.6" height="26.3" rx="2.5" fill="#ddd5fa" stroke="#8a5cf5" stroke-width="1"/>
<text font-size="8.6" fill="#222" stroke="#222" stroke-width="0.08" font-weight="bold" transform="translate(481.92,270.5) rotate(-90)">D85R</text>
<line x1="496.20" y1="271" x2="496.20" y2="276.5" stroke="#666" stroke-width="0.6"/>
<text font-size="8.6" fill="#222" stroke="#222" stroke-width="0.08" font-weight="normal" transform="translate(499.30,269.2) rotate(-90)">L152A</text>
<line x1="513.59" y1="271" x2="513.59" y2="276.5" stroke="#666" stroke-width="0.6"/>
<text font-size="8.6" fill="#222" stroke="#222" stroke-width="0.08" font-weight="normal" transform="translate(516.69,269.2) rotate(-90)">D80A</text>
<line x1="530.97" y1="271" x2="530.97" y2="276.5" stroke="#666" stroke-width="0.6"/>
<text font-size="8.6" fill="#222" stroke="#222" stroke-width="0.08" font-weight="normal" transform="translate(534.07,269.2) rotate(-90)">G82R</text>
<line x1="548.36" y1="271" x2="548.36" y2="276.5" stroke="#666" stroke-width="0.6"/>
<text font-size="8.6" fill="#222" stroke="#222" stroke-width="0.08" font-weight="normal" transform="translate(551.46,269.2) rotate(-90)">L77A</text>
<line x1="565.74" y1="271" x2="565.74" y2="276.5" stroke="#666" stroke-width="0.6"/>
<text font-size="8.6" fill="#222" stroke="#222" stroke-width="0.08" font-weight="normal" transform="translate(568.84,269.2) rotate(-90)">I140A</text>
<line x1="583.13" y1="271" x2="583.13" y2="276.5" stroke="#666" stroke-width="0.6"/>
<text font-size="8.6" fill="#222" stroke="#222" stroke-width="0.08" font-weight="normal" transform="translate(586.23,269.2) rotate(-90)">Y90A</text>
<line x1="600.51" y1="271" x2="600.51" y2="276.5" stroke="#666" stroke-width="0.6"/>
<text font-size="8.6" fill="#222" stroke="#222" stroke-width="0.08" font-weight="normal" transform="translate(603.61,269.2) rotate(-90)">Y81A</text>
<line x1="617.90" y1="271" x2="617.90" y2="276.5" stroke="#666" stroke-width="0.6"/>
<text font-size="8.6" fill="#222" stroke="#222" stroke-width="0.08" font-weight="normal" transform="translate(621.00,269.2) rotate(-90)">P84A</text>
<path d="M17,279 L29.9,279 L29.9,401.6 Z" fill="#231f20"/>
<text font-size="8.4" fill="#222" text-anchor="middle" transform="translate(16.0,343.3) rotate(-90)">[sEC1-2]</text>
<defs><linearGradient id="cb" x1="0" y1="0" x2="0" y2="1"><stop offset="0.000" stop-color="#2462be"/><stop offset="0.100" stop-color="#4c7cc4"/><stop offset="0.200" stop-color="#6c8cc4"/><stop offset="0.300" stop-color="#96acd0"/><stop offset="0.400" stop-color="#c2c8dc"/><stop offset="0.450" stop-color="#e0e0e9"/><stop offset="0.500" stop-color="#f7f2f2"/><stop offset="0.600" stop-color="#e6c8c8"/><stop offset="0.700" stop-color="#d49696"/><stop offset="0.800" stop-color="#c56e6e"/><stop offset="0.900" stop-color="#b44848"/><stop offset="1.000" stop-color="#a83436"/></linearGradient></defs>
<rect x="643.5" y="306.7" width="21" height="76.2" fill="url(#cb)"/>
<text x="638.30" y="289.20" font-size="8.5" fill="#3d85c8" stroke="#3d85c8" stroke-width="0.05" text-anchor="start" font-weight="normal" >high (100%)</text>
<text x="638.30" y="299.10" font-size="8.5" fill="#3d85c8" stroke="#3d85c8" stroke-width="0.05" text-anchor="start" font-weight="normal" >inhibition</text>
<text x="638.00" y="398.80" font-size="8.5" fill="#c53a4e" stroke="#c53a4e" stroke-width="0.05" text-anchor="start" font-weight="normal" >no (0%)</text>
<text x="638.00" y="408.90" font-size="8.5" fill="#c53a4e" stroke="#c53a4e" stroke-width="0.05" text-anchor="start" font-weight="normal" >inhibition</text>
<rect x="35.50" y="402.90" width="243.39" height="35.90" fill="#b2e4b9"/>
<rect x="278.89" y="402.90" width="156.47" height="35.90" fill="#facbb0"/>
<rect x="435.36" y="402.90" width="191.24" height="35.90" fill="#c9b8e8"/>
<line x1="35.50" y1="439" x2="626.59" y2="439" stroke="#777" stroke-width="1.2" stroke-dasharray="4.6,4.1"/>
<path d="M61.58,402.90 V407.50 H78.96 V402.90" fill="none" stroke="#2b5a2e" stroke-width="1"/>
<path d="M44.19,402.90 V416.30 H70.27 V407.50" fill="none" stroke="#2b5a2e" stroke-width="1"/>
<path d="M113.73,402.90 V405.20 H131.12 V402.90" fill="none" stroke="#2b5a2e" stroke-width="1"/>
<path d="M96.35,402.90 V407.90 H122.43 V405.20" fill="none" stroke="#2b5a2e" stroke-width="1"/>
<path d="M148.50,402.90 V404.10 H165.89 V402.90" fill="none" stroke="#2b5a2e" stroke-width="1"/>
<path d="M183.27,402.90 V407.20 H200.66 V402.90" fill="none" stroke="#2b5a2e" stroke-width="1"/>
<path d="M157.19,404.10 V409.20 H191.97 V407.20" fill="none" stroke="#2b5a2e" stroke-width="1"/>
<path d="M252.81,402.90 V407.20 H270.20 V402.90" fill="none" stroke="#2b5a2e" stroke-width="1"/>
<path d="M235.43,402.90 V408.50 H261.50 V407.20" fill="none" stroke="#2b5a2e" stroke-width="1"/>
<path d="M218.04,402.90 V412.20 H248.47 V408.50" fill="none" stroke="#2b5a2e" stroke-width="1"/>
<path d="M174.58,409.20 V412.40 H233.25 V412.20" fill="none" stroke="#2b5a2e" stroke-width="1"/>
<path d="M109.39,407.90 V417.30 H203.92 V412.40" fill="none" stroke="#2b5a2e" stroke-width="1"/>
<path d="M57.23,416.30 V433.30 H156.65 V417.30" fill="none" stroke="#2b5a2e" stroke-width="1"/>
<path d="M287.58,402.90 V410.90 H304.97 V402.90" fill="none" stroke="#6b3a22" stroke-width="1"/>
<path d="M322.35,402.90 V409.20 H339.74 V402.90" fill="none" stroke="#6b3a22" stroke-width="1"/>
<path d="M296.27,410.90 V413.40 H331.05 V409.20" fill="none" stroke="#6b3a22" stroke-width="1"/>
<path d="M313.66,413.40 V421.10 H357.12 V402.90" fill="none" stroke="#6b3a22" stroke-width="1"/>
<path d="M374.51,402.90 V408.40 H391.89 V402.90" fill="none" stroke="#6b3a22" stroke-width="1"/>
<path d="M409.28,402.90 V406.20 H426.66 V402.90" fill="none" stroke="#6b3a22" stroke-width="1"/>
<path d="M383.20,408.40 V412.10 H417.97 V406.20" fill="none" stroke="#6b3a22" stroke-width="1"/>
<path d="M335.39,421.10 V424.00 H400.59 V412.10" fill="none" stroke="#6b3a22" stroke-width="1"/>
<path d="M444.05,402.90 V405.10 H461.43 V402.90" fill="none" stroke="#3f2f6e" stroke-width="1"/>
<path d="M452.74,405.10 V414.60 H478.82 V402.90" fill="none" stroke="#3f2f6e" stroke-width="1"/>
<path d="M496.20,402.90 V404.70 H513.59 V402.90" fill="none" stroke="#3f2f6e" stroke-width="1"/>
<path d="M504.90,404.70 V406.40 H530.97 V402.90" fill="none" stroke="#3f2f6e" stroke-width="1"/>
<path d="M517.93,406.40 V410.50 H548.36 V402.90" fill="none" stroke="#3f2f6e" stroke-width="1"/>
<path d="M533.15,410.50 V411.40 H565.74 V402.90" fill="none" stroke="#3f2f6e" stroke-width="1"/>
<path d="M465.78,414.60 V417.40 H549.44 V411.40" fill="none" stroke="#3f2f6e" stroke-width="1"/>
<path d="M583.13,402.90 V408.80 H600.51 V402.90" fill="none" stroke="#3f2f6e" stroke-width="1"/>
<path d="M591.82,408.80 V413.40 H617.90 V402.90" fill="none" stroke="#3f2f6e" stroke-width="1"/>
<path d="M507.61,417.40 V424.10 H604.86 V413.40" fill="none" stroke="#3f2f6e" stroke-width="1"/>
<path d="M367.99,424.00 V454.40 H556.24 V424.10" fill="none" stroke="#3a3a3a" stroke-width="1"/>
<path d="M106.94,433.30 V483.50 H462.11 V454.40" fill="none" stroke="#3a3a3a" stroke-width="1"/>
<text x="37.60" y="460.80" font-size="12.6" fill="#1e9e50" stroke="#1e9e50" stroke-width="0.1" text-anchor="start" font-weight="normal" >WT-like</text>
<text x="37.60" y="476.30" font-size="12.6" fill="#1e9e50" stroke="#1e9e50" stroke-width="0.1" text-anchor="start" font-weight="normal" >binders</text>
<text x="0.00" y="0.00" font-size="" fill="#222" stroke="#222" stroke-width="0.1" text-anchor="start" font-weight="normal" ></text>
<text x="282.30" y="460.80" font-size="12.6" fill="#f58b4a" stroke="#f58b4a" stroke-width="0.1" text-anchor="start" font-weight="normal" >Intermediate</text>
<text x="282.30" y="476.30" font-size="12.6" fill="#f58b4a" stroke="#f58b4a" stroke-width="0.1" text-anchor="start" font-weight="normal" >binders</text>
<text x="563.00" y="460.80" font-size="12.6" fill="#9a5cf0" stroke="#9a5cf0" stroke-width="0.1" text-anchor="start" font-weight="normal" >Poor</text>
<text x="563.00" y="476.30" font-size="12.6" fill="#9a5cf0" stroke="#9a5cf0" stroke-width="0.1" text-anchor="start" font-weight="normal" >binders</text>
<text x="0.30" y="529.50" font-size="14.5" fill="#000" text-anchor="start" font-weight="bold" >c</text>
<line x1="68.5" y1="529.10" x2="68.5" y2="708.40" stroke="#a8a8a8" stroke-width="0.8"/>
<line x1="66.5" y1="708.40" x2="68.5" y2="708.40" stroke="#a8a8a8" stroke-width="0.7"/>
<text x="65.30" y="711.40" font-size="8.5" fill="#222" stroke="#222" stroke-width="0.1" text-anchor="end" font-weight="normal" >100</text>
<line x1="67.3" y1="685.99" x2="68.5" y2="685.99" stroke="#a8a8a8" stroke-width="0.7"/>
<line x1="66.5" y1="663.57" x2="68.5" y2="663.57" stroke="#a8a8a8" stroke-width="0.7"/>
<text x="65.30" y="666.57" font-size="8.5" fill="#222" stroke="#222" stroke-width="0.1" text-anchor="end" font-weight="normal" >150</text>
<line x1="67.3" y1="641.16" x2="68.5" y2="641.16" stroke="#a8a8a8" stroke-width="0.7"/>
<line x1="66.5" y1="618.75" x2="68.5" y2="618.75" stroke="#a8a8a8" stroke-width="0.7"/>
<text x="65.30" y="621.75" font-size="8.5" fill="#222" stroke="#222" stroke-width="0.1" text-anchor="end" font-weight="normal" >200</text>
<line x1="67.3" y1="596.34" x2="68.5" y2="596.34" stroke="#a8a8a8" stroke-width="0.7"/>
<line x1="66.5" y1="573.92" x2="68.5" y2="573.92" stroke="#a8a8a8" stroke-width="0.7"/>
<text x="65.30" y="576.92" font-size="8.5" fill="#222" stroke="#222" stroke-width="0.1" text-anchor="end" font-weight="normal" >250</text>
<line x1="67.3" y1="551.51" x2="68.5" y2="551.51" stroke="#a8a8a8" stroke-width="0.7"/>
<line x1="66.5" y1="529.10" x2="68.5" y2="529.10" stroke="#a8a8a8" stroke-width="0.7"/>
<text x="65.30" y="532.10" font-size="8.5" fill="#222" stroke="#222" stroke-width="0.1" text-anchor="end" font-weight="normal" >300</text>
<line x1="78.60" y1="719.0" x2="258.70" y2="719.0" stroke="#a8a8a8" stroke-width="0.8"/>
<line x1="78.60" y1="719.0" x2="78.60" y2="721.0" stroke="#a8a8a8" stroke-width="0.7"/>
<text x="78.60" y="731.60" font-size="8.5" fill="#222" stroke="#222" stroke-width="0.1" text-anchor="middle" font-weight="normal" >100</text>
<line x1="101.11" y1="719.0" x2="101.11" y2="720.2" stroke="#a8a8a8" stroke-width="0.7"/>
<line x1="123.62" y1="719.0" x2="123.62" y2="721.0" stroke="#a8a8a8" stroke-width="0.7"/>
<text x="123.62" y="731.60" font-size="8.5" fill="#222" stroke="#222" stroke-width="0.1" text-anchor="middle" font-weight="normal" >150</text>
<line x1="146.14" y1="719.0" x2="146.14" y2="720.2" stroke="#a8a8a8" stroke-width="0.7"/>
<line x1="168.65" y1="719.0" x2="168.65" y2="721.0" stroke="#a8a8a8" stroke-width="0.7"/>
<text x="168.65" y="731.60" font-size="8.5" fill="#222" stroke="#222" stroke-width="0.1" text-anchor="middle" font-weight="normal" >200</text>
<line x1="191.16" y1="719.0" x2="191.16" y2="720.2" stroke="#a8a8a8" stroke-width="0.7"/>
<line x1="213.67" y1="719.0" x2="213.67" y2="721.0" stroke="#a8a8a8" stroke-width="0.7"/>
<text x="213.67" y="731.60" font-size="8.5" fill="#222" stroke="#222" stroke-width="0.1" text-anchor="middle" font-weight="normal" >250</text>
<line x1="236.19" y1="719.0" x2="236.19" y2="720.2" stroke="#a8a8a8" stroke-width="0.7"/>
<line x1="258.70" y1="719.0" x2="258.70" y2="721.0" stroke="#a8a8a8" stroke-width="0.7"/>
<text x="258.70" y="731.60" font-size="8.5" fill="#222" stroke="#222" stroke-width="0.1" text-anchor="middle" font-weight="normal" >300</text>
<text x="169.30" y="749.00" font-size="10.1" fill="#222" stroke="#222" stroke-width="0.1" text-anchor="middle" font-weight="normal" >Competition ELISA (AUC)</text>
<text font-size="10.1" fill="#222" text-anchor="middle" transform="translate(40.9,621.5) rotate(-90)">Infection Inhibition (AUC)</text>
<clipPath id="bandclip"><path d="M60,708.1 L60,600 L200,571.2 L236.5,571.2 L236.5,708.1 Z"/></clipPath>
<polygon points="66.71,727.00 70.05,724.16 73.38,721.33 76.70,718.50 80.01,715.66 83.31,712.83 86.61,709.99 89.89,707.15 93.17,704.32 96.43,701.49 99.69,698.65 102.94,695.82 106.17,692.98 109.40,690.14 112.62,687.31 115.83,684.48 119.03,681.64 122.22,678.81 125.41,675.97 128.58,673.13 131.74,670.30 134.90,667.47 138.04,664.63 141.18,661.80 144.30,658.96 147.42,656.12 150.53,653.29 153.63,650.46 156.72,647.62 159.80,644.79 162.87,641.95 165.93,639.12 168.98,636.28 172.02,633.45 175.06,630.61 178.08,627.78 181.09,624.94 184.10,622.11 187.10,619.27 190.08,616.44 193.06,613.60 196.03,610.77 198.99,607.93 201.94,605.10 204.88,602.26 207.81,599.43 210.73,596.59 213.64,593.75 216.55,590.92 219.44,588.09 222.33,585.25 225.20,582.42 228.07,579.58 230.93,576.75 233.77,573.91 236.61,571.08 239.44,568.24 242.26,565.40 245.07,562.57 247.87,559.74 250.66,556.90 266.74,556.90 263.53,559.74 260.33,562.57 257.14,565.40 253.96,568.24 250.79,571.08 247.63,573.91 244.47,576.75 241.33,579.58 238.20,582.42 235.07,585.25 231.96,588.09 228.85,590.92 225.76,593.75 222.67,596.59 219.59,599.43 216.52,602.26 213.46,605.10 210.41,607.93 207.37,610.77 204.34,613.60 201.32,616.44 198.30,619.27 195.30,622.11 192.31,624.94 189.32,627.78 186.34,630.61 183.38,633.45 180.42,636.28 177.47,639.12 174.53,641.95 171.60,644.79 168.68,647.62 165.77,650.46 162.87,653.29 159.98,656.12 157.10,658.96 154.22,661.80 151.36,664.63 148.50,667.47 145.66,670.30 142.82,673.13 139.99,675.97 137.18,678.81 134.37,681.64 131.57,684.48 128.78,687.31 126.00,690.14 123.23,692.98 120.46,695.82 117.71,698.65 114.97,701.49 112.23,704.32 109.51,707.15 106.79,709.99 104.09,712.83 101.39,715.66 98.70,718.50 96.02,721.33 93.35,724.16 90.69,727.00" fill="#fcbcbc" clip-path="url(#bandclip)"/>
<line x1="98.7" y1="708.1" x2="230.8" y2="583.27" stroke="#9a1a14" stroke-width="1.1"/>
<line x1="77.70" y1="709.30" x2="260.50" y2="527.31" stroke="#111" stroke-width="1.2" stroke-dasharray="3.6,2.6"/>
<text x="116.7" y="709.2" font-size="8.6" fill="#a0303c">R<tspan font-size="5" dy="-3.2">2</tspan><tspan dy="3.2"> = 0.89</tspan></text>
<circle cx="183.7" cy="619.3" r="3.4" fill="#ff8c1a"/>
<circle cx="160.7" cy="632.2" r="3.4" fill="#ff8c1a"/>
<circle cx="166" cy="636.6" r="3.4" fill="#ff8c1a"/>
<circle cx="165.1" cy="642.3" r="3.4" fill="#ff8c1a"/>
<circle cx="186.6" cy="637.2" r="3.4" fill="#ff8c1a"/>
<circle cx="176.9" cy="644.2" r="3.4" fill="#ff8c1a"/>
<circle cx="154.6" cy="650.4" r="3.4" fill="#ff8c1a"/>
<circle cx="218.2" cy="625.5" r="3.4" fill="#ff8c1a"/>
<circle cx="129.6" cy="645.8" r="3.4" fill="#14b446"/>
<circle cx="123.3" cy="672.9" r="3.4" fill="#14b446"/>
<circle cx="127.1" cy="678" r="3.4" fill="#14b446"/>
<circle cx="125.5" cy="682.3" r="3.4" fill="#14b446"/>
<circle cx="126.1" cy="685.7" r="3.4" fill="#14b446"/>
<circle cx="117.9" cy="686.2" r="3.4" fill="#14b446"/>
<circle cx="112.3" cy="687.7" r="3.4" fill="#14b446"/>
<circle cx="120.2" cy="689.8" r="3.4" fill="#14b446"/>
<circle cx="129.6" cy="693.4" r="3.4" fill="#14b446"/>
<circle cx="150.6" cy="665.3" r="3.4" fill="#14b446"/>
<circle cx="155.7" cy="668.6" r="3.4" fill="#14b446"/>
<circle cx="162.5" cy="674.5" r="3.4" fill="#14b446"/>
<circle cx="157.5" cy="652" r="3.4" fill="#14b446"/>
<circle cx="196.1" cy="586.4" r="3.4" fill="#9650f0"/>
<circle cx="210.7" cy="576.8" r="3.4" fill="#9650f0"/>
<circle cx="224.7" cy="571.5" r="3.4" fill="#9650f0"/>
<circle cx="225.2" cy="580.6" r="3.4" fill="#9650f0"/>
<circle cx="233.1" cy="581.5" r="3.4" fill="#9650f0"/>
<circle cx="225.2" cy="585.5" r="3.4" fill="#9650f0"/>
<circle cx="229.6" cy="587" r="3.4" fill="#9650f0"/>
<circle cx="212.8" cy="594.7" r="3.4" fill="#9650f0"/>
<circle cx="210.1" cy="600.4" r="3.4" fill="#9650f0"/>
<circle cx="213.6" cy="603.4" r="3.4" fill="#9650f0"/>
<circle cx="220.3" cy="608" r="3.4" fill="#9650f0"/>
<path d="M123.39999999999999,693.2 L126.8,689.8000000000001 L130.2,693.2 L126.8,696.6 Z" fill="#1a1a1a"/>
<text x="80.60" y="542.00" font-size="8.6" fill="#222" stroke="#222" stroke-width="0.1" text-anchor="start" font-weight="normal" >Mutational effect:</text>
<circle cx="84.3" cy="550.80" r="3.0" fill="#14b446"/>
<text x="90.90" y="553.80" font-size="8.6" fill="#222" stroke="#222" stroke-width="0.1" text-anchor="start" font-weight="normal" >WT-like binders</text>
<circle cx="84.3" cy="561.73" r="3.0" fill="#ff8c1a"/>
<text x="90.90" y="564.73" font-size="8.6" fill="#222" stroke="#222" stroke-width="0.1" text-anchor="start" font-weight="normal" >Intermediate binders</text>
<circle cx="84.3" cy="572.66" r="3.0" fill="#9650f0"/>
<text x="90.90" y="575.66" font-size="8.6" fill="#222" stroke="#222" stroke-width="0.1" text-anchor="start" font-weight="normal" letter-spacing="-0.35">Poor binders</text>
<path d="M81.1,583.5899999999999 L84.3,580.3899999999999 L87.5,583.5899999999999 L84.3,586.79 Z" fill="#333"/>
<text x="90.90" y="586.59" font-size="8.6" fill="#222" stroke="#222" stroke-width="0.1" text-anchor="start" font-weight="normal" >WT</text>
<circle cx="215.6" cy="587.5" r="29.5" fill="none" stroke="#9650f0" stroke-width="1"/>
<line x1="242.2" y1="571.5" x2="254.5" y2="584.7" stroke="#9650f0" stroke-width="0.8"/>
<line x1="237.8" y1="608.3" x2="253.6" y2="601.3" stroke="#9650f0" stroke-width="0.8"/>
<text x="262.70" y="582.90" font-size="8.5" fill="#9650f0" stroke="#9650f0" stroke-width="0.1" text-anchor="start" font-weight="normal" >G75R</text>
<text x="262.70" y="593.98" font-size="8.5" fill="#9650f0" stroke="#9650f0" stroke-width="0.1" text-anchor="start" font-weight="normal" >L77A</text>
<text x="262.70" y="605.06" font-size="8.5" fill="#9650f0" stroke="#9650f0" stroke-width="0.1" text-anchor="start" font-weight="normal" >D80A</text>
<text x="262.70" y="616.14" font-size="8.5" fill="#9650f0" stroke="#9650f0" stroke-width="0.1" text-anchor="start" font-weight="normal" >Y81A</text>
<text x="262.70" y="627.22" font-size="8.5" fill="#9650f0" stroke="#9650f0" stroke-width="0.1" text-anchor="start" font-weight="normal" >G82R</text>
<text x="262.70" y="638.30" font-size="8.5" fill="#9650f0" stroke="#9650f0" stroke-width="0.1" text-anchor="start" font-weight="normal" >F83A</text>
<text x="262.70" y="649.38" font-size="8.5" fill="#9650f0" stroke="#9650f0" stroke-width="0.1" text-anchor="start" font-weight="normal" >P84A</text>
<text x="262.70" y="660.46" font-size="8.5" fill="#9650f0" stroke="#9650f0" stroke-width="0.1" text-anchor="start" font-weight="normal" >D85R</text>
<text x="262.70" y="671.54" font-size="8.5" fill="#9650f0" stroke="#9650f0" stroke-width="0.1" text-anchor="start" font-weight="normal" >Y90A</text>
<text x="262.70" y="682.62" font-size="8.5" fill="#9650f0" stroke="#9650f0" stroke-width="0.1" text-anchor="start" font-weight="normal" >I140A</text>
<text x="262.70" y="693.70" font-size="8.5" fill="#9650f0" stroke="#9650f0" stroke-width="0.1" text-anchor="start" font-weight="normal" >L152A</text>
<text x="309.60" y="529.20" font-size="14.5" fill="#000" text-anchor="start" font-weight="bold" >d</text>
<defs><radialGradient id="hg" cx="0.5" cy="0.5" r="0.5"><stop offset="0" stop-color="#fff"/><stop offset="0.6" stop-color="#d0d0d0"/><stop offset="1" stop-color="#909090"/></radialGradient><filter id="lit_gray" x="-10%" y="-10%" width="120%" height="120%" color-interpolation-filters="sRGB"><feColorMatrix in="SourceGraphic" type="matrix" values="0 0 0 0 0  0 0 0 0 0  0 0 0 0 0  0.33 0.33 0.33 0 0" result="h"/><feGaussianBlur in="h" stdDeviation="2.4" result="hb"/><feDiffuseLighting in="hb" surfaceScale="4" diffuseConstant="1" lighting-color="#fff" result="d"><feDistantLight azimuth="225" elevation="55"/></feDiffuseLighting><feSpecularLighting in="hb" surfaceScale="4" specularConstant="0.55" specularExponent="45" lighting-color="#fff" result="s"><feDistantLight azimuth="225" elevation="42"/></feSpecularLighting><feFlood flood-color="#d0d0d0" result="c"/><feComposite in="c" in2="d" operator="arithmetic" k1="0.75" k2="0.3" k3="0" k4="0" result="cd"/><feComposite in="cd" in2="s" operator="arithmetic" k1="0" k2="1" k3="0.8" k4="0" result="o"/><feComposite in="o" in2="SourceAlpha" operator="in"/></filter><filter id="lit_green" x="-10%" y="-10%" width="120%" height="120%" color-interpolation-filters="sRGB"><feColorMatrix in="SourceGraphic" type="matrix" values="0 0 0 0 0  0 0 0 0 0  0 0 0 0 0  0.33 0.33 0.33 0 0" result="h"/><feGaussianBlur in="h" stdDeviation="2.4" result="hb"/><feDiffuseLighting in="hb" surfaceScale="4" diffuseConstant="1" lighting-color="#fff" result="d"><feDistantLight azimuth="225" elevation="55"/></feDiffuseLighting><feSpecularLighting in="hb" surfaceScale="4" specularConstant="0.55" specularExponent="45" lighting-color="#fff" result="s"><feDistantLight azimuth="225" elevation="42"/></feSpecularLighting><feFlood flood-color="#a6da9c" result="c"/><feComposite in="c" in2="d" operator="arithmetic" k1="0.75" k2="0.3" k3="0" k4="0" result="cd"/><feComposite in="cd" in2="s" operator="arithmetic" k1="0" k2="1" k3="0.8" k4="0" result="o"/><feComposite in="o" in2="SourceAlpha" operator="in"/></filter><filter id="lit_purple" x="-10%" y="-10%" width="120%" height="120%" color-interpolation-filters="sRGB"><feColorMatrix in="SourceGraphic" type="matrix" values="0 0 0 0 0  0 0 0 0 0  0 0 0 0 0  0.33 0.33 0.33 0 0" result="h"/><feGaussianBlur in="h" stdDeviation="2.4" result="hb"/><feDiffuseLighting in="hb" surfaceScale="4" diffuseConstant="1" lighting-color="#fff" result="d"><feDistantLight azimuth="225" elevation="55"/></feDiffuseLighting><feSpecularLighting in="hb" surfaceScale="4" specularConstant="0.55" specularExponent="45" lighting-color="#fff" result="s"><feDistantLight azimuth="225" elevation="42"/></feSpecularLighting><feFlood flood-color="#ba7efc" result="c"/><feComposite in="c" in2="d" operator="arithmetic" k1="0.75" k2="0.3" k3="0" k4="0" result="cd"/><feComposite in="cd" in2="s" operator="arithmetic" k1="0" k2="1" k3="0.8" k4="0" result="o"/><feComposite in="o" in2="SourceAlpha" operator="in"/></filter><filter id="lit_orange" x="-10%" y="-10%" width="120%" height="120%" color-interpolation-filters="sRGB"><feColorMatrix in="SourceGraphic" type="matrix" values="0 0 0 0 0  0 0 0 0 0  0 0 0 0 0  0.33 0.33 0.33 0 0" result="h"/><feGaussianBlur in="h" stdDeviation="2.4" result="hb"/><feDiffuseLighting in="hb" surfaceScale="4" diffuseConstant="1" lighting-color="#fff" result="d"><feDistantLight azimuth="225" elevation="55"/></feDiffuseLighting><feSpecularLighting in="hb" surfaceScale="4" specularConstant="0.55" specularExponent="45" lighting-color="#fff" result="s"><feDistantLight azimuth="225" elevation="42"/></feSpecularLighting><feFlood flood-color="#ffb868" result="c"/><feComposite in="c" in2="d" operator="arithmetic" k1="0.75" k2="0.3" k3="0" k4="0" result="cd"/><feComposite in="cd" in2="s" operator="arithmetic" k1="0" k2="1" k3="0.8" k4="0" result="o"/><feComposite in="o" in2="SourceAlpha" operator="in"/></filter><filter id="dotblur" x="-5%" y="-5%" width="110%" height="110%"><feGaussianBlur stdDeviation="0.45"/></filter><clipPath id="protclip"><rect x="300" y="500" width="385" height="223.2"/></clipPath></defs>
<g clip-path="url(#protclip)"><g filter="url(#lit_gray)"><path d="M369.9,540.3 C371.1,536.8 373.8,538.3 377.0,537.3 C380.2,536.3 385.2,534.7 389.3,534.2 C393.4,533.7 398.1,533.7 401.5,534.2 C404.9,534.7 407.5,535.8 409.7,537.3 C411.9,538.8 413.1,541.9 414.8,543.4 C416.5,544.9 417.7,546.2 419.9,546.5 C422.1,546.8 425.0,545.4 428.1,545.4 C431.2,545.4 434.9,545.8 438.3,546.5 C441.7,547.2 445.4,548.0 448.5,549.5 C451.6,551.0 454.3,553.7 456.7,555.7 C459.1,557.8 461.3,559.4 462.8,561.8 C464.3,564.2 465.4,566.9 465.9,570.0 C466.4,573.1 466.2,577.1 465.9,580.2 C465.6,583.3 465.1,586.2 463.9,588.4 C462.7,590.6 461.0,592.3 458.8,593.5 C456.6,594.7 453.5,595.2 450.6,595.5 C447.7,595.8 443.8,593.0 441.4,595.5 C439.0,598.0 436.8,607.6 436.3,610.8 C435.8,614.0 438.3,613.2 438.3,614.9 C438.3,616.6 437.7,619.7 436.3,621.1 C434.9,622.5 431.8,622.1 430.1,623.1 C428.4,624.1 426.9,625.5 426.0,627.2 C425.1,628.9 425.7,630.9 425.0,633.3 C424.3,635.7 422.9,637.8 422.0,641.5 C421.1,645.2 419.5,652.4 419.9,655.8 C420.2,659.2 422.4,659.1 424.1,662.1 C425.8,665.1 429.4,669.4 429.9,673.8 C430.4,678.2 428.2,684.0 427.0,688.4 C425.8,692.8 423.6,695.7 422.6,700.1 C421.6,704.5 421.1,711.1 421.1,714.7 C421.1,718.4 435.8,720.8 422.6,722.0 C409.5,723.2 355.9,723.7 342.2,722.0 C328.5,720.3 340.5,715.9 340.7,711.8 C340.9,707.7 344.1,701.6 343.6,697.2 C343.1,692.8 340.2,690.1 337.8,685.5 C335.4,680.9 331.4,674.3 329.0,669.4 C326.6,664.5 324.3,660.4 323.2,656.2 C322.1,652.1 321.6,647.4 322.3,644.5 C323.0,641.6 325.2,640.4 327.5,638.7 C329.8,637.0 334.1,636.5 336.3,634.3 C338.5,632.1 339.5,629.1 340.7,625.5 C341.9,621.9 342.4,616.6 343.6,612.4 C344.8,608.1 346.1,604.1 348.0,600.0 C349.9,595.9 352.7,591.7 355.0,588.0 C357.3,584.3 359.8,581.0 362.0,578.0 C364.2,575.0 366.7,573.3 368.0,570.0 C369.3,566.7 369.7,563.0 370.0,558.0 C370.3,553.0 368.7,543.8 369.9,540.3 Z" fill="#909090"/><circle cx="358.9" cy="627.2" r="9.2" fill="url(#hg)"/><circle cx="415.9" cy="682.3" r="7.5" fill="url(#hg)"/><circle cx="400.0" cy="710.6" r="8.9" fill="url(#hg)"/><circle cx="353.4" cy="613.5" r="7.1" fill="url(#hg)"/><circle cx="354.1" cy="616.4" r="9.5" fill="url(#hg)"/><circle cx="406.7" cy="699.9" r="11.2" fill="url(#hg)"/><circle cx="357.2" cy="684.0" r="9.1" fill="url(#hg)"/><circle cx="347.1" cy="637.3" r="10.5" fill="url(#hg)"/><circle cx="395.3" cy="680.4" r="9.6" fill="url(#hg)"/><circle cx="378.8" cy="626.2" r="7.1" fill="url(#hg)"/><circle cx="394.4" cy="718.6" r="10.9" fill="url(#hg)"/><circle cx="399.8" cy="695.8" r="8.2" fill="url(#hg)"/><circle cx="396.1" cy="713.1" r="9.9" fill="url(#hg)"/><circle cx="399.6" cy="651.3" r="10.1" fill="url(#hg)"/><circle cx="347.7" cy="644.0" r="11.3" fill="url(#hg)"/><circle cx="359.0" cy="692.3" r="10.4" fill="url(#hg)"/><circle cx="345.2" cy="633.2" r="7.8" fill="url(#hg)"/><circle cx="361.5" cy="667.8" r="9.3" fill="url(#hg)"/><circle cx="368.5" cy="623.2" r="7.1" fill="url(#hg)"/><circle cx="377.8" cy="613.2" r="7.9" fill="url(#hg)"/><circle cx="352.3" cy="647.9" r="11.1" fill="url(#hg)"/><circle cx="354.4" cy="656.0" r="9.0" fill="url(#hg)"/><circle cx="405.0" cy="594.5" r="10.2" fill="url(#hg)"/><circle cx="366.9" cy="710.6" r="10.7" fill="url(#hg)"/><circle cx="351.8" cy="660.8" r="9.2" fill="url(#hg)"/><circle cx="364.8" cy="628.1" r="8.6" fill="url(#hg)"/><circle cx="419.2" cy="691.5" r="11.7" fill="url(#hg)"/><circle cx="371.7" cy="699.9" r="10.4" fill="url(#hg)"/><circle cx="391.9" cy="719.3" r="8.2" fill="url(#hg)"/><circle cx="408.5" cy="692.2" r="8.8" fill="url(#hg)"/><circle cx="409.0" cy="713.4" r="11.4" fill="url(#hg)"/><circle cx="341.7" cy="637.7" r="7.5" fill="url(#hg)"/><circle cx="410.6" cy="681.0" r="8.9" fill="url(#hg)"/><circle cx="360.6" cy="701.5" r="9.8" fill="url(#hg)"/><circle cx="358.7" cy="623.8" r="7.5" fill="url(#hg)"/><circle cx="366.4" cy="580.5" r="7.4" fill="url(#hg)"/><circle cx="362.6" cy="718.9" r="9.2" fill="url(#hg)"/><circle cx="415.9" cy="655.0" r="11.7" fill="url(#hg)"/><circle cx="367.8" cy="693.3" r="11.5" fill="url(#hg)"/><circle cx="365.8" cy="597.0" r="9.7" fill="url(#hg)"/><circle cx="393.1" cy="696.2" r="7.8" fill="url(#hg)"/><circle cx="394.3" cy="683.5" r="7.4" fill="url(#hg)"/><circle cx="364.4" cy="702.0" r="7.7" fill="url(#hg)"/><circle cx="347.9" cy="615.4" r="7.8" fill="url(#hg)"/><circle cx="382.1" cy="641.4" r="7.3" fill="url(#hg)"/><circle cx="359.5" cy="689.9" r="9.0" fill="url(#hg)"/><circle cx="379.9" cy="649.2" r="8.2" fill="url(#hg)"/><circle cx="402.8" cy="704.5" r="11.6" fill="url(#hg)"/><circle cx="361.8" cy="655.6" r="7.2" fill="url(#hg)"/><circle cx="345.2" cy="678.1" r="11.4" fill="url(#hg)"/><circle cx="367.1" cy="664.3" r="11.2" fill="url(#hg)"/><circle cx="375.7" cy="665.9" r="10.7" fill="url(#hg)"/><circle cx="407.7" cy="695.0" r="11.5" fill="url(#hg)"/><circle cx="346.0" cy="671.3" r="7.2" fill="url(#hg)"/><circle cx="360.7" cy="705.6" r="11.8" fill="url(#hg)"/><circle cx="342.3" cy="679.9" r="11.2" fill="url(#hg)"/><circle cx="417.0" cy="665.7" r="9.2" fill="url(#hg)"/><circle cx="357.9" cy="675.0" r="7.0" fill="url(#hg)"/><circle cx="349.6" cy="616.6" r="7.1" fill="url(#hg)"/><circle cx="361.5" cy="644.2" r="8.3" fill="url(#hg)"/><circle cx="420.5" cy="682.8" r="11.0" fill="url(#hg)"/><circle cx="400.6" cy="715.4" r="10.8" fill="url(#hg)"/><circle cx="404.5" cy="592.7" r="9.5" fill="url(#hg)"/><circle cx="373.5" cy="633.4" r="7.0" fill="url(#hg)"/><circle cx="379.7" cy="681.3" r="10.4" fill="url(#hg)"/><circle cx="393.0" cy="655.8" r="8.9" fill="url(#hg)"/><circle cx="408.2" cy="699.8" r="11.1" fill="url(#hg)"/><circle cx="395.7" cy="719.6" r="9.3" fill="url(#hg)"/><circle cx="380.5" cy="695.9" r="9.9" fill="url(#hg)"/><circle cx="393.1" cy="674.3" r="10.2" fill="url(#hg)"/><circle cx="360.3" cy="667.2" r="11.4" fill="url(#hg)"/><circle cx="395.6" cy="674.1" r="9.1" fill="url(#hg)"/><circle cx="373.3" cy="657.6" r="7.1" fill="url(#hg)"/><circle cx="395.1" cy="711.9" r="10.5" fill="url(#hg)"/><circle cx="380.0" cy="663.6" r="10.0" fill="url(#hg)"/><circle cx="424.7" cy="687.3" r="8.3" fill="url(#hg)"/><circle cx="347.1" cy="682.5" r="11.3" fill="url(#hg)"/><circle cx="369.6" cy="576.0" r="11.8" fill="url(#hg)"/><circle cx="423.8" cy="692.7" r="7.2" fill="url(#hg)"/><circle cx="384.3" cy="677.2" r="10.9" fill="url(#hg)"/><circle cx="349.6" cy="651.7" r="7.8" fill="url(#hg)"/><circle cx="356.8" cy="669.1" r="10.6" fill="url(#hg)"/><circle cx="330.2" cy="646.4" r="11.4" fill="url(#hg)"/><circle cx="371.5" cy="691.6" r="7.6" fill="url(#hg)"/><circle cx="355.6" cy="688.2" r="9.3" fill="url(#hg)"/><circle cx="369.7" cy="645.7" r="11.5" fill="url(#hg)"/><circle cx="405.6" cy="706.8" r="9.0" fill="url(#hg)"/><circle cx="413.8" cy="674.0" r="10.4" fill="url(#hg)"/><circle cx="412.9" cy="716.3" r="10.2" fill="url(#hg)"/><circle cx="373.0" cy="611.7" r="8.0" fill="url(#hg)"/><circle cx="424.8" cy="673.8" r="10.6" fill="url(#hg)"/><circle cx="344.0" cy="706.7" r="11.3" fill="url(#hg)"/><circle cx="365.9" cy="614.0" r="8.2" fill="url(#hg)"/><circle cx="337.3" cy="656.8" r="9.2" fill="url(#hg)"/><circle cx="375.5" cy="632.1" r="7.5" fill="url(#hg)"/><circle cx="371.9" cy="642.2" r="7.2" fill="url(#hg)"/><circle cx="365.1" cy="600.4" r="8.6" fill="url(#hg)"/><circle cx="343.7" cy="705.9" r="8.6" fill="url(#hg)"/><circle cx="391.2" cy="705.6" r="11.6" fill="url(#hg)"/><circle cx="374.2" cy="711.2" r="10.2" fill="url(#hg)"/><circle cx="380.1" cy="621.4" r="11.9" fill="url(#hg)"/><circle cx="348.8" cy="611.4" r="10.6" fill="url(#hg)"/><circle cx="347.2" cy="696.1" r="7.1" fill="url(#hg)"/><circle cx="375.2" cy="693.4" r="10.6" fill="url(#hg)"/><circle cx="363.0" cy="701.6" r="10.0" fill="url(#hg)"/><circle cx="365.3" cy="664.0" r="7.0" fill="url(#hg)"/><circle cx="400.1" cy="687.9" r="11.8" fill="url(#hg)"/><circle cx="380.9" cy="652.5" r="8.5" fill="url(#hg)"/><circle cx="365.7" cy="629.3" r="9.9" fill="url(#hg)"/><circle cx="401.3" cy="717.6" r="7.8" fill="url(#hg)"/><circle cx="377.4" cy="621.4" r="11.0" fill="url(#hg)"/><circle cx="375.8" cy="674.9" r="9.4" fill="url(#hg)"/><circle cx="370.6" cy="619.9" r="7.6" fill="url(#hg)"/><circle cx="373.2" cy="612.2" r="7.1" fill="url(#hg)"/><circle cx="359.3" cy="630.7" r="10.7" fill="url(#hg)"/><circle cx="392.1" cy="668.6" r="9.5" fill="url(#hg)"/><circle cx="372.1" cy="711.9" r="11.8" fill="url(#hg)"/></g></g>
<g clip-path="url(#protclip)"><g filter="url(#lit_gray)"><path d="M507.2,574.0 C507.2,571.5 507.2,568.6 508.2,565.9 C509.2,563.2 510.9,559.9 513.3,557.7 C515.7,555.5 519.3,553.8 522.5,552.6 C525.7,551.4 529.3,550.9 532.7,550.5 C536.1,550.1 539.8,550.0 542.9,550.5 C546.0,551.0 548.4,552.7 551.1,553.6 C553.8,554.5 557.2,556.7 559.3,555.7 C561.3,554.7 562.0,549.9 563.4,547.5 C564.8,545.1 565.4,543.1 567.4,541.4 C569.4,539.7 572.5,538.2 575.6,537.3 C578.7,536.4 582.7,535.9 585.8,536.2 C588.9,536.5 592.0,537.8 594.0,539.3 C596.0,540.8 596.4,544.4 598.1,545.4 C599.8,546.4 602.2,544.9 604.2,545.4 C606.2,545.9 609.2,546.8 610.4,548.5 C611.6,550.2 611.9,553.2 611.4,555.7 C610.9,558.2 608.1,560.8 607.3,563.8 C606.4,566.8 605.8,570.9 606.3,574.0 C606.8,577.1 609.4,579.5 610.4,582.2 C611.4,584.9 611.7,587.0 612.4,590.4 C613.1,593.8 612.7,600.2 614.4,602.7 C616.1,605.2 620.5,604.0 622.6,605.7 C624.7,607.4 626.2,610.0 626.7,612.9 C627.2,615.8 626.4,620.0 625.7,623.1 C625.0,626.2 622.8,628.6 622.6,631.3 C622.4,634.0 624.5,636.0 624.7,639.4 C624.9,642.8 624.2,646.0 623.6,651.7 C623.0,657.4 621.5,668.2 621.4,673.8 C621.3,679.4 623.0,681.6 622.8,685.5 C622.5,689.4 621.1,692.8 619.9,697.2 C618.7,701.6 617.0,707.7 615.5,711.8 C614.0,715.9 625.0,720.3 611.1,722.0 C597.2,723.7 545.6,724.2 532.2,722.0 C518.8,719.8 530.7,713.0 530.7,708.9 C530.7,704.8 532.5,702.1 532.2,697.2 C532.0,692.3 529.5,684.5 529.2,679.6 C529.0,674.7 529.7,671.8 530.7,667.9 C531.7,664.0 534.6,660.0 535.1,656.2 C535.6,652.4 534.7,649.4 534.0,645.0 C533.3,640.6 531.8,635.0 531.0,630.0 C530.2,625.0 530.2,620.3 529.0,615.0 C527.8,609.7 526.8,602.8 524.0,598.0 C521.2,593.2 514.9,589.1 512.3,586.3 C509.7,583.5 509.0,583.2 508.2,581.2 C507.4,579.2 507.2,576.5 507.2,574.0 Z" fill="#909090"/><circle cx="587.2" cy="593.5" r="10.0" fill="url(#hg)"/><circle cx="579.7" cy="644.2" r="7.8" fill="url(#hg)"/><circle cx="552.6" cy="701.9" r="9.6" fill="url(#hg)"/><circle cx="614.0" cy="684.2" r="10.7" fill="url(#hg)"/><circle cx="615.5" cy="677.9" r="10.9" fill="url(#hg)"/><circle cx="549.5" cy="718.5" r="11.8" fill="url(#hg)"/><circle cx="562.3" cy="634.7" r="9.5" fill="url(#hg)"/><circle cx="617.7" cy="629.3" r="11.2" fill="url(#hg)"/><circle cx="549.5" cy="700.2" r="11.5" fill="url(#hg)"/><circle cx="562.3" cy="641.7" r="11.6" fill="url(#hg)"/><circle cx="593.7" cy="626.6" r="8.1" fill="url(#hg)"/><circle cx="546.0" cy="666.2" r="7.8" fill="url(#hg)"/><circle cx="544.2" cy="714.1" r="10.5" fill="url(#hg)"/><circle cx="567.5" cy="632.4" r="10.3" fill="url(#hg)"/><circle cx="568.4" cy="709.8" r="10.1" fill="url(#hg)"/><circle cx="534.3" cy="698.9" r="7.5" fill="url(#hg)"/><circle cx="569.6" cy="694.9" r="8.2" fill="url(#hg)"/><circle cx="592.9" cy="542.1" r="8.8" fill="url(#hg)"/><circle cx="580.7" cy="674.1" r="7.6" fill="url(#hg)"/><circle cx="598.7" cy="673.7" r="11.5" fill="url(#hg)"/><circle cx="597.5" cy="696.4" r="10.5" fill="url(#hg)"/><circle cx="567.9" cy="718.9" r="11.7" fill="url(#hg)"/><circle cx="537.2" cy="646.1" r="10.1" fill="url(#hg)"/><circle cx="602.8" cy="668.0" r="8.3" fill="url(#hg)"/><circle cx="593.7" cy="581.0" r="7.5" fill="url(#hg)"/><circle cx="569.4" cy="622.5" r="8.5" fill="url(#hg)"/><circle cx="583.9" cy="575.7" r="11.5" fill="url(#hg)"/><circle cx="568.3" cy="644.2" r="7.3" fill="url(#hg)"/><circle cx="569.2" cy="707.4" r="10.1" fill="url(#hg)"/><circle cx="541.8" cy="718.9" r="8.9" fill="url(#hg)"/><circle cx="543.8" cy="692.4" r="10.4" fill="url(#hg)"/><circle cx="562.6" cy="676.2" r="9.0" fill="url(#hg)"/><circle cx="608.8" cy="655.3" r="11.8" fill="url(#hg)"/><circle cx="590.0" cy="540.8" r="10.3" fill="url(#hg)"/><circle cx="600.1" cy="670.6" r="9.5" fill="url(#hg)"/><circle cx="539.3" cy="634.0" r="9.4" fill="url(#hg)"/><circle cx="607.1" cy="591.3" r="8.2" fill="url(#hg)"/><circle cx="588.4" cy="706.9" r="9.9" fill="url(#hg)"/><circle cx="588.6" cy="617.7" r="9.6" fill="url(#hg)"/><circle cx="592.7" cy="584.0" r="11.5" fill="url(#hg)"/><circle cx="562.3" cy="666.9" r="9.0" fill="url(#hg)"/><circle cx="578.3" cy="700.0" r="7.9" fill="url(#hg)"/><circle cx="568.2" cy="625.8" r="9.0" fill="url(#hg)"/><circle cx="592.1" cy="710.2" r="10.5" fill="url(#hg)"/><circle cx="563.7" cy="714.9" r="8.7" fill="url(#hg)"/><circle cx="596.3" cy="658.5" r="10.8" fill="url(#hg)"/><circle cx="555.3" cy="660.1" r="11.9" fill="url(#hg)"/><circle cx="592.2" cy="700.3" r="10.3" fill="url(#hg)"/><circle cx="594.4" cy="648.9" r="11.5" fill="url(#hg)"/><circle cx="598.9" cy="573.3" r="10.7" fill="url(#hg)"/><circle cx="577.3" cy="571.8" r="11.0" fill="url(#hg)"/><circle cx="537.5" cy="641.4" r="9.3" fill="url(#hg)"/><circle cx="585.9" cy="676.4" r="9.4" fill="url(#hg)"/><circle cx="587.8" cy="598.4" r="8.3" fill="url(#hg)"/><circle cx="597.3" cy="568.5" r="10.8" fill="url(#hg)"/><circle cx="600.9" cy="611.4" r="10.4" fill="url(#hg)"/><circle cx="601.3" cy="696.7" r="7.7" fill="url(#hg)"/><circle cx="544.1" cy="656.8" r="9.4" fill="url(#hg)"/><circle cx="571.6" cy="706.2" r="7.4" fill="url(#hg)"/><circle cx="605.7" cy="592.7" r="10.2" fill="url(#hg)"/><circle cx="602.3" cy="657.6" r="9.0" fill="url(#hg)"/><circle cx="602.5" cy="653.0" r="8.5" fill="url(#hg)"/><circle cx="540.4" cy="714.2" r="7.6" fill="url(#hg)"/><circle cx="605.0" cy="606.7" r="8.8" fill="url(#hg)"/><circle cx="614.1" cy="707.5" r="9.2" fill="url(#hg)"/><circle cx="583.6" cy="708.9" r="8.6" fill="url(#hg)"/><circle cx="588.3" cy="605.6" r="8.8" fill="url(#hg)"/><circle cx="602.2" cy="579.5" r="11.0" fill="url(#hg)"/><circle cx="548.1" cy="699.4" r="11.6" fill="url(#hg)"/><circle cx="567.3" cy="664.4" r="11.7" fill="url(#hg)"/><circle cx="595.9" cy="675.7" r="11.3" fill="url(#hg)"/><circle cx="619.0" cy="676.2" r="11.9" fill="url(#hg)"/><circle cx="542.0" cy="651.9" r="10.4" fill="url(#hg)"/><circle cx="550.1" cy="706.7" r="11.4" fill="url(#hg)"/><circle cx="598.2" cy="617.3" r="9.7" fill="url(#hg)"/><circle cx="535.5" cy="691.1" r="8.9" fill="url(#hg)"/><circle cx="541.2" cy="654.7" r="7.8" fill="url(#hg)"/><circle cx="545.0" cy="708.3" r="7.5" fill="url(#hg)"/><circle cx="558.6" cy="680.9" r="7.7" fill="url(#hg)"/><circle cx="569.7" cy="693.3" r="8.7" fill="url(#hg)"/><circle cx="599.0" cy="649.6" r="9.0" fill="url(#hg)"/><circle cx="581.2" cy="595.1" r="11.2" fill="url(#hg)"/><circle cx="578.6" cy="645.5" r="9.7" fill="url(#hg)"/><circle cx="587.2" cy="553.3" r="11.9" fill="url(#hg)"/><circle cx="584.8" cy="545.4" r="11.5" fill="url(#hg)"/><circle cx="536.1" cy="625.7" r="9.8" fill="url(#hg)"/><circle cx="569.7" cy="662.9" r="11.4" fill="url(#hg)"/><circle cx="581.6" cy="695.7" r="11.5" fill="url(#hg)"/><circle cx="593.0" cy="630.4" r="11.6" fill="url(#hg)"/><circle cx="582.1" cy="575.3" r="8.9" fill="url(#hg)"/><circle cx="554.8" cy="684.4" r="11.1" fill="url(#hg)"/><circle cx="574.4" cy="624.0" r="8.4" fill="url(#hg)"/><circle cx="598.7" cy="719.6" r="8.1" fill="url(#hg)"/><circle cx="591.2" cy="666.1" r="10.3" fill="url(#hg)"/><circle cx="581.9" cy="674.1" r="10.5" fill="url(#hg)"/><circle cx="605.6" cy="691.4" r="10.0" fill="url(#hg)"/><circle cx="583.2" cy="637.3" r="7.9" fill="url(#hg)"/><circle cx="605.7" cy="666.4" r="8.4" fill="url(#hg)"/><circle cx="615.0" cy="641.9" r="9.1" fill="url(#hg)"/><circle cx="556.8" cy="670.1" r="9.3" fill="url(#hg)"/><circle cx="586.0" cy="558.9" r="10.5" fill="url(#hg)"/><circle cx="539.7" cy="705.4" r="8.1" fill="url(#hg)"/><circle cx="570.0" cy="707.8" r="8.0" fill="url(#hg)"/><circle cx="599.5" cy="665.0" r="10.9" fill="url(#hg)"/><circle cx="560.7" cy="620.6" r="8.7" fill="url(#hg)"/><circle cx="579.5" cy="696.0" r="8.1" fill="url(#hg)"/><circle cx="580.8" cy="658.6" r="11.4" fill="url(#hg)"/><circle cx="588.7" cy="593.4" r="8.0" fill="url(#hg)"/><circle cx="607.2" cy="591.8" r="7.1" fill="url(#hg)"/><circle cx="616.5" cy="656.1" r="9.5" fill="url(#hg)"/><circle cx="602.9" cy="706.4" r="7.8" fill="url(#hg)"/><circle cx="543.0" cy="715.5" r="11.6" fill="url(#hg)"/><circle cx="577.9" cy="666.7" r="9.6" fill="url(#hg)"/><circle cx="586.7" cy="561.9" r="10.1" fill="url(#hg)"/></g></g>
<g clip-path="url(#protclip)"><g filter="url(#lit_green)"><path d="M369.9,540.3 C371.3,537.9 373.8,538.3 377.0,537.3 C380.2,536.3 385.2,534.7 389.3,534.2 C393.4,533.7 398.1,533.7 401.5,534.2 C404.9,534.7 407.5,535.8 409.7,537.3 C411.9,538.8 413.8,541.2 414.8,543.4 C415.8,545.6 417.0,548.8 415.8,550.5 C414.6,552.2 409.9,552.1 407.7,553.6 C405.5,555.1 403.6,557.3 402.6,559.7 C401.6,562.1 401.5,565.2 401.5,567.9 C401.5,570.6 402.8,573.4 402.6,576.1 C402.4,578.8 400.3,581.6 400.5,584.3 C400.7,587.0 402.4,589.7 403.6,592.4 C404.8,595.1 407.7,598.4 407.7,600.6 C407.7,602.8 406.3,604.9 403.6,605.7 C400.9,606.6 395.1,605.5 391.3,605.7 C387.6,605.9 384.2,606.2 381.1,606.7 C378.0,607.2 375.3,609.1 372.9,608.8 C370.5,608.5 368.0,607.1 366.8,604.7 C365.6,602.3 365.3,597.6 365.8,594.5 C366.3,591.4 368.0,588.7 369.9,586.3 C371.8,583.9 375.5,582.2 377.0,580.2 C378.5,578.2 379.5,575.9 379.0,574.0 C378.5,572.1 375.2,570.9 373.9,568.9 C372.5,566.9 371.8,564.7 370.9,561.8 C370.0,558.9 369.0,555.2 368.8,551.6 C368.6,548.0 368.5,542.7 369.9,540.3 Z" fill="#909090"/><circle cx="396.0" cy="580.9" r="4.7" fill="url(#hg)"/><circle cx="392.0" cy="589.5" r="6.5" fill="url(#hg)"/><circle cx="369.0" cy="590.8" r="6.3" fill="url(#hg)"/><circle cx="389.4" cy="587.8" r="7.1" fill="url(#hg)"/><circle cx="401.5" cy="602.9" r="5.7" fill="url(#hg)"/><circle cx="409.7" cy="541.5" r="4.9" fill="url(#hg)"/><circle cx="376.6" cy="606.2" r="5.8" fill="url(#hg)"/><circle cx="397.1" cy="556.7" r="6.0" fill="url(#hg)"/><circle cx="385.1" cy="560.4" r="6.3" fill="url(#hg)"/><circle cx="395.0" cy="601.7" r="6.5" fill="url(#hg)"/><circle cx="399.4" cy="546.4" r="7.1" fill="url(#hg)"/><circle cx="401.5" cy="549.9" r="7.0" fill="url(#hg)"/><circle cx="394.5" cy="555.5" r="4.7" fill="url(#hg)"/><circle cx="380.5" cy="591.6" r="7.1" fill="url(#hg)"/><circle cx="401.7" cy="558.9" r="7.1" fill="url(#hg)"/><circle cx="381.3" cy="539.9" r="6.3" fill="url(#hg)"/><circle cx="396.3" cy="545.9" r="4.6" fill="url(#hg)"/><circle cx="391.8" cy="582.2" r="6.3" fill="url(#hg)"/><circle cx="393.8" cy="580.5" r="7.3" fill="url(#hg)"/><circle cx="391.2" cy="566.4" r="6.7" fill="url(#hg)"/><circle cx="377.7" cy="556.7" r="7.4" fill="url(#hg)"/><circle cx="391.9" cy="575.1" r="4.5" fill="url(#hg)"/><circle cx="386.6" cy="577.5" r="4.6" fill="url(#hg)"/><circle cx="396.6" cy="581.4" r="4.7" fill="url(#hg)"/><circle cx="397.2" cy="569.0" r="6.5" fill="url(#hg)"/><circle cx="383.4" cy="586.9" r="6.7" fill="url(#hg)"/><circle cx="395.4" cy="558.1" r="5.6" fill="url(#hg)"/><circle cx="381.4" cy="561.7" r="6.3" fill="url(#hg)"/><circle cx="380.8" cy="562.3" r="6.8" fill="url(#hg)"/><circle cx="381.3" cy="550.8" r="6.9" fill="url(#hg)"/><circle cx="377.7" cy="548.2" r="5.8" fill="url(#hg)"/><circle cx="400.7" cy="541.8" r="5.5" fill="url(#hg)"/><circle cx="382.5" cy="596.4" r="5.8" fill="url(#hg)"/><circle cx="408.6" cy="546.8" r="5.5" fill="url(#hg)"/><circle cx="398.3" cy="600.2" r="5.9" fill="url(#hg)"/><circle cx="377.1" cy="543.2" r="6.1" fill="url(#hg)"/><circle cx="375.3" cy="594.4" r="7.0" fill="url(#hg)"/><circle cx="375.0" cy="555.0" r="6.9" fill="url(#hg)"/><circle cx="397.9" cy="594.3" r="5.5" fill="url(#hg)"/><circle cx="372.3" cy="556.0" r="6.9" fill="url(#hg)"/><circle cx="379.4" cy="560.0" r="5.8" fill="url(#hg)"/><circle cx="386.8" cy="564.8" r="7.3" fill="url(#hg)"/><circle cx="403.1" cy="596.6" r="6.5" fill="url(#hg)"/></g></g>
<g clip-path="url(#protclip)"><g filter="url(#lit_orange)"><path d="M381.1,606.7 C382.8,605.0 387.6,604.9 391.3,604.7 C395.1,604.5 400.2,605.4 403.6,605.7 C407.0,606.0 408.6,605.9 411.7,606.7 C414.8,607.6 418.9,609.9 422.0,610.8 C425.1,611.7 427.7,611.9 430.1,611.9 C432.5,611.9 434.9,610.3 436.3,610.8 C437.7,611.3 438.3,613.2 438.3,614.9 C438.3,616.6 437.7,619.7 436.3,621.1 C434.9,622.5 431.8,622.1 430.1,623.1 C428.4,624.1 426.9,625.5 426.0,627.2 C425.1,628.9 425.7,630.9 425.0,633.3 C424.3,635.7 423.2,638.4 422.0,641.5 C420.8,644.6 419.3,649.3 417.9,651.7 C416.5,654.1 415.5,655.1 413.8,655.8 C412.1,656.5 409.8,656.8 407.7,655.8 C405.6,654.8 403.6,650.4 401.5,649.7 C399.4,649.0 397.4,651.7 395.4,651.7 C393.4,651.7 391.2,651.1 389.3,649.7 C387.4,648.3 385.4,645.9 384.2,643.5 C383.0,641.1 382.3,638.8 382.1,635.4 C381.9,632.0 383.3,626.5 383.1,623.1 C382.9,619.7 381.4,617.6 381.1,614.9 C380.8,612.2 379.4,608.4 381.1,606.7 Z" fill="#909090"/><circle cx="416.7" cy="642.6" r="6.9" fill="url(#hg)"/><circle cx="407.9" cy="617.3" r="6.1" fill="url(#hg)"/><circle cx="390.2" cy="645.4" r="4.9" fill="url(#hg)"/><circle cx="416.4" cy="611.2" r="4.5" fill="url(#hg)"/><circle cx="430.9" cy="615.4" r="5.1" fill="url(#hg)"/><circle cx="401.8" cy="613.2" r="4.9" fill="url(#hg)"/><circle cx="384.8" cy="620.1" r="6.3" fill="url(#hg)"/><circle cx="398.8" cy="646.5" r="5.9" fill="url(#hg)"/><circle cx="399.2" cy="629.3" r="6.6" fill="url(#hg)"/><circle cx="426.2" cy="623.4" r="6.2" fill="url(#hg)"/><circle cx="435.7" cy="614.7" r="6.8" fill="url(#hg)"/><circle cx="401.4" cy="631.5" r="6.8" fill="url(#hg)"/><circle cx="387.3" cy="642.9" r="6.9" fill="url(#hg)"/><circle cx="386.3" cy="622.1" r="6.3" fill="url(#hg)"/><circle cx="412.3" cy="620.7" r="5.5" fill="url(#hg)"/><circle cx="391.3" cy="608.7" r="4.9" fill="url(#hg)"/><circle cx="404.3" cy="616.8" r="6.3" fill="url(#hg)"/><circle cx="409.3" cy="647.5" r="4.9" fill="url(#hg)"/><circle cx="389.6" cy="647.9" r="5.4" fill="url(#hg)"/><circle cx="422.8" cy="629.2" r="5.4" fill="url(#hg)"/><circle cx="404.2" cy="612.2" r="5.6" fill="url(#hg)"/><circle cx="409.7" cy="622.0" r="4.8" fill="url(#hg)"/><circle cx="396.7" cy="644.7" r="7.1" fill="url(#hg)"/><circle cx="401.8" cy="644.9" r="6.8" fill="url(#hg)"/><circle cx="420.8" cy="638.6" r="6.8" fill="url(#hg)"/><circle cx="401.9" cy="640.7" r="5.3" fill="url(#hg)"/><circle cx="408.9" cy="644.0" r="6.6" fill="url(#hg)"/><circle cx="395.4" cy="639.0" r="5.9" fill="url(#hg)"/><circle cx="401.0" cy="637.6" r="6.7" fill="url(#hg)"/><circle cx="428.5" cy="622.6" r="7.0" fill="url(#hg)"/><circle cx="390.6" cy="647.5" r="7.3" fill="url(#hg)"/><circle cx="408.4" cy="640.0" r="6.7" fill="url(#hg)"/><circle cx="422.9" cy="613.5" r="6.8" fill="url(#hg)"/><circle cx="414.3" cy="638.7" r="5.8" fill="url(#hg)"/><circle cx="416.8" cy="644.3" r="6.4" fill="url(#hg)"/></g></g>
<g clip-path="url(#protclip)"><g filter="url(#lit_purple)"><path d="M403.6,555.7 C405.1,553.3 409.0,551.0 411.7,549.5 C414.4,548.0 417.2,547.2 419.9,546.5 C422.6,545.8 425.0,545.4 428.1,545.4 C431.2,545.4 434.9,545.8 438.3,546.5 C441.7,547.2 445.4,548.0 448.5,549.5 C451.6,551.0 454.3,553.7 456.7,555.7 C459.1,557.8 461.3,559.4 462.8,561.8 C464.3,564.2 465.4,566.9 465.9,570.0 C466.4,573.1 466.2,577.1 465.9,580.2 C465.6,583.3 465.1,586.2 463.9,588.4 C462.7,590.6 461.0,592.3 458.8,593.5 C456.6,594.7 453.5,595.2 450.6,595.5 C447.7,595.8 444.1,595.0 441.4,595.5 C438.7,596.0 436.1,597.2 434.2,598.6 C432.3,600.0 431.5,602.0 430.1,603.7 C428.7,605.4 427.7,607.6 426.0,608.8 C424.3,610.0 421.9,611.1 419.9,610.8 C417.9,610.4 415.8,608.7 413.8,606.7 C411.8,604.7 409.4,601.3 407.7,598.6 C406.0,595.9 404.6,593.1 403.6,590.4 C402.6,587.7 401.9,585.3 401.5,582.2 C401.1,579.1 401.3,575.1 401.5,572.0 C401.7,568.9 402.2,566.5 402.6,563.8 C403.0,561.1 402.1,558.1 403.6,555.7 Z" fill="#909090"/><circle cx="416.7" cy="552.1" r="6.4" fill="url(#hg)"/><circle cx="415.8" cy="580.5" r="6.0" fill="url(#hg)"/><circle cx="412.6" cy="552.3" r="5.8" fill="url(#hg)"/><circle cx="453.0" cy="558.1" r="6.1" fill="url(#hg)"/><circle cx="441.9" cy="593.3" r="8.0" fill="url(#hg)"/><circle cx="444.8" cy="578.5" r="5.6" fill="url(#hg)"/><circle cx="432.0" cy="551.2" r="8.3" fill="url(#hg)"/><circle cx="457.2" cy="581.2" r="6.1" fill="url(#hg)"/><circle cx="460.0" cy="582.8" r="8.1" fill="url(#hg)"/><circle cx="456.1" cy="578.6" r="6.4" fill="url(#hg)"/><circle cx="440.1" cy="573.6" r="5.6" fill="url(#hg)"/><circle cx="421.1" cy="598.5" r="5.2" fill="url(#hg)"/><circle cx="404.5" cy="586.4" r="6.0" fill="url(#hg)"/><circle cx="435.9" cy="576.2" r="6.2" fill="url(#hg)"/><circle cx="414.6" cy="586.8" r="6.0" fill="url(#hg)"/><circle cx="424.4" cy="594.3" r="6.1" fill="url(#hg)"/><circle cx="405.5" cy="560.4" r="7.7" fill="url(#hg)"/><circle cx="441.1" cy="560.9" r="6.2" fill="url(#hg)"/><circle cx="412.9" cy="575.4" r="5.1" fill="url(#hg)"/><circle cx="420.1" cy="608.6" r="7.7" fill="url(#hg)"/><circle cx="454.2" cy="564.6" r="5.7" fill="url(#hg)"/><circle cx="430.1" cy="554.3" r="6.3" fill="url(#hg)"/><circle cx="463.4" cy="567.1" r="5.0" fill="url(#hg)"/><circle cx="424.9" cy="564.4" r="5.3" fill="url(#hg)"/><circle cx="464.7" cy="573.1" r="5.7" fill="url(#hg)"/><circle cx="445.1" cy="555.2" r="5.1" fill="url(#hg)"/><circle cx="433.1" cy="561.7" r="8.5" fill="url(#hg)"/><circle cx="409.4" cy="580.0" r="7.7" fill="url(#hg)"/><circle cx="417.1" cy="572.3" r="5.1" fill="url(#hg)"/><circle cx="428.6" cy="561.7" r="8.1" fill="url(#hg)"/><circle cx="455.0" cy="578.0" r="5.1" fill="url(#hg)"/><circle cx="417.9" cy="561.3" r="5.7" fill="url(#hg)"/><circle cx="416.4" cy="602.3" r="5.5" fill="url(#hg)"/><circle cx="433.3" cy="551.5" r="5.7" fill="url(#hg)"/><circle cx="423.2" cy="588.4" r="7.8" fill="url(#hg)"/><circle cx="443.7" cy="590.3" r="5.9" fill="url(#hg)"/><circle cx="412.3" cy="586.9" r="7.0" fill="url(#hg)"/><circle cx="458.1" cy="558.6" r="7.4" fill="url(#hg)"/><circle cx="422.8" cy="603.7" r="7.7" fill="url(#hg)"/><circle cx="431.9" cy="579.8" r="5.1" fill="url(#hg)"/><circle cx="403.7" cy="584.3" r="6.7" fill="url(#hg)"/><circle cx="457.2" cy="585.2" r="5.5" fill="url(#hg)"/><circle cx="424.8" cy="595.6" r="6.8" fill="url(#hg)"/></g></g>
<g clip-path="url(#protclip)"><g filter="url(#lit_green)"><path d="M545.0,559.7 C545.7,558.0 548.7,556.4 551.1,555.7 C553.5,555.0 557.2,557.1 559.3,555.7 C561.3,554.3 562.0,549.9 563.4,547.5 C564.8,545.1 565.4,542.9 567.4,541.4 C569.4,539.9 573.7,538.0 575.6,538.3 C577.5,538.6 578.4,540.8 578.7,543.4 C579.1,546.0 578.4,550.5 577.7,553.6 C577.0,556.7 575.6,558.7 574.6,561.8 C573.6,564.9 573.0,569.8 571.5,572.0 C570.0,574.2 567.4,574.8 565.4,575.1 C563.4,575.4 561.3,574.9 559.3,574.0 C557.2,573.1 555.1,571.4 553.1,570.0 C551.1,568.6 548.4,567.6 547.0,565.9 C545.6,564.2 544.3,561.4 545.0,559.7 Z" fill="#909090"/><circle cx="559.3" cy="568.7" r="4.3" fill="url(#hg)"/><circle cx="552.5" cy="561.4" r="6.4" fill="url(#hg)"/><circle cx="564.4" cy="552.9" r="6.4" fill="url(#hg)"/><circle cx="572.5" cy="545.0" r="5.5" fill="url(#hg)"/><circle cx="566.5" cy="552.0" r="5.4" fill="url(#hg)"/><circle cx="567.9" cy="554.0" r="4.8" fill="url(#hg)"/><circle cx="564.7" cy="555.0" r="4.7" fill="url(#hg)"/><circle cx="571.8" cy="564.0" r="4.6" fill="url(#hg)"/><circle cx="564.4" cy="557.6" r="6.2" fill="url(#hg)"/><circle cx="569.6" cy="548.9" r="6.5" fill="url(#hg)"/><circle cx="567.5" cy="566.4" r="5.4" fill="url(#hg)"/><circle cx="574.5" cy="549.8" r="5.7" fill="url(#hg)"/><circle cx="565.0" cy="559.6" r="5.1" fill="url(#hg)"/><circle cx="574.4" cy="541.3" r="5.1" fill="url(#hg)"/><circle cx="563.5" cy="570.8" r="6.0" fill="url(#hg)"/></g></g>
<g clip-path="url(#protclip)"><g filter="url(#lit_green)"><path d="M596.1,547.5 C597.5,545.1 601.8,545.2 604.2,545.4 C606.6,545.6 609.2,546.8 610.4,548.5 C611.6,550.2 612.1,553.5 611.4,555.7 C610.7,557.9 608.2,560.1 606.3,561.8 C604.4,563.5 601.8,566.2 600.1,565.9 C598.4,565.5 596.8,562.8 596.1,559.7 C595.4,556.6 594.8,549.9 596.1,547.5 Z" fill="#909090"/><circle cx="603.1" cy="554.7" r="4.5" fill="url(#hg)"/><circle cx="599.0" cy="562.4" r="3.7" fill="url(#hg)"/><circle cx="597.8" cy="550.7" r="5.5" fill="url(#hg)"/><circle cx="597.1" cy="558.1" r="4.3" fill="url(#hg)"/><circle cx="606.2" cy="552.3" r="4.9" fill="url(#hg)"/><circle cx="603.7" cy="558.7" r="5.3" fill="url(#hg)"/><circle cx="605.0" cy="548.3" r="3.6" fill="url(#hg)"/></g></g>
<g clip-path="url(#protclip)"><g filter="url(#lit_orange)"><path d="M559.3,576.1 C560.3,574.1 563.4,572.4 565.4,572.0 C567.4,571.6 569.8,572.6 571.5,574.0 C573.2,575.4 574.6,577.8 575.6,580.2 C576.6,582.6 576.9,585.3 577.7,588.4 C578.6,591.5 579.4,595.5 580.7,598.6 C582.1,601.7 584.6,604.0 585.8,606.7 C587.0,609.4 588.6,613.2 587.9,614.9 C587.2,616.6 583.8,617.3 581.7,617.0 C579.7,616.7 577.3,614.6 575.6,612.9 C573.9,611.2 572.9,609.1 571.5,606.7 C570.1,604.3 568.9,601.3 567.4,598.6 C565.9,595.9 563.6,592.8 562.3,590.4 C560.9,588.0 559.8,586.7 559.3,584.3 C558.8,581.9 558.3,578.1 559.3,576.1 Z" fill="#909090"/><circle cx="575.6" cy="591.3" r="4.9" fill="url(#hg)"/><circle cx="568.7" cy="583.2" r="5.9" fill="url(#hg)"/><circle cx="576.6" cy="589.2" r="4.2" fill="url(#hg)"/><circle cx="570.0" cy="599.1" r="3.8" fill="url(#hg)"/><circle cx="582.4" cy="614.6" r="4.6" fill="url(#hg)"/><circle cx="571.1" cy="583.0" r="4.2" fill="url(#hg)"/><circle cx="572.3" cy="579.4" r="5.1" fill="url(#hg)"/><circle cx="582.8" cy="607.0" r="4.7" fill="url(#hg)"/><circle cx="569.2" cy="591.6" r="3.5" fill="url(#hg)"/><circle cx="574.2" cy="599.1" r="3.7" fill="url(#hg)"/><circle cx="573.3" cy="592.8" r="4.5" fill="url(#hg)"/><circle cx="571.3" cy="598.3" r="4.8" fill="url(#hg)"/><circle cx="573.3" cy="579.5" r="4.6" fill="url(#hg)"/><circle cx="562.0" cy="576.9" r="4.6" fill="url(#hg)"/><circle cx="571.8" cy="594.6" r="4.6" fill="url(#hg)"/><circle cx="580.1" cy="612.4" r="5.2" fill="url(#hg)"/><circle cx="571.4" cy="601.2" r="5.8" fill="url(#hg)"/></g></g>
<g clip-path="url(#protclip)"><g filter="url(#lit_orange)"><path d="M530.7,612.9 C531.7,611.5 534.1,610.5 536.8,610.8 C539.5,611.1 543.9,613.5 547.0,614.9 C550.1,616.3 553.2,617.3 555.2,619.0 C557.2,620.7 558.6,622.4 559.3,625.1 C560.0,627.8 559.0,632.0 559.3,635.4 C559.6,638.8 561.3,642.5 561.3,645.6 C561.3,648.7 560.7,651.8 559.3,653.8 C557.9,655.8 555.1,657.5 553.1,657.8 C551.1,658.1 548.7,657.5 547.0,655.8 C545.3,654.1 543.4,650.3 542.9,647.6 C542.4,644.9 544.2,642.1 543.9,639.4 C543.6,636.7 542.4,634.0 540.9,631.3 C539.4,628.6 536.4,625.1 534.7,623.1 C533.0,621.1 531.4,620.7 530.7,619.0 C530.0,617.3 529.7,614.3 530.7,612.9 Z" fill="#909090"/><circle cx="544.5" cy="637.1" r="5.8" fill="url(#hg)"/><circle cx="544.9" cy="634.7" r="5.0" fill="url(#hg)"/><circle cx="550.7" cy="639.7" r="3.9" fill="url(#hg)"/><circle cx="536.5" cy="622.2" r="3.6" fill="url(#hg)"/><circle cx="544.9" cy="631.5" r="5.6" fill="url(#hg)"/><circle cx="546.6" cy="640.9" r="4.7" fill="url(#hg)"/><circle cx="551.0" cy="632.3" r="4.2" fill="url(#hg)"/><circle cx="552.4" cy="625.6" r="4.1" fill="url(#hg)"/><circle cx="539.5" cy="614.1" r="5.4" fill="url(#hg)"/><circle cx="550.0" cy="647.4" r="4.2" fill="url(#hg)"/><circle cx="533.8" cy="613.6" r="5.5" fill="url(#hg)"/><circle cx="537.2" cy="623.5" r="5.9" fill="url(#hg)"/><circle cx="555.3" cy="625.1" r="5.7" fill="url(#hg)"/><circle cx="537.2" cy="622.9" r="5.4" fill="url(#hg)"/><circle cx="540.8" cy="624.7" r="3.7" fill="url(#hg)"/><circle cx="549.1" cy="628.3" r="4.6" fill="url(#hg)"/><circle cx="558.5" cy="649.2" r="4.1" fill="url(#hg)"/><circle cx="549.2" cy="630.6" r="3.8" fill="url(#hg)"/><circle cx="552.3" cy="622.9" r="5.6" fill="url(#hg)"/><circle cx="549.0" cy="624.6" r="3.9" fill="url(#hg)"/><circle cx="547.8" cy="650.9" r="5.0" fill="url(#hg)"/><circle cx="532.5" cy="619.1" r="4.4" fill="url(#hg)"/></g></g>
<g clip-path="url(#protclip)"><g filter="url(#lit_purple)"><path d="M507.2,574.0 C507.2,571.5 507.2,568.6 508.2,565.9 C509.2,563.2 510.9,559.9 513.3,557.7 C515.7,555.5 519.3,553.8 522.5,552.6 C525.7,551.4 529.3,550.9 532.7,550.5 C536.1,550.1 539.8,550.0 542.9,550.5 C546.0,551.0 548.4,552.7 551.1,553.6 C553.8,554.5 557.6,554.2 559.3,555.7 C561.0,557.2 561.5,560.2 561.3,562.8 C561.1,565.3 558.2,568.1 558.2,571.0 C558.2,573.9 560.1,577.3 561.3,580.2 C562.5,583.1 564.2,585.7 565.4,588.4 C566.6,591.1 568.2,593.5 568.5,596.5 C568.8,599.5 568.2,603.6 567.4,606.7 C566.5,609.8 565.1,613.5 563.4,614.9 C561.7,616.3 559.2,615.6 557.2,614.9 C555.2,614.2 553.1,612.2 551.1,610.8 C549.1,609.4 547.4,608.4 545.0,606.7 C542.6,605.0 539.5,602.5 536.8,600.6 C534.1,598.7 531.3,597.0 528.6,595.5 C525.9,594.0 523.1,592.9 520.4,591.4 C517.7,589.9 514.3,588.0 512.3,586.3 C510.3,584.6 509.0,583.2 508.2,581.2 C507.4,579.2 507.2,576.5 507.2,574.0 Z" fill="#909090"/><circle cx="555.8" cy="603.4" r="6.7" fill="url(#hg)"/><circle cx="554.4" cy="568.1" r="7.8" fill="url(#hg)"/><circle cx="551.9" cy="577.2" r="6.9" fill="url(#hg)"/><circle cx="549.0" cy="562.9" r="6.9" fill="url(#hg)"/><circle cx="556.6" cy="567.6" r="7.8" fill="url(#hg)"/><circle cx="549.2" cy="604.9" r="6.2" fill="url(#hg)"/><circle cx="534.5" cy="556.5" r="5.7" fill="url(#hg)"/><circle cx="546.1" cy="569.3" r="8.3" fill="url(#hg)"/><circle cx="543.3" cy="563.4" r="7.3" fill="url(#hg)"/><circle cx="538.7" cy="592.0" r="7.4" fill="url(#hg)"/><circle cx="556.6" cy="613.4" r="5.1" fill="url(#hg)"/><circle cx="529.4" cy="589.3" r="6.1" fill="url(#hg)"/><circle cx="543.3" cy="556.3" r="8.1" fill="url(#hg)"/><circle cx="539.4" cy="558.0" r="7.3" fill="url(#hg)"/><circle cx="526.3" cy="563.1" r="6.7" fill="url(#hg)"/><circle cx="515.7" cy="564.0" r="8.0" fill="url(#hg)"/><circle cx="545.2" cy="570.2" r="6.3" fill="url(#hg)"/><circle cx="531.1" cy="558.7" r="8.5" fill="url(#hg)"/><circle cx="510.5" cy="577.7" r="7.6" fill="url(#hg)"/><circle cx="556.0" cy="583.8" r="6.6" fill="url(#hg)"/><circle cx="550.5" cy="576.8" r="5.3" fill="url(#hg)"/><circle cx="553.0" cy="567.6" r="6.7" fill="url(#hg)"/><circle cx="555.3" cy="561.6" r="5.1" fill="url(#hg)"/><circle cx="522.9" cy="579.6" r="8.2" fill="url(#hg)"/><circle cx="522.8" cy="576.9" r="8.1" fill="url(#hg)"/><circle cx="544.7" cy="567.8" r="6.7" fill="url(#hg)"/><circle cx="536.5" cy="559.7" r="6.3" fill="url(#hg)"/><circle cx="530.3" cy="589.3" r="6.1" fill="url(#hg)"/><circle cx="531.6" cy="581.9" r="7.8" fill="url(#hg)"/><circle cx="534.7" cy="554.2" r="5.1" fill="url(#hg)"/><circle cx="554.6" cy="557.7" r="7.5" fill="url(#hg)"/><circle cx="544.8" cy="577.7" r="7.7" fill="url(#hg)"/><circle cx="557.1" cy="582.2" r="6.6" fill="url(#hg)"/><circle cx="513.3" cy="573.8" r="5.5" fill="url(#hg)"/><circle cx="545.5" cy="589.6" r="5.5" fill="url(#hg)"/><circle cx="545.7" cy="556.8" r="5.4" fill="url(#hg)"/></g></g>
<g clip-path="url(#protclip)"><g filter="url(#lit_green)"><path d="M534.7,608.8 C534.7,606.9 538.5,604.7 540.9,603.7 C543.3,602.7 547.0,602.2 549.0,602.7 C551.0,603.2 553.1,605.0 553.1,606.7 C553.1,608.4 551.0,611.5 549.0,612.9 C547.0,614.3 543.3,615.6 540.9,614.9 C538.5,614.2 534.7,610.7 534.7,608.8 Z" fill="#909090"/><circle cx="543.2" cy="607.3" r="3.3" fill="url(#hg)"/><circle cx="547.6" cy="608.2" r="4.5" fill="url(#hg)"/><circle cx="548.9" cy="607.4" r="4.5" fill="url(#hg)"/><circle cx="548.1" cy="607.8" r="3.2" fill="url(#hg)"/><circle cx="549.6" cy="605.1" r="4.8" fill="url(#hg)"/></g></g>
<g filter="url(#dotblur)" clip-path="url(#protclip)"><circle cx="346.0" cy="663.7" r="1.3" fill="#ffffff" opacity="0.85"/><circle cx="375.6" cy="644.1" r="0.9" fill="#ffffff" opacity="0.85"/><circle cx="344.5" cy="687.7" r="1.0" fill="#ffffff" opacity="0.85"/><circle cx="356.0" cy="680.7" r="1.0" fill="#ffffff" opacity="0.85"/><circle cx="405.7" cy="671.2" r="1.0" fill="#ffffff" opacity="0.85"/><circle cx="390.7" cy="689.5" r="1.0" fill="#ffffff" opacity="0.85"/><circle cx="401.3" cy="674.7" r="1.1" fill="#ffffff" opacity="0.85"/><circle cx="376.1" cy="662.5" r="1.4" fill="#ffffff" opacity="0.85"/><circle cx="380.7" cy="720.0" r="1.6" fill="#ffffff" opacity="0.85"/><circle cx="407.1" cy="700.1" r="1.2" fill="#ffffff" opacity="0.85"/><circle cx="376.2" cy="580.6" r="1.5" fill="#ffffff" opacity="0.85"/><circle cx="391.7" cy="691.4" r="0.9" fill="#ffffff" opacity="0.85"/><circle cx="359.3" cy="588.6" r="1.2" fill="#ffffff" opacity="0.85"/><circle cx="370.8" cy="703.1" r="1.6" fill="#ffffff" opacity="0.85"/><circle cx="358.5" cy="714.3" r="1.3" fill="#ffffff" opacity="0.85"/><circle cx="352.8" cy="691.6" r="1.5" fill="#ffffff" opacity="0.85"/><circle cx="383.5" cy="643.3" r="1.5" fill="#ffffff" opacity="0.85"/><circle cx="366.5" cy="634.5" r="1.1" fill="#ffffff" opacity="0.85"/><circle cx="420.7" cy="713.4" r="0.9" fill="#ffffff" opacity="0.85"/><circle cx="359.2" cy="610.4" r="1.6" fill="#ffffff" opacity="0.85"/><circle cx="376.6" cy="667.5" r="1.3" fill="#ffffff" opacity="0.85"/><circle cx="328.9" cy="667.7" r="1.5" fill="#ffffff" opacity="0.85"/><circle cx="347.5" cy="667.8" r="1.1" fill="#ffffff" opacity="0.85"/><circle cx="366.7" cy="703.4" r="1.1" fill="#ffffff" opacity="0.85"/><circle cx="366.8" cy="665.6" r="1.3" fill="#ffffff" opacity="0.85"/><circle cx="386.6" cy="650.9" r="0.9" fill="#ffffff" opacity="0.85"/><circle cx="357.8" cy="666.4" r="1.5" fill="#ffffff" opacity="0.85"/><circle cx="356.3" cy="606.6" r="1.2" fill="#ffffff" opacity="0.85"/><circle cx="413.0" cy="715.1" r="1.0" fill="#ffffff" opacity="0.85"/><circle cx="410.6" cy="689.1" r="1.6" fill="#ffffff" opacity="0.85"/><circle cx="365.8" cy="711.4" r="1.4" fill="#ffffff" opacity="0.85"/><circle cx="351.9" cy="597.2" r="1.3" fill="#ffffff" opacity="0.85"/><circle cx="358.8" cy="693.0" r="1.0" fill="#ffffff" opacity="0.85"/><circle cx="376.7" cy="710.9" r="1.2" fill="#ffffff" opacity="0.85"/><circle cx="385.0" cy="650.1" r="1.1" fill="#ffffff" opacity="0.85"/><circle cx="347.3" cy="606.4" r="1.1" fill="#ffffff" opacity="0.85"/><circle cx="349.4" cy="714.6" r="0.9" fill="#ffffff" opacity="0.85"/><circle cx="409.6" cy="665.7" r="1.1" fill="#ffffff" opacity="0.85"/><circle cx="387.5" cy="702.2" r="1.2" fill="#ffffff" opacity="0.85"/><circle cx="341.7" cy="682.9" r="1.5" fill="#ffffff" opacity="0.85"/><circle cx="349.2" cy="609.9" r="1.3" fill="#ffffff" opacity="0.85"/><circle cx="354.6" cy="684.9" r="1.5" fill="#ffffff" opacity="0.85"/><circle cx="324.8" cy="643.5" r="1.0" fill="#ffffff" opacity="0.85"/><circle cx="390.0" cy="684.5" r="1.1" fill="#ffffff" opacity="0.85"/><circle cx="361.0" cy="600.5" r="1.1" fill="#ffffff" opacity="0.85"/><circle cx="412.4" cy="701.4" r="0.9" fill="#ffffff" opacity="0.85"/><circle cx="420.1" cy="656.9" r="1.0" fill="#ffffff" opacity="0.85"/><circle cx="421.5" cy="670.9" r="1.3" fill="#ffffff" opacity="0.85"/><circle cx="372.9" cy="634.2" r="1.3" fill="#ffffff" opacity="0.85"/><circle cx="347.3" cy="667.5" r="1.2" fill="#ffffff" opacity="0.85"/><circle cx="345.6" cy="694.0" r="1.5" fill="#ffffff" opacity="0.85"/><circle cx="353.5" cy="680.2" r="1.5" fill="#ffffff" opacity="0.85"/><circle cx="398.9" cy="704.8" r="1.6" fill="#ffffff" opacity="0.85"/><circle cx="378.3" cy="711.1" r="1.6" fill="#ffffff" opacity="0.85"/><circle cx="372.8" cy="649.4" r="1.3" fill="#ffffff" opacity="0.85"/><circle cx="345.5" cy="709.0" r="1.3" fill="#ffffff" opacity="0.85"/><circle cx="347.9" cy="635.6" r="1.5" fill="#ffffff" opacity="0.85"/><circle cx="397.4" cy="702.3" r="1.3" fill="#ffffff" opacity="0.85"/><circle cx="383.2" cy="654.6" r="1.4" fill="#ffffff" opacity="0.85"/><circle cx="358.6" cy="615.0" r="1.2" fill="#ffffff" opacity="0.85"/><circle cx="406.5" cy="685.0" r="1.4" fill="#ffffff" opacity="0.85"/><circle cx="376.4" cy="608.1" r="0.9" fill="#ffffff" opacity="0.85"/><circle cx="405.1" cy="721.6" r="1.0" fill="#ffffff" opacity="0.85"/><circle cx="354.9" cy="672.1" r="1.5" fill="#ffffff" opacity="0.85"/><circle cx="375.5" cy="689.4" r="1.2" fill="#ffffff" opacity="0.85"/><circle cx="421.8" cy="696.7" r="1.4" fill="#ffffff" opacity="0.85"/><circle cx="393.8" cy="668.1" r="1.1" fill="#ffffff" opacity="0.85"/><circle cx="330.6" cy="665.0" r="1.2" fill="#ffffff" opacity="0.85"/><circle cx="354.4" cy="682.5" r="0.9" fill="#ffffff" opacity="0.85"/><circle cx="354.1" cy="644.4" r="1.3" fill="#ffffff" opacity="0.85"/></g>
<g filter="url(#dotblur)" clip-path="url(#protclip)"><circle cx="585.0" cy="600.4" r="1.5" fill="#ffffff" opacity="0.85"/><circle cx="534.9" cy="714.5" r="1.1" fill="#ffffff" opacity="0.85"/><circle cx="579.0" cy="709.4" r="1.4" fill="#ffffff" opacity="0.85"/><circle cx="617.6" cy="667.8" r="0.9" fill="#ffffff" opacity="0.85"/><circle cx="612.5" cy="645.7" r="1.1" fill="#ffffff" opacity="0.85"/><circle cx="576.8" cy="710.5" r="1.4" fill="#ffffff" opacity="0.85"/><circle cx="622.1" cy="641.4" r="1.4" fill="#ffffff" opacity="0.85"/><circle cx="580.4" cy="584.2" r="1.6" fill="#ffffff" opacity="0.85"/><circle cx="544.5" cy="681.3" r="1.6" fill="#ffffff" opacity="0.85"/><circle cx="585.0" cy="562.6" r="1.5" fill="#ffffff" opacity="0.85"/><circle cx="587.0" cy="570.6" r="0.9" fill="#ffffff" opacity="0.85"/><circle cx="617.7" cy="630.3" r="1.3" fill="#ffffff" opacity="0.85"/><circle cx="556.1" cy="659.0" r="1.5" fill="#ffffff" opacity="0.85"/><circle cx="578.4" cy="637.1" r="1.2" fill="#ffffff" opacity="0.85"/><circle cx="587.7" cy="634.3" r="1.0" fill="#ffffff" opacity="0.85"/><circle cx="568.4" cy="610.6" r="1.0" fill="#ffffff" opacity="0.85"/><circle cx="571.2" cy="684.1" r="1.4" fill="#ffffff" opacity="0.85"/><circle cx="606.2" cy="707.3" r="1.2" fill="#ffffff" opacity="0.85"/><circle cx="608.4" cy="628.8" r="1.3" fill="#ffffff" opacity="0.85"/><circle cx="577.1" cy="720.4" r="1.4" fill="#ffffff" opacity="0.85"/><circle cx="563.7" cy="671.3" r="1.4" fill="#ffffff" opacity="0.85"/><circle cx="549.5" cy="681.9" r="1.5" fill="#ffffff" opacity="0.85"/><circle cx="579.9" cy="711.4" r="0.9" fill="#ffffff" opacity="0.85"/><circle cx="567.0" cy="654.1" r="1.1" fill="#ffffff" opacity="0.85"/><circle cx="548.3" cy="672.7" r="1.5" fill="#ffffff" opacity="0.85"/><circle cx="552.3" cy="693.9" r="0.9" fill="#ffffff" opacity="0.85"/><circle cx="531.5" cy="627.2" r="1.2" fill="#ffffff" opacity="0.85"/><circle cx="596.9" cy="669.6" r="1.2" fill="#ffffff" opacity="0.85"/><circle cx="586.8" cy="565.5" r="1.5" fill="#ffffff" opacity="0.85"/><circle cx="584.4" cy="546.8" r="1.2" fill="#ffffff" opacity="0.85"/><circle cx="579.3" cy="544.1" r="1.2" fill="#ffffff" opacity="0.85"/><circle cx="535.1" cy="635.5" r="1.0" fill="#ffffff" opacity="0.85"/><circle cx="548.1" cy="696.7" r="1.5" fill="#ffffff" opacity="0.85"/><circle cx="583.7" cy="568.8" r="1.5" fill="#ffffff" opacity="0.85"/><circle cx="613.9" cy="638.6" r="1.2" fill="#ffffff" opacity="0.85"/><circle cx="608.6" cy="631.5" r="1.0" fill="#ffffff" opacity="0.85"/><circle cx="607.4" cy="630.9" r="1.4" fill="#ffffff" opacity="0.85"/><circle cx="604.9" cy="717.1" r="1.0" fill="#ffffff" opacity="0.85"/><circle cx="555.7" cy="698.6" r="1.4" fill="#ffffff" opacity="0.85"/><circle cx="553.4" cy="658.0" r="1.0" fill="#ffffff" opacity="0.85"/><circle cx="569.1" cy="716.3" r="1.0" fill="#ffffff" opacity="0.85"/><circle cx="573.8" cy="696.9" r="1.3" fill="#ffffff" opacity="0.85"/><circle cx="570.2" cy="678.9" r="0.9" fill="#ffffff" opacity="0.85"/><circle cx="620.6" cy="663.7" r="1.5" fill="#ffffff" opacity="0.85"/><circle cx="567.5" cy="710.5" r="1.5" fill="#ffffff" opacity="0.85"/><circle cx="595.6" cy="598.0" r="1.6" fill="#ffffff" opacity="0.85"/><circle cx="619.7" cy="671.3" r="1.5" fill="#ffffff" opacity="0.85"/><circle cx="602.9" cy="657.4" r="1.1" fill="#ffffff" opacity="0.85"/><circle cx="604.4" cy="593.2" r="1.3" fill="#ffffff" opacity="0.85"/><circle cx="612.1" cy="714.4" r="1.2" fill="#ffffff" opacity="0.85"/><circle cx="564.6" cy="685.1" r="1.3" fill="#ffffff" opacity="0.85"/><circle cx="552.7" cy="706.1" r="1.3" fill="#ffffff" opacity="0.85"/><circle cx="562.0" cy="653.4" r="0.9" fill="#ffffff" opacity="0.85"/><circle cx="589.2" cy="686.3" r="1.4" fill="#ffffff" opacity="0.85"/><circle cx="600.2" cy="576.5" r="1.2" fill="#ffffff" opacity="0.85"/><circle cx="583.2" cy="653.2" r="0.9" fill="#ffffff" opacity="0.85"/><circle cx="617.2" cy="644.9" r="1.1" fill="#ffffff" opacity="0.85"/><circle cx="535.8" cy="664.2" r="1.6" fill="#ffffff" opacity="0.85"/><circle cx="547.5" cy="610.2" r="1.3" fill="#ffffff" opacity="0.85"/><circle cx="528.1" cy="611.6" r="1.5" fill="#ffffff" opacity="0.85"/><circle cx="573.7" cy="689.1" r="1.1" fill="#ffffff" opacity="0.85"/><circle cx="611.0" cy="681.6" r="1.1" fill="#ffffff" opacity="0.85"/><circle cx="570.5" cy="662.9" r="1.3" fill="#ffffff" opacity="0.85"/><circle cx="579.1" cy="580.8" r="1.3" fill="#ffffff" opacity="0.85"/><circle cx="549.6" cy="684.5" r="1.2" fill="#ffffff" opacity="0.85"/><circle cx="624.2" cy="644.1" r="1.1" fill="#ffffff" opacity="0.85"/><circle cx="595.2" cy="544.7" r="1.3" fill="#ffffff" opacity="0.85"/><circle cx="544.0" cy="680.6" r="1.0" fill="#ffffff" opacity="0.85"/><circle cx="588.5" cy="668.9" r="1.1" fill="#ffffff" opacity="0.85"/><circle cx="584.8" cy="584.7" r="0.9" fill="#ffffff" opacity="0.85"/><circle cx="560.0" cy="686.5" r="1.0" fill="#ffffff" opacity="0.85"/><circle cx="619.6" cy="630.6" r="1.0" fill="#ffffff" opacity="0.85"/><circle cx="561.1" cy="665.8" r="1.3" fill="#ffffff" opacity="0.85"/><circle cx="605.9" cy="636.7" r="1.5" fill="#ffffff" opacity="0.85"/><circle cx="582.0" cy="598.5" r="1.2" fill="#ffffff" opacity="0.85"/></g>
<g filter="url(#dotblur)" clip-path="url(#protclip)"><circle cx="439.6" cy="573.1" r="1.3" fill="#f0d8ff" opacity="0.7"/><circle cx="409.9" cy="558.0" r="1.2" fill="#f0d8ff" opacity="0.7"/><circle cx="415.7" cy="575.2" r="0.9" fill="#f0d8ff" opacity="0.7"/><circle cx="407.0" cy="591.8" r="1.2" fill="#f0d8ff" opacity="0.7"/><circle cx="434.5" cy="593.4" r="1.2" fill="#f0d8ff" opacity="0.7"/><circle cx="439.4" cy="588.4" r="1.3" fill="#f0d8ff" opacity="0.7"/><circle cx="464.0" cy="569.1" r="1.4" fill="#f0d8ff" opacity="0.7"/><circle cx="425.2" cy="582.8" r="1.4" fill="#f0d8ff" opacity="0.7"/><circle cx="421.7" cy="551.0" r="1.2" fill="#f0d8ff" opacity="0.7"/><circle cx="447.7" cy="584.0" r="1.2" fill="#f0d8ff" opacity="0.7"/><circle cx="442.9" cy="557.3" r="1.0" fill="#f0d8ff" opacity="0.7"/><circle cx="422.3" cy="598.8" r="1.0" fill="#f0d8ff" opacity="0.7"/><circle cx="408.9" cy="551.8" r="0.9" fill="#f0d8ff" opacity="0.7"/><circle cx="419.2" cy="582.9" r="1.5" fill="#f0d8ff" opacity="0.7"/></g>
<g filter="url(#dotblur)" clip-path="url(#protclip)"><circle cx="550.9" cy="604.6" r="1.0" fill="#f0d8ff" opacity="0.7"/><circle cx="548.3" cy="556.4" r="1.4" fill="#f0d8ff" opacity="0.7"/><circle cx="551.6" cy="599.8" r="1.2" fill="#f0d8ff" opacity="0.7"/><circle cx="560.3" cy="614.1" r="1.0" fill="#f0d8ff" opacity="0.7"/><circle cx="552.5" cy="579.1" r="1.1" fill="#f0d8ff" opacity="0.7"/><circle cx="553.8" cy="604.8" r="1.0" fill="#f0d8ff" opacity="0.7"/><circle cx="527.2" cy="570.2" r="1.3" fill="#f0d8ff" opacity="0.7"/><circle cx="556.2" cy="603.3" r="1.6" fill="#f0d8ff" opacity="0.7"/><circle cx="552.7" cy="610.0" r="1.0" fill="#f0d8ff" opacity="0.7"/><circle cx="537.5" cy="560.4" r="1.0" fill="#f0d8ff" opacity="0.7"/><circle cx="536.6" cy="593.7" r="1.6" fill="#f0d8ff" opacity="0.7"/><circle cx="515.3" cy="583.1" r="1.6" fill="#f0d8ff" opacity="0.7"/></g>
<g filter="url(#dotblur)" clip-path="url(#protclip)"><circle cx="384.6" cy="603.3" r="1.5" fill="#eaffea" opacity="0.7"/><circle cx="376.5" cy="599.2" r="1.3" fill="#eaffea" opacity="0.7"/><circle cx="367.9" cy="605.3" r="1.1" fill="#eaffea" opacity="0.7"/><circle cx="381.1" cy="565.8" r="1.3" fill="#eaffea" opacity="0.7"/><circle cx="372.0" cy="585.4" r="1.5" fill="#eaffea" opacity="0.7"/><circle cx="391.4" cy="593.5" r="1.3" fill="#eaffea" opacity="0.7"/><circle cx="407.0" cy="547.7" r="1.2" fill="#eaffea" opacity="0.7"/><circle cx="389.3" cy="542.0" r="1.6" fill="#eaffea" opacity="0.7"/><circle cx="397.6" cy="541.5" r="1.3" fill="#eaffea" opacity="0.7"/><circle cx="386.5" cy="548.3" r="1.0" fill="#eaffea" opacity="0.7"/></g>
<g filter="url(#dotblur)" clip-path="url(#protclip)"><circle cx="423.8" cy="615.1" r="1.0" fill="#fff0a0" opacity="0.8"/><circle cx="383.5" cy="639.6" r="1.3" fill="#fff0a0" opacity="0.8"/><circle cx="434.7" cy="616.1" r="1.0" fill="#fff0a0" opacity="0.8"/><circle cx="415.3" cy="647.6" r="1.6" fill="#fff0a0" opacity="0.8"/><circle cx="401.9" cy="647.0" r="0.9" fill="#fff0a0" opacity="0.8"/><circle cx="436.5" cy="619.7" r="1.3" fill="#fff0a0" opacity="0.8"/><circle cx="388.2" cy="606.9" r="0.9" fill="#fff0a0" opacity="0.8"/><circle cx="415.4" cy="633.4" r="1.5" fill="#fff0a0" opacity="0.8"/><circle cx="429.6" cy="615.0" r="1.5" fill="#fff0a0" opacity="0.8"/><circle cx="403.1" cy="626.6" r="1.3" fill="#fff0a0" opacity="0.8"/></g>
<ellipse cx="573" cy="627" rx="5.5" ry="5" fill="#7a2ed0" opacity="0.85"/>
<ellipse cx="594" cy="600" rx="3.5" ry="5" fill="#7a2ed0" opacity="0.85"/>
<path d="M567,592 L574,589 L580,594 L576,600 L569,598 Z" fill="#b0306a" opacity="0.8"/>
<path d="M394,610 L400,608 L402,615 L398,621 L393,618 Z" fill="#b0306a" opacity="0.8"/>
<path d="M374,594 L380,588 L388,590 L394,586 L400,590 M384,590 L386,598 M392,588 L396,596" fill="none" stroke="#2e3a6a" stroke-width="1.4" stroke-opacity="0.8" stroke-linejoin="round"/>
<ellipse cx="425" cy="573" rx="5" ry="4.5" fill="#fff"/>
<ellipse cx="549" cy="575.1" rx="5" ry="4.5" fill="#fff"/>
<path d="M365,600 C370,612 368,625 362,640 C356,655 352,668 356,684 C360,700 352,712 348,722" fill="none" stroke="#8c8c8c" stroke-width="2.6" stroke-opacity="0.35" stroke-linejoin="round"/>
<path d="M365,600 C370,612 368,625 362,640 C356,655 352,668 356,684 C360,700 352,712 348,722" fill="none" stroke="#666" stroke-width="0.8" stroke-opacity="0.65" stroke-linejoin="round"/>
<path d="M395,640 C402,652 398,668 392,680 C388,694 394,708 392,722" fill="none" stroke="#8c8c8c" stroke-width="2.6" stroke-opacity="0.35" stroke-linejoin="round"/>
<path d="M395,640 C402,652 398,668 392,680 C388,694 394,708 392,722" fill="none" stroke="#666" stroke-width="0.8" stroke-opacity="0.65" stroke-linejoin="round"/>
<path d="M372,660 C380,668 388,676 386,690 C384,700 378,710 380,722" fill="none" stroke="#8c8c8c" stroke-width="2.6" stroke-opacity="0.35" stroke-linejoin="round"/>
<path d="M372,660 C380,668 388,676 386,690 C384,700 378,710 380,722" fill="none" stroke="#666" stroke-width="0.8" stroke-opacity="0.65" stroke-linejoin="round"/>
<path d="M580,550 C590,556 598,566 596,580 C594,594 586,604 580,618 C572,636 566,652 560,668 C556,684 552,702 548,722" fill="none" stroke="#8c8c8c" stroke-width="2.6" stroke-opacity="0.35" stroke-linejoin="round"/>
<path d="M580,550 C590,556 598,566 596,580 C594,594 586,604 580,618 C572,636 566,652 560,668 C556,684 552,702 548,722" fill="none" stroke="#666" stroke-width="0.8" stroke-opacity="0.65" stroke-linejoin="round"/>
<path d="M596,600 C604,612 606,628 600,644 C596,660 600,676 596,692 C592,706 590,714 594,722" fill="none" stroke="#8c8c8c" stroke-width="2.6" stroke-opacity="0.35" stroke-linejoin="round"/>
<path d="M596,600 C604,612 606,628 600,644 C596,660 600,676 596,692 C592,706 590,714 594,722" fill="none" stroke="#666" stroke-width="0.8" stroke-opacity="0.65" stroke-linejoin="round"/>
<path d="M568,560 C576,572 580,586 574,600 C568,614 564,626 566,640" fill="none" stroke="#8c8c8c" stroke-width="2.6" stroke-opacity="0.35" stroke-linejoin="round"/>
<path d="M568,560 C576,572 580,586 574,600 C568,614 564,626 566,640" fill="none" stroke="#666" stroke-width="0.8" stroke-opacity="0.65" stroke-linejoin="round"/>
<path d="M612,610 C618,624 618,640 612,652 C606,666 608,684 606,700" fill="none" stroke="#8c8c8c" stroke-width="2.6" stroke-opacity="0.35" stroke-linejoin="round"/>
<path d="M612,610 C618,624 618,640 612,652 C606,666 608,684 606,700" fill="none" stroke="#666" stroke-width="0.8" stroke-opacity="0.65" stroke-linejoin="round"/>
<path d="M388,548 C396,544 402,550 398,558 C394,566 386,572 384,582 C382,592 378,600 376,608" fill="none" stroke="#2f7a30" stroke-width="1.2" stroke-opacity="0.85" stroke-linejoin="round"/>
<path d="M404,560 L414,556 L424,562 L436,556 L446,562 L456,566 L462,572" fill="none" stroke="#6a1ec8" stroke-width="1.4" stroke-opacity="0.85" stroke-linejoin="round"/>
<path d="M438,556 L444,566 L440,578 L446,586 L458,588" fill="none" stroke="#6a1ec8" stroke-width="1.4" stroke-opacity="0.85" stroke-linejoin="round"/>
<path d="M408,580 L418,584 L430,590 L440,594 L432,600 L424,606" fill="none" stroke="#6a1ec8" stroke-width="1.4" stroke-opacity="0.85" stroke-linejoin="round"/>
<path d="M512,566 L522,560 L534,556 L544,552 L552,556" fill="none" stroke="#6a1ec8" stroke-width="1.4" stroke-opacity="0.85" stroke-linejoin="round"/>
<path d="M512,582 L522,584 L532,582 L540,586 L548,594 L556,600 L560,610" fill="none" stroke="#6a1ec8" stroke-width="1.4" stroke-opacity="0.85" stroke-linejoin="round"/>
<path d="M540,560 L536,572 L540,584" fill="none" stroke="#6a1ec8" stroke-width="1.4" stroke-opacity="0.85" stroke-linejoin="round"/>
<path d="M562,560 C568,552 576,548 584,552 C590,556 590,566 584,572" fill="none" stroke="#2f7a30" stroke-width="1.2" stroke-opacity="0.85" stroke-linejoin="round"/>
<text x="421.20" y="535.60" font-size="10" fill="#9a4cf0" stroke="#9a4cf0" stroke-width="0.1" text-anchor="start" font-weight="normal" >D85</text>
<line x1="428.5" y1="537.5" x2="419.8" y2="551.5" stroke="#111" stroke-width="0.8"/>
<circle cx="419.5" cy="552" r="1" fill="#111"/>
<text x="460.00" y="554.00" font-size="10" fill="#9a4cf0" stroke="#9a4cf0" stroke-width="0.1" text-anchor="start" font-weight="normal" >F83</text>
<line x1="466.4" y1="556" x2="462" y2="564.8" stroke="#111" stroke-width="0.8"/>
<circle cx="462" cy="565" r="1" fill="#111"/>
<text x="547.70" y="530.70" font-size="10" fill="#9a4cf0" stroke="#9a4cf0" stroke-width="0.1" text-anchor="start" font-weight="normal" >D85</text>
<line x1="557.4" y1="533.6" x2="557.4" y2="546" stroke="#111" stroke-width="0.8"/>
<path d="M555.4,545 L557.4,549 L559.4,545 Z" fill="#111"/>
<text x="498.10" y="554.00" font-size="10" fill="#9a4cf0" stroke="#9a4cf0" stroke-width="0.1" text-anchor="start" font-weight="normal" >F83</text>
<line x1="507.7" y1="556" x2="512.7" y2="564.8" stroke="#111" stroke-width="0.8"/>
<circle cx="512.7" cy="565" r="1" fill="#111"/>
<text x="314.60" y="704.70" font-size="11.7" fill="#86868c" stroke="#86868c" stroke-width="0.05" text-anchor="start" font-weight="normal" >EC1</text>
<line x1="481.6" y1="611.1" x2="481.6" y2="719.2" stroke="#999" stroke-width="0.6"/>
<path d="M476.4,666.7 C476.5,673 481,677.5 488,677.6" fill="none" stroke="#111" stroke-width="1"/>
<path d="M486.5,674.8 L490.5,677.7 L486.5,680.3 Z" fill="#111"/>
<text x="486.90" y="693.30" font-size="10.4" fill="#222" stroke="#222" stroke-width="0.1" text-anchor="start" font-weight="normal" >180°</text>
<text x="319.60" y="745.40" font-size="8.5" fill="#222" stroke="#222" stroke-width="0.1" text-anchor="start" font-weight="normal" >Mutational effect:</text>
<circle cx="394.7" cy="742.5" r="2.5" fill="#14b446"/>
<text x="399.00" y="745.40" font-size="8.4" fill="#222" stroke="#222" stroke-width="0.1" text-anchor="start" font-weight="normal" >WT-like binders</text>
<circle cx="470.0" cy="742.5" r="2.5" fill="#ff8c1a"/>
<text x="476.40" y="745.40" font-size="8.4" fill="#222" stroke="#222" stroke-width="0.1" text-anchor="start" font-weight="normal" >Intermediate binders</text>
<circle cx="566.8" cy="742.5" r="2.5" fill="#9650f0"/>
<text x="572.00" y="745.40" font-size="8.5" fill="#222" stroke="#222" stroke-width="0.1" text-anchor="start" font-weight="normal" letter-spacing="-0.5">Poor binders</text></svg></body></html>
